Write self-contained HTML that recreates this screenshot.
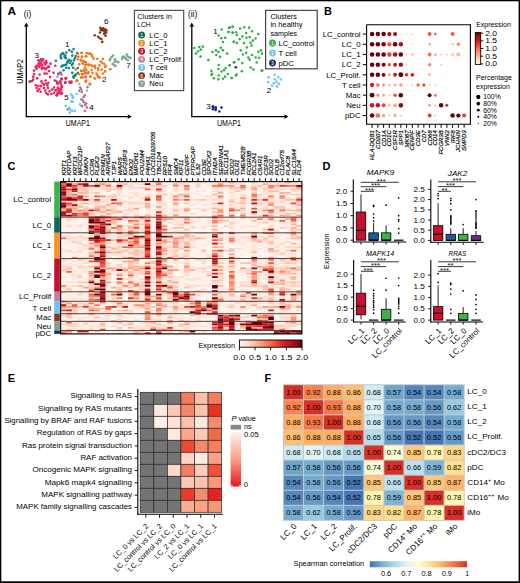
<!DOCTYPE html>
<html><head><meta charset="utf-8"><style>
html,body{margin:0;padding:0;background:#fff;width:520px;height:583px;overflow:hidden}
svg{display:block}
text{font-family:"Liberation Sans",sans-serif}
</style></head><body>
<svg width="520" height="583" viewBox="0 0 520 583" font-family="Liberation Sans, sans-serif"><rect x="0.00" y="0.00" width="520.00" height="1.30" fill="#000"/>
<rect x="0.00" y="0.00" width="1.30" height="583.00" fill="#000"/>
<rect x="518.60" y="0.00" width="1.40" height="583.00" fill="#000"/>
<rect x="0.00" y="581.30" width="520.00" height="1.70" fill="#000"/>
<text x="7.60" y="15.20" font-size="11" text-anchor="start" font-weight="bold" fill="#000" textLength="8.6" lengthAdjust="spacingAndGlyphs">A</text>
<text x="324.10" y="15.00" font-size="11" text-anchor="start" font-weight="bold" fill="#000">B</text>
<text x="7.60" y="169.60" font-size="11" text-anchor="start" font-weight="bold" fill="#000">C</text>
<text x="322.40" y="169.80" font-size="11" text-anchor="start" font-weight="bold" fill="#000">D</text>
<text x="7.80" y="381.60" font-size="11" text-anchor="start" font-weight="bold" fill="#000">E</text>
<text x="264.60" y="381.60" font-size="11" text-anchor="start" font-weight="bold" fill="#000">F</text>
<line x1="26.30" y1="116.60" x2="129.50" y2="116.60" stroke="#000" stroke-width="1.3"/>
<path d="M131.8 116.6 L127.4 114.2 L128.4 116.6 L127.4 119.0 Z" fill="#000"/>
<line x1="26.30" y1="117.20" x2="26.30" y2="25.50" stroke="#000" stroke-width="1.3"/>
<path d="M26.3 22.6 L23.9 27.0 L26.3 26.0 L28.7 27.0 Z" fill="#000"/>
<text x="23.80" y="16.90" font-size="8.4" text-anchor="start">(i)</text>
<text x="77.80" y="126.30" font-size="8.8" text-anchor="middle" textLength="24.0" lengthAdjust="spacingAndGlyphs">UMAP1</text>
<text x="23.40" y="71.40" font-size="9.0" text-anchor="middle" transform="rotate(-90 23.40 71.40)" textLength="24.7" lengthAdjust="spacingAndGlyphs">UMAP2</text>
<circle cx="40.98" cy="59.33" r="1.30" fill="#e6245f"/>
<circle cx="43.14" cy="59.33" r="1.30" fill="#e6245f"/>
<circle cx="39.68" cy="61.06" r="1.30" fill="#e6245f"/>
<circle cx="42.28" cy="61.06" r="1.30" fill="#e6245f"/>
<circle cx="46.17" cy="61.06" r="1.30" fill="#e6245f"/>
<circle cx="38.82" cy="63.22" r="1.30" fill="#e6245f"/>
<circle cx="40.98" cy="63.22" r="1.30" fill="#e6245f"/>
<circle cx="44.44" cy="62.79" r="1.30" fill="#e6245f"/>
<circle cx="46.61" cy="62.79" r="1.30" fill="#e6245f"/>
<circle cx="50.50" cy="63.65" r="1.30" fill="#e6245f"/>
<circle cx="37.52" cy="65.38" r="1.30" fill="#e6245f"/>
<circle cx="40.11" cy="64.95" r="1.30" fill="#e6245f"/>
<circle cx="42.28" cy="65.38" r="1.30" fill="#e6245f"/>
<circle cx="45.31" cy="64.52" r="1.30" fill="#e6245f"/>
<circle cx="48.34" cy="66.25" r="1.30" fill="#e6245f"/>
<circle cx="35.79" cy="67.55" r="1.30" fill="#e6245f"/>
<circle cx="39.25" cy="67.11" r="1.30" fill="#e6245f"/>
<circle cx="41.85" cy="67.55" r="1.30" fill="#e6245f"/>
<circle cx="44.01" cy="67.98" r="1.30" fill="#e6245f"/>
<circle cx="46.61" cy="67.98" r="1.30" fill="#e6245f"/>
<circle cx="48.77" cy="67.11" r="1.30" fill="#e6245f"/>
<circle cx="55.26" cy="65.82" r="1.30" fill="#e6245f"/>
<circle cx="34.06" cy="70.58" r="1.30" fill="#e6245f"/>
<circle cx="36.65" cy="68.85" r="1.30" fill="#e6245f"/>
<circle cx="41.85" cy="68.85" r="1.30" fill="#e6245f"/>
<circle cx="45.31" cy="69.28" r="1.30" fill="#e6245f"/>
<circle cx="49.20" cy="71.01" r="1.30" fill="#e6245f"/>
<circle cx="53.53" cy="72.74" r="1.30" fill="#e6245f"/>
<circle cx="34.06" cy="74.04" r="1.30" fill="#e6245f"/>
<circle cx="39.68" cy="74.47" r="1.30" fill="#e6245f"/>
<circle cx="44.44" cy="73.61" r="1.30" fill="#e6245f"/>
<circle cx="46.61" cy="73.61" r="1.30" fill="#e6245f"/>
<circle cx="58.29" cy="74.04" r="1.30" fill="#e6245f"/>
<circle cx="50.07" cy="77.07" r="1.30" fill="#e6245f"/>
<circle cx="37.09" cy="78.36" r="1.30" fill="#e6245f"/>
<circle cx="33.19" cy="79.66" r="1.30" fill="#e6245f"/>
<circle cx="31.89" cy="80.96" r="1.30" fill="#e6245f"/>
<circle cx="41.41" cy="81.39" r="1.30" fill="#e6245f"/>
<circle cx="45.74" cy="80.53" r="1.30" fill="#e6245f"/>
<circle cx="48.34" cy="82.69" r="1.30" fill="#e6245f"/>
<circle cx="54.83" cy="80.53" r="1.30" fill="#e6245f"/>
<circle cx="57.42" cy="82.69" r="1.30" fill="#e6245f"/>
<circle cx="61.32" cy="78.80" r="1.30" fill="#e6245f"/>
<circle cx="65.64" cy="78.36" r="1.30" fill="#e6245f"/>
<circle cx="60.45" cy="81.39" r="1.30" fill="#e6245f"/>
<circle cx="65.21" cy="82.69" r="1.30" fill="#e6245f"/>
<circle cx="69.54" cy="81.83" r="1.30" fill="#e6245f"/>
<circle cx="71.27" cy="82.69" r="1.30" fill="#e6245f"/>
<circle cx="35.79" cy="85.29" r="1.30" fill="#e6245f"/>
<circle cx="38.38" cy="85.72" r="1.30" fill="#e6245f"/>
<circle cx="40.98" cy="86.15" r="1.30" fill="#e6245f"/>
<circle cx="44.01" cy="84.85" r="1.30" fill="#e6245f"/>
<circle cx="46.17" cy="83.56" r="1.30" fill="#e6245f"/>
<circle cx="47.47" cy="85.29" r="1.30" fill="#e6245f"/>
<circle cx="44.01" cy="87.88" r="1.30" fill="#e6245f"/>
<circle cx="47.90" cy="87.88" r="1.30" fill="#e6245f"/>
<circle cx="36.65" cy="87.88" r="1.30" fill="#e6245f"/>
<circle cx="39.25" cy="89.18" r="1.30" fill="#e6245f"/>
<circle cx="37.52" cy="90.91" r="1.30" fill="#e6245f"/>
<circle cx="40.55" cy="91.78" r="1.30" fill="#e6245f"/>
<circle cx="45.31" cy="90.48" r="1.30" fill="#e6245f"/>
<circle cx="46.17" cy="93.08" r="1.30" fill="#e6245f"/>
<circle cx="53.96" cy="87.45" r="1.30" fill="#e6245f"/>
<circle cx="57.85" cy="87.88" r="1.30" fill="#e6245f"/>
<circle cx="61.75" cy="87.02" r="1.30" fill="#e6245f"/>
<circle cx="52.23" cy="89.61" r="1.30" fill="#e6245f"/>
<circle cx="55.26" cy="90.48" r="1.30" fill="#e6245f"/>
<circle cx="58.72" cy="90.48" r="1.30" fill="#e6245f"/>
<circle cx="61.32" cy="89.61" r="1.30" fill="#e6245f"/>
<circle cx="51.36" cy="93.94" r="1.30" fill="#e6245f"/>
<circle cx="53.96" cy="93.08" r="1.30" fill="#e6245f"/>
<circle cx="57.42" cy="93.08" r="1.30" fill="#e6245f"/>
<circle cx="60.88" cy="93.51" r="1.30" fill="#e6245f"/>
<circle cx="56.56" cy="95.24" r="1.30" fill="#e6245f"/>
<circle cx="47.90" cy="94.37" r="1.30" fill="#e6245f"/>
<circle cx="38.38" cy="60.19" r="1.30" fill="#e6245f"/>
<circle cx="36.22" cy="66.25" r="1.30" fill="#e6245f"/>
<circle cx="33.19" cy="76.63" r="1.30" fill="#e6245f"/>
<circle cx="42.71" cy="83.56" r="1.30" fill="#e6245f"/>
<circle cx="49.63" cy="91.34" r="1.30" fill="#e6245f"/>
<circle cx="65.82" cy="78.46" r="1.30" fill="#e6245f"/>
<circle cx="61.49" cy="78.89" r="1.30" fill="#e6245f"/>
<circle cx="56.73" cy="81.49" r="1.30" fill="#e6245f"/>
<circle cx="60.19" cy="81.92" r="1.30" fill="#e6245f"/>
<circle cx="65.38" cy="82.79" r="1.30" fill="#e6245f"/>
<circle cx="69.71" cy="82.36" r="1.30" fill="#e6245f"/>
<circle cx="71.44" cy="81.49" r="1.30" fill="#e6245f"/>
<circle cx="57.60" cy="83.65" r="1.30" fill="#e6245f"/>
<circle cx="61.06" cy="84.52" r="1.30" fill="#e6245f"/>
<circle cx="61.92" cy="86.25" r="1.30" fill="#e6245f"/>
<circle cx="58.03" cy="87.98" r="1.30" fill="#e6245f"/>
<circle cx="60.19" cy="88.85" r="1.30" fill="#e6245f"/>
<circle cx="56.30" cy="90.14" r="1.30" fill="#e6245f"/>
<circle cx="59.33" cy="91.44" r="1.30" fill="#e6245f"/>
<circle cx="61.06" cy="92.31" r="1.30" fill="#e6245f"/>
<circle cx="58.46" cy="93.61" r="1.30" fill="#e6245f"/>
<circle cx="61.92" cy="93.61" r="1.30" fill="#e6245f"/>
<circle cx="56.73" cy="95.34" r="1.30" fill="#e6245f"/>
<circle cx="58.46" cy="73.75" r="1.30" fill="#e6245f"/>
<circle cx="61.92" cy="78.94" r="1.30" fill="#e6245f"/>
<circle cx="66.25" cy="78.08" r="1.30" fill="#e6245f"/>
<circle cx="65.38" cy="82.40" r="1.30" fill="#e6245f"/>
<circle cx="69.71" cy="82.40" r="1.30" fill="#e6245f"/>
<circle cx="57.60" cy="83.27" r="1.30" fill="#e6245f"/>
<circle cx="60.19" cy="82.40" r="1.30" fill="#e6245f"/>
<circle cx="73.61" cy="49.09" r="1.30" fill="#12838a"/>
<circle cx="69.28" cy="50.21" r="1.30" fill="#12838a"/>
<circle cx="71.87" cy="51.68" r="1.30" fill="#12838a"/>
<circle cx="66.25" cy="52.55" r="1.30" fill="#12838a"/>
<circle cx="62.79" cy="52.98" r="1.30" fill="#12838a"/>
<circle cx="61.49" cy="54.28" r="1.30" fill="#12838a"/>
<circle cx="60.62" cy="56.01" r="1.30" fill="#12838a"/>
<circle cx="65.38" cy="55.58" r="1.30" fill="#12838a"/>
<circle cx="72.31" cy="55.58" r="1.30" fill="#12838a"/>
<circle cx="64.52" cy="56.87" r="1.30" fill="#12838a"/>
<circle cx="74.90" cy="58.17" r="1.30" fill="#12838a"/>
<circle cx="65.82" cy="58.17" r="1.30" fill="#12838a"/>
<circle cx="61.06" cy="58.17" r="1.30" fill="#12838a"/>
<circle cx="55.87" cy="60.77" r="1.30" fill="#12838a"/>
<circle cx="68.85" cy="59.90" r="1.30" fill="#12838a"/>
<circle cx="67.98" cy="61.20" r="1.30" fill="#12838a"/>
<circle cx="71.01" cy="60.77" r="1.30" fill="#12838a"/>
<circle cx="74.04" cy="60.34" r="1.30" fill="#12838a"/>
<circle cx="69.71" cy="62.93" r="1.30" fill="#12838a"/>
<circle cx="72.74" cy="63.36" r="1.30" fill="#12838a"/>
<circle cx="71.87" cy="65.10" r="1.30" fill="#12838a"/>
<circle cx="62.79" cy="65.53" r="1.30" fill="#12838a"/>
<circle cx="64.52" cy="65.10" r="1.30" fill="#12838a"/>
<circle cx="66.25" cy="64.66" r="1.30" fill="#12838a"/>
<circle cx="61.49" cy="66.39" r="1.30" fill="#12838a"/>
<circle cx="66.25" cy="67.69" r="1.30" fill="#12838a"/>
<circle cx="68.85" cy="68.12" r="1.30" fill="#12838a"/>
<circle cx="73.17" cy="67.69" r="1.30" fill="#12838a"/>
<circle cx="77.93" cy="68.12" r="1.30" fill="#12838a"/>
<circle cx="63.65" cy="70.29" r="1.30" fill="#12838a"/>
<circle cx="60.62" cy="72.45" r="1.30" fill="#12838a"/>
<circle cx="72.31" cy="72.88" r="1.30" fill="#12838a"/>
<circle cx="77.93" cy="72.88" r="1.30" fill="#12838a"/>
<circle cx="75.77" cy="74.61" r="1.30" fill="#12838a"/>
<circle cx="74.47" cy="76.34" r="1.30" fill="#12838a"/>
<circle cx="73.61" cy="77.64" r="1.30" fill="#12838a"/>
<circle cx="77.07" cy="52.98" r="1.30" fill="#12838a"/>
<circle cx="75.77" cy="56.01" r="1.30" fill="#12838a"/>
<circle cx="63.65" cy="54.28" r="1.30" fill="#12838a"/>
<circle cx="67.11" cy="62.50" r="1.30" fill="#12838a"/>
<circle cx="73.61" cy="76.30" r="1.30" fill="#12838a"/>
<circle cx="74.90" cy="75.43" r="1.30" fill="#12838a"/>
<circle cx="77.93" cy="53.85" r="1.30" fill="#f3751a"/>
<circle cx="81.39" cy="52.98" r="1.30" fill="#f3751a"/>
<circle cx="87.02" cy="52.98" r="1.30" fill="#f3751a"/>
<circle cx="89.61" cy="53.85" r="1.30" fill="#f3751a"/>
<circle cx="78.36" cy="56.87" r="1.30" fill="#f3751a"/>
<circle cx="81.83" cy="56.87" r="1.30" fill="#f3751a"/>
<circle cx="86.15" cy="56.44" r="1.30" fill="#f3751a"/>
<circle cx="77.93" cy="59.47" r="1.30" fill="#f3751a"/>
<circle cx="80.96" cy="59.90" r="1.30" fill="#f3751a"/>
<circle cx="83.56" cy="61.20" r="1.30" fill="#f3751a"/>
<circle cx="85.72" cy="62.07" r="1.30" fill="#f3751a"/>
<circle cx="79.23" cy="64.23" r="1.30" fill="#f3751a"/>
<circle cx="82.69" cy="63.36" r="1.30" fill="#f3751a"/>
<circle cx="85.29" cy="65.10" r="1.30" fill="#f3751a"/>
<circle cx="88.75" cy="65.10" r="1.30" fill="#f3751a"/>
<circle cx="80.96" cy="70.72" r="1.30" fill="#f3751a"/>
<circle cx="83.56" cy="70.29" r="1.30" fill="#f3751a"/>
<circle cx="86.15" cy="69.85" r="1.30" fill="#f3751a"/>
<circle cx="85.29" cy="72.88" r="1.30" fill="#f3751a"/>
<circle cx="87.88" cy="72.45" r="1.30" fill="#f3751a"/>
<circle cx="81.83" cy="73.75" r="1.30" fill="#f3751a"/>
<circle cx="78.80" cy="74.18" r="1.30" fill="#f3751a"/>
<circle cx="82.69" cy="77.21" r="1.30" fill="#f3751a"/>
<circle cx="76.63" cy="80.67" r="1.30" fill="#f3751a"/>
<circle cx="86.15" cy="80.67" r="1.30" fill="#f3751a"/>
<circle cx="75.77" cy="69.42" r="1.30" fill="#f3751a"/>
<circle cx="84.85" cy="67.69" r="1.30" fill="#f3751a"/>
<circle cx="77.50" cy="80.67" r="1.30" fill="#f3751a"/>
<circle cx="89.61" cy="83.70" r="1.30" fill="#f3751a"/>
<circle cx="81.73" cy="52.79" r="1.30" fill="#f3751a"/>
<circle cx="86.92" cy="53.22" r="1.30" fill="#f3751a"/>
<circle cx="89.52" cy="53.65" r="1.30" fill="#f3751a"/>
<circle cx="91.68" cy="54.52" r="1.30" fill="#f3751a"/>
<circle cx="82.16" cy="56.68" r="1.30" fill="#f3751a"/>
<circle cx="86.06" cy="56.25" r="1.30" fill="#f3751a"/>
<circle cx="92.11" cy="56.25" r="1.30" fill="#f3751a"/>
<circle cx="93.41" cy="58.41" r="1.30" fill="#f3751a"/>
<circle cx="97.31" cy="58.85" r="1.30" fill="#f3751a"/>
<circle cx="102.93" cy="58.85" r="1.30" fill="#f3751a"/>
<circle cx="80.87" cy="60.58" r="1.30" fill="#f3751a"/>
<circle cx="83.46" cy="61.01" r="1.30" fill="#f3751a"/>
<circle cx="85.62" cy="62.31" r="1.30" fill="#f3751a"/>
<circle cx="83.03" cy="63.61" r="1.30" fill="#f3751a"/>
<circle cx="86.92" cy="64.47" r="1.30" fill="#f3751a"/>
<circle cx="89.09" cy="64.47" r="1.30" fill="#f3751a"/>
<circle cx="91.25" cy="65.34" r="1.30" fill="#f3751a"/>
<circle cx="92.98" cy="66.20" r="1.30" fill="#f3751a"/>
<circle cx="95.14" cy="65.77" r="1.30" fill="#f3751a"/>
<circle cx="100.77" cy="61.44" r="1.30" fill="#f3751a"/>
<circle cx="102.07" cy="62.74" r="1.30" fill="#f3751a"/>
<circle cx="99.47" cy="65.34" r="1.30" fill="#f3751a"/>
<circle cx="104.23" cy="64.04" r="1.30" fill="#f3751a"/>
<circle cx="105.96" cy="65.77" r="1.30" fill="#f3751a"/>
<circle cx="105.10" cy="67.07" r="1.30" fill="#f3751a"/>
<circle cx="95.14" cy="67.93" r="1.30" fill="#f3751a"/>
<circle cx="98.17" cy="67.93" r="1.30" fill="#f3751a"/>
<circle cx="98.17" cy="70.10" r="1.30" fill="#f3751a"/>
<circle cx="101.63" cy="69.66" r="1.30" fill="#f3751a"/>
<circle cx="91.68" cy="70.10" r="1.30" fill="#f3751a"/>
<circle cx="86.06" cy="70.10" r="1.30" fill="#f3751a"/>
<circle cx="81.73" cy="70.96" r="1.30" fill="#f3751a"/>
<circle cx="83.89" cy="70.96" r="1.30" fill="#f3751a"/>
<circle cx="88.65" cy="72.26" r="1.30" fill="#f3751a"/>
<circle cx="92.55" cy="73.12" r="1.30" fill="#f3751a"/>
<circle cx="96.44" cy="73.56" r="1.30" fill="#f3751a"/>
<circle cx="102.93" cy="73.56" r="1.30" fill="#f3751a"/>
<circle cx="105.10" cy="71.39" r="1.30" fill="#f3751a"/>
<circle cx="110.29" cy="69.23" r="1.30" fill="#f3751a"/>
<circle cx="82.16" cy="74.42" r="1.30" fill="#f3751a"/>
<circle cx="85.62" cy="73.12" r="1.30" fill="#f3751a"/>
<circle cx="90.38" cy="76.59" r="1.30" fill="#f3751a"/>
<circle cx="97.31" cy="75.29" r="1.30" fill="#f3751a"/>
<circle cx="99.90" cy="77.45" r="1.30" fill="#f3751a"/>
<circle cx="94.71" cy="78.32" r="1.30" fill="#f3751a"/>
<circle cx="81.73" cy="77.45" r="1.30" fill="#f3751a"/>
<circle cx="85.62" cy="81.34" r="1.30" fill="#f3751a"/>
<circle cx="89.95" cy="84.37" r="1.30" fill="#f3751a"/>
<circle cx="87.79" cy="73.56" r="1.30" fill="#f3751a"/>
<circle cx="84.33" cy="73.99" r="1.30" fill="#f3751a"/>
<circle cx="76.63" cy="80.88" r="1.30" fill="#f3751a"/>
<circle cx="80.96" cy="77.60" r="1.30" fill="#f3751a"/>
<circle cx="85.72" cy="81.49" r="1.30" fill="#f3751a"/>
<circle cx="90.05" cy="84.09" r="1.30" fill="#f3751a"/>
<circle cx="90.48" cy="76.73" r="1.30" fill="#f3751a"/>
<circle cx="94.81" cy="78.46" r="1.30" fill="#f3751a"/>
<circle cx="98.27" cy="77.16" r="1.30" fill="#f3751a"/>
<circle cx="80.10" cy="87.55" r="1.30" fill="#b86b93"/>
<circle cx="80.96" cy="89.28" r="1.30" fill="#b86b93"/>
<circle cx="79.23" cy="91.01" r="1.30" fill="#b86b93"/>
<circle cx="81.83" cy="91.87" r="1.30" fill="#b86b93"/>
<circle cx="87.45" cy="87.11" r="1.30" fill="#b86b93"/>
<circle cx="84.85" cy="95.34" r="1.30" fill="#b86b93"/>
<circle cx="83.56" cy="97.07" r="1.30" fill="#b86b93"/>
<circle cx="81.39" cy="99.23" r="1.30" fill="#b86b93"/>
<circle cx="82.69" cy="100.53" r="1.30" fill="#b86b93"/>
<circle cx="83.99" cy="102.26" r="1.30" fill="#b86b93"/>
<circle cx="86.15" cy="103.56" r="1.30" fill="#b86b93"/>
<circle cx="85.29" cy="105.29" r="1.30" fill="#b86b93"/>
<circle cx="81.83" cy="106.15" r="1.30" fill="#b86b93"/>
<circle cx="87.02" cy="107.45" r="1.30" fill="#b86b93"/>
<circle cx="84.85" cy="110.91" r="1.30" fill="#b86b93"/>
<circle cx="67.55" cy="109.18" r="1.30" fill="#b86b93"/>
<circle cx="85.72" cy="77.16" r="1.30" fill="#b86b93"/>
<circle cx="61.49" cy="74.61" r="1.30" fill="#b86b93"/>
<circle cx="85.72" cy="76.78" r="1.30" fill="#b86b93"/>
<circle cx="57.60" cy="76.73" r="1.30" fill="#6dc5ef"/>
<circle cx="79.23" cy="84.09" r="1.30" fill="#6dc5ef"/>
<circle cx="87.02" cy="90.58" r="1.30" fill="#6dc5ef"/>
<circle cx="71.01" cy="94.47" r="1.30" fill="#6dc5ef"/>
<circle cx="72.31" cy="95.77" r="1.30" fill="#6dc5ef"/>
<circle cx="76.63" cy="94.04" r="1.30" fill="#6dc5ef"/>
<circle cx="72.74" cy="97.93" r="1.30" fill="#6dc5ef"/>
<circle cx="71.44" cy="101.39" r="1.30" fill="#6dc5ef"/>
<circle cx="72.74" cy="101.83" r="1.30" fill="#6dc5ef"/>
<circle cx="65.82" cy="105.72" r="1.30" fill="#6dc5ef"/>
<circle cx="69.28" cy="107.88" r="1.30" fill="#6dc5ef"/>
<circle cx="70.14" cy="109.61" r="1.30" fill="#6dc5ef"/>
<circle cx="72.31" cy="110.91" r="1.30" fill="#6dc5ef"/>
<circle cx="74.90" cy="110.91" r="1.30" fill="#6dc5ef"/>
<circle cx="69.71" cy="112.64" r="1.30" fill="#6dc5ef"/>
<circle cx="80.10" cy="104.42" r="1.30" fill="#6dc5ef"/>
<circle cx="73.17" cy="97.07" r="1.30" fill="#6dc5ef"/>
<circle cx="57.42" cy="76.63" r="1.30" fill="#6dc5ef"/>
<circle cx="100.38" cy="27.74" r="1.30" fill="#8a3411"/>
<circle cx="101.79" cy="28.68" r="1.30" fill="#8a3411"/>
<circle cx="103.68" cy="29.15" r="1.30" fill="#8a3411"/>
<circle cx="105.57" cy="29.62" r="1.30" fill="#8a3411"/>
<circle cx="106.51" cy="30.57" r="1.30" fill="#8a3411"/>
<circle cx="100.85" cy="30.09" r="1.30" fill="#8a3411"/>
<circle cx="102.74" cy="30.57" r="1.30" fill="#8a3411"/>
<circle cx="104.62" cy="31.51" r="1.30" fill="#8a3411"/>
<circle cx="106.04" cy="32.45" r="1.30" fill="#8a3411"/>
<circle cx="99.91" cy="32.45" r="1.30" fill="#8a3411"/>
<circle cx="104.15" cy="33.87" r="1.30" fill="#8a3411"/>
<circle cx="105.57" cy="35.75" r="1.30" fill="#8a3411"/>
<circle cx="94.72" cy="35.28" r="1.30" fill="#8a3411"/>
<circle cx="98.02" cy="36.70" r="1.30" fill="#8a3411"/>
<circle cx="99.43" cy="38.11" r="1.30" fill="#8a3411"/>
<circle cx="101.32" cy="39.06" r="1.30" fill="#8a3411"/>
<circle cx="102.26" cy="41.89" r="1.30" fill="#8a3411"/>
<circle cx="103.21" cy="28.21" r="1.30" fill="#8a3411"/>
<circle cx="105.09" cy="32.92" r="1.30" fill="#8a3411"/>
<circle cx="29.70" cy="81.60" r="1.30" fill="#8a3411"/>
<circle cx="113.11" cy="55.57" r="1.30" fill="#7ea48d"/>
<circle cx="111.70" cy="56.98" r="1.30" fill="#7ea48d"/>
<circle cx="110.28" cy="58.87" r="1.30" fill="#7ea48d"/>
<circle cx="109.81" cy="60.28" r="1.30" fill="#7ea48d"/>
<circle cx="115.00" cy="59.34" r="1.30" fill="#7ea48d"/>
<circle cx="115.94" cy="61.23" r="1.30" fill="#7ea48d"/>
<circle cx="114.53" cy="61.70" r="1.30" fill="#7ea48d"/>
<circle cx="118.30" cy="62.17" r="1.30" fill="#7ea48d"/>
<circle cx="112.64" cy="64.06" r="1.30" fill="#7ea48d"/>
<circle cx="114.06" cy="65.00" r="1.30" fill="#7ea48d"/>
<circle cx="115.47" cy="65.94" r="1.30" fill="#7ea48d"/>
<circle cx="122.55" cy="57.45" r="1.30" fill="#7ea48d"/>
<circle cx="123.49" cy="56.51" r="1.30" fill="#7ea48d"/>
<circle cx="124.91" cy="57.45" r="1.30" fill="#7ea48d"/>
<circle cx="126.79" cy="54.62" r="1.30" fill="#7ea48d"/>
<circle cx="127.74" cy="56.51" r="1.30" fill="#7ea48d"/>
<circle cx="129.15" cy="57.45" r="1.30" fill="#7ea48d"/>
<circle cx="130.57" cy="57.92" r="1.30" fill="#7ea48d"/>
<circle cx="125.85" cy="58.87" r="1.30" fill="#7ea48d"/>
<circle cx="127.74" cy="60.28" r="1.30" fill="#7ea48d"/>
<circle cx="122.08" cy="58.87" r="1.30" fill="#7ea48d"/>
<text x="67.30" y="46.80" font-size="8.0" text-anchor="middle">1</text>
<text x="104.20" y="82.00" font-size="8.0" text-anchor="middle">2</text>
<text x="36.70" y="58.00" font-size="8.0" text-anchor="middle">3</text>
<text x="91.50" y="110.00" font-size="8.0" text-anchor="middle">4</text>
<text x="66.40" y="100.00" font-size="8.0" text-anchor="middle">5</text>
<text x="106.30" y="24.40" font-size="8.0" text-anchor="middle">6</text>
<text x="128.40" y="68.20" font-size="8.0" text-anchor="middle">7</text>
<rect x="134.40" y="10.40" width="49.30" height="80.20" fill="#fff" stroke="#4a4a4a" stroke-width="1.15"/>
<text x="137.30" y="18.90" font-size="7.8" text-anchor="start" textLength="34.4" lengthAdjust="spacingAndGlyphs">Clusters in</text>
<text x="137.30" y="27.40" font-size="7.8" text-anchor="start" textLength="13.4" lengthAdjust="spacingAndGlyphs">LCH</text>
<circle cx="141.60" cy="35.00" r="3.45" fill="#0d6b4f"/>
<text x="141.60" y="36.90" font-size="5.2" text-anchor="middle" fill="#fff">1</text>
<text x="149.20" y="37.50" font-size="7.7" text-anchor="start">LC_0</text>
<circle cx="141.60" cy="43.12" r="3.45" fill="#f08a1a"/>
<text x="141.60" y="45.02" font-size="5.2" text-anchor="middle" fill="#fff">2</text>
<text x="149.20" y="45.62" font-size="7.7" text-anchor="start">LC_1</text>
<circle cx="141.60" cy="51.24" r="3.45" fill="#c8102e"/>
<text x="141.60" y="53.14" font-size="5.2" text-anchor="middle" fill="#fff">3</text>
<text x="149.20" y="53.74" font-size="7.7" text-anchor="start">LC_2</text>
<circle cx="141.60" cy="59.36" r="3.45" fill="#c27f9f"/>
<text x="141.60" y="61.26" font-size="5.2" text-anchor="middle" fill="#fff">4</text>
<text x="149.20" y="61.86" font-size="7.7" text-anchor="start">LC_Prolif.</text>
<circle cx="141.60" cy="67.48" r="3.45" fill="#6dc5ef"/>
<text x="141.60" y="69.38" font-size="5.2" text-anchor="middle" fill="#fff">5</text>
<text x="149.20" y="69.98" font-size="7.7" text-anchor="start">T cell</text>
<circle cx="141.60" cy="75.60" r="3.45" fill="#8a3411"/>
<text x="141.60" y="77.50" font-size="5.2" text-anchor="middle" fill="#fff">6</text>
<text x="149.20" y="78.10" font-size="7.7" text-anchor="start">Mac</text>
<circle cx="141.60" cy="83.72" r="3.45" fill="#7ea48d"/>
<text x="141.60" y="85.62" font-size="5.2" text-anchor="middle" fill="#fff">7</text>
<text x="149.20" y="86.22" font-size="7.7" text-anchor="start">Neu</text>
<line x1="191.80" y1="116.60" x2="286.20" y2="116.60" stroke="#000" stroke-width="1.3"/>
<path d="M288.5 116.6 L284.1 114.2 L285.1 116.6 L284.1 119.0 Z" fill="#000"/>
<line x1="191.80" y1="117.20" x2="191.80" y2="25.50" stroke="#000" stroke-width="1.3"/>
<path d="M191.8 22.6 L189.4 27.0 L191.8 26.0 L194.2 27.0 Z" fill="#000"/>
<text x="187.90" y="16.90" font-size="8.4" text-anchor="start">(ii)</text>
<text x="229.00" y="126.30" font-size="8.8" text-anchor="middle" textLength="24.0" lengthAdjust="spacingAndGlyphs">UMAP1</text>
<circle cx="221.59" cy="29.57" r="1.30" fill="#2fb14b"/>
<circle cx="228.94" cy="27.95" r="1.30" fill="#2fb14b"/>
<circle cx="232.73" cy="26.87" r="1.30" fill="#2fb14b"/>
<circle cx="228.40" cy="31.95" r="1.30" fill="#2fb14b"/>
<circle cx="232.73" cy="32.82" r="1.30" fill="#2fb14b"/>
<circle cx="218.67" cy="35.52" r="1.30" fill="#2fb14b"/>
<circle cx="221.37" cy="38.23" r="1.30" fill="#2fb14b"/>
<circle cx="225.16" cy="37.69" r="1.30" fill="#2fb14b"/>
<circle cx="222.99" cy="42.01" r="1.30" fill="#2fb14b"/>
<circle cx="233.81" cy="42.01" r="1.30" fill="#2fb14b"/>
<circle cx="194.33" cy="47.96" r="1.30" fill="#2fb14b"/>
<circle cx="199.20" cy="47.10" r="1.30" fill="#2fb14b"/>
<circle cx="202.77" cy="46.66" r="1.30" fill="#2fb14b"/>
<circle cx="200.82" cy="49.59" r="1.30" fill="#2fb14b"/>
<circle cx="198.11" cy="51.21" r="1.30" fill="#2fb14b"/>
<circle cx="195.95" cy="53.59" r="1.30" fill="#2fb14b"/>
<circle cx="200.49" cy="56.62" r="1.30" fill="#2fb14b"/>
<circle cx="208.39" cy="60.08" r="1.30" fill="#2fb14b"/>
<circle cx="212.39" cy="52.07" r="1.30" fill="#2fb14b"/>
<circle cx="215.96" cy="50.34" r="1.30" fill="#2fb14b"/>
<circle cx="218.34" cy="52.07" r="1.30" fill="#2fb14b"/>
<circle cx="220.83" cy="47.75" r="1.30" fill="#2fb14b"/>
<circle cx="222.99" cy="50.13" r="1.30" fill="#2fb14b"/>
<circle cx="216.29" cy="54.99" r="1.30" fill="#2fb14b"/>
<circle cx="220.07" cy="56.83" r="1.30" fill="#2fb14b"/>
<circle cx="227.11" cy="53.59" r="1.30" fill="#2fb14b"/>
<circle cx="218.67" cy="65.05" r="1.30" fill="#2fb14b"/>
<circle cx="229.49" cy="65.27" r="1.30" fill="#2fb14b"/>
<circle cx="233.81" cy="62.57" r="1.30" fill="#2fb14b"/>
<circle cx="211.42" cy="70.90" r="1.30" fill="#2fb14b"/>
<circle cx="212.18" cy="73.71" r="1.30" fill="#2fb14b"/>
<circle cx="211.64" cy="75.01" r="1.30" fill="#2fb14b"/>
<circle cx="218.34" cy="69.06" r="1.30" fill="#2fb14b"/>
<circle cx="221.37" cy="71.55" r="1.30" fill="#2fb14b"/>
<circle cx="224.08" cy="70.14" r="1.30" fill="#2fb14b"/>
<circle cx="225.70" cy="67.98" r="1.30" fill="#2fb14b"/>
<circle cx="218.67" cy="75.55" r="1.30" fill="#2fb14b"/>
<circle cx="227.86" cy="73.93" r="1.30" fill="#2fb14b"/>
<circle cx="225.16" cy="76.63" r="1.30" fill="#2fb14b"/>
<circle cx="222.99" cy="78.79" r="1.30" fill="#2fb14b"/>
<circle cx="213.80" cy="78.25" r="1.30" fill="#2fb14b"/>
<circle cx="218.34" cy="79.33" r="1.30" fill="#2fb14b"/>
<circle cx="231.65" cy="78.04" r="1.30" fill="#2fb14b"/>
<circle cx="229.62" cy="27.41" r="1.30" fill="#2fb14b"/>
<circle cx="232.54" cy="26.87" r="1.30" fill="#2fb14b"/>
<circle cx="240.12" cy="28.49" r="1.30" fill="#2fb14b"/>
<circle cx="244.23" cy="27.19" r="1.30" fill="#2fb14b"/>
<circle cx="249.09" cy="27.63" r="1.30" fill="#2fb14b"/>
<circle cx="228.54" cy="31.95" r="1.30" fill="#2fb14b"/>
<circle cx="232.54" cy="32.60" r="1.30" fill="#2fb14b"/>
<circle cx="236.11" cy="32.28" r="1.30" fill="#2fb14b"/>
<circle cx="236.65" cy="34.98" r="1.30" fill="#2fb14b"/>
<circle cx="246.17" cy="33.03" r="1.30" fill="#2fb14b"/>
<circle cx="252.02" cy="31.20" r="1.30" fill="#2fb14b"/>
<circle cx="258.29" cy="34.12" r="1.30" fill="#2fb14b"/>
<circle cx="242.39" cy="36.60" r="1.30" fill="#2fb14b"/>
<circle cx="246.39" cy="37.69" r="1.30" fill="#2fb14b"/>
<circle cx="249.64" cy="36.93" r="1.30" fill="#2fb14b"/>
<circle cx="239.68" cy="39.09" r="1.30" fill="#2fb14b"/>
<circle cx="255.59" cy="38.44" r="1.30" fill="#2fb14b"/>
<circle cx="233.95" cy="41.69" r="1.30" fill="#2fb14b"/>
<circle cx="236.87" cy="43.09" r="1.30" fill="#2fb14b"/>
<circle cx="244.01" cy="43.09" r="1.30" fill="#2fb14b"/>
<circle cx="252.88" cy="40.61" r="1.30" fill="#2fb14b"/>
<circle cx="250.50" cy="42.77" r="1.30" fill="#2fb14b"/>
<circle cx="251.58" cy="45.58" r="1.30" fill="#2fb14b"/>
<circle cx="246.93" cy="47.42" r="1.30" fill="#2fb14b"/>
<circle cx="240.77" cy="50.34" r="1.30" fill="#2fb14b"/>
<circle cx="258.29" cy="51.75" r="1.30" fill="#2fb14b"/>
<circle cx="260.99" cy="50.34" r="1.30" fill="#2fb14b"/>
<circle cx="262.08" cy="53.59" r="1.30" fill="#2fb14b"/>
<circle cx="246.17" cy="52.83" r="1.30" fill="#2fb14b"/>
<circle cx="242.93" cy="54.45" r="1.30" fill="#2fb14b"/>
<circle cx="252.02" cy="54.99" r="1.30" fill="#2fb14b"/>
<circle cx="248.34" cy="57.48" r="1.30" fill="#2fb14b"/>
<circle cx="249.64" cy="59.65" r="1.30" fill="#2fb14b"/>
<circle cx="255.59" cy="57.48" r="1.30" fill="#2fb14b"/>
<circle cx="259.16" cy="57.70" r="1.30" fill="#2fb14b"/>
<circle cx="238.60" cy="59.32" r="1.30" fill="#2fb14b"/>
<circle cx="234.27" cy="62.24" r="1.30" fill="#2fb14b"/>
<circle cx="242.28" cy="63.11" r="1.30" fill="#2fb14b"/>
<circle cx="256.67" cy="62.57" r="1.30" fill="#2fb14b"/>
<circle cx="229.62" cy="65.27" r="1.30" fill="#2fb14b"/>
<circle cx="250.72" cy="67.43" r="1.30" fill="#2fb14b"/>
<circle cx="253.42" cy="69.60" r="1.30" fill="#2fb14b"/>
<circle cx="261.75" cy="70.46" r="1.30" fill="#2fb14b"/>
<circle cx="241.85" cy="71.22" r="1.30" fill="#2fb14b"/>
<circle cx="236.65" cy="74.47" r="1.30" fill="#2fb14b"/>
<circle cx="235.79" cy="75.55" r="1.30" fill="#2fb14b"/>
<circle cx="231.79" cy="78.04" r="1.30" fill="#2fb14b"/>
<circle cx="262.30" cy="70.60" r="1.30" fill="#2fb14b"/>
<circle cx="274.70" cy="74.80" r="1.30" fill="#6dc5ef"/>
<circle cx="268.50" cy="77.20" r="1.30" fill="#6dc5ef"/>
<circle cx="278.30" cy="77.10" r="1.30" fill="#6dc5ef"/>
<circle cx="280.90" cy="79.50" r="1.30" fill="#6dc5ef"/>
<circle cx="274.80" cy="79.30" r="1.30" fill="#6dc5ef"/>
<circle cx="276.50" cy="81.70" r="1.30" fill="#6dc5ef"/>
<circle cx="268.10" cy="82.10" r="1.30" fill="#6dc5ef"/>
<circle cx="273.80" cy="83.30" r="1.30" fill="#6dc5ef"/>
<circle cx="278.70" cy="83.90" r="1.30" fill="#6dc5ef"/>
<circle cx="271.80" cy="85.80" r="1.30" fill="#6dc5ef"/>
<circle cx="277.10" cy="86.60" r="1.30" fill="#6dc5ef"/>
<circle cx="212.90" cy="106.40" r="1.30" fill="#1a2590"/>
<circle cx="212.90" cy="107.90" r="1.30" fill="#1a2590"/>
<circle cx="212.90" cy="109.30" r="1.30" fill="#1a2590"/>
<circle cx="215.70" cy="107.40" r="1.30" fill="#1a2590"/>
<circle cx="215.70" cy="108.60" r="1.30" fill="#1a2590"/>
<circle cx="215.70" cy="110.00" r="1.30" fill="#1a2590"/>
<circle cx="219.30" cy="111.50" r="1.30" fill="#1a2590"/>
<circle cx="221.50" cy="107.60" r="1.30" fill="#1a2590"/>
<circle cx="235.80" cy="67.20" r="1.30" fill="#1a2590"/>
<text x="215.40" y="34.00" font-size="8.0" text-anchor="middle">1</text>
<text x="269.00" y="93.20" font-size="8.0" text-anchor="middle">2</text>
<text x="208.40" y="109.00" font-size="8.0" text-anchor="middle">3</text>
<rect x="265.60" y="10.40" width="51.60" height="58.40" fill="#fff" stroke="#4a4a4a" stroke-width="1.25"/>
<text x="270.40" y="18.60" font-size="7.8" text-anchor="start" textLength="26.4" lengthAdjust="spacingAndGlyphs">Clusters</text>
<text x="270.40" y="27.40" font-size="7.8" text-anchor="start" textLength="32.1" lengthAdjust="spacingAndGlyphs">in healthy</text>
<text x="270.40" y="35.90" font-size="7.8" text-anchor="start" textLength="26.7" lengthAdjust="spacingAndGlyphs">samples</text>
<circle cx="272.50" cy="43.00" r="3.45" fill="#2fb14b"/>
<text x="272.50" y="44.90" font-size="5.2" text-anchor="middle" fill="#fff">1</text>
<text x="278.50" y="45.60" font-size="7.7" text-anchor="start" textLength="36.0" lengthAdjust="spacingAndGlyphs">LC_control</text>
<circle cx="272.50" cy="53.00" r="3.45" fill="#6dc5ef"/>
<text x="272.50" y="54.90" font-size="5.2" text-anchor="middle" fill="#fff">2</text>
<text x="278.50" y="55.60" font-size="7.7" text-anchor="start">T cell</text>
<circle cx="272.50" cy="63.00" r="3.45" fill="#1d2a7f"/>
<text x="272.50" y="64.90" font-size="5.2" text-anchor="middle" fill="#fff">3</text>
<text x="278.50" y="65.60" font-size="7.7" text-anchor="start">pDC</text>
<line x1="366.60" y1="24.80" x2="366.60" y2="124.30" stroke="#000" stroke-width="1.1"/>
<line x1="366.10" y1="124.30" x2="470.40" y2="124.30" stroke="#000" stroke-width="1.1"/>
<line x1="366.60" y1="24.80" x2="470.40" y2="24.80" stroke="#000" stroke-width="1.1"/>
<line x1="470.40" y1="24.30" x2="470.40" y2="124.80" stroke="#000" stroke-width="1.1"/>
<line x1="362.80" y1="34.10" x2="366.60" y2="34.10" stroke="#000" stroke-width="1.0"/>
<text x="360.60" y="36.80" font-size="7.85" text-anchor="end">LC_control</text>
<line x1="362.80" y1="44.28" x2="366.60" y2="44.28" stroke="#000" stroke-width="1.0"/>
<text x="360.60" y="46.98" font-size="7.85" text-anchor="end">LC_0</text>
<line x1="362.80" y1="54.46" x2="366.60" y2="54.46" stroke="#000" stroke-width="1.0"/>
<text x="360.60" y="57.16" font-size="7.85" text-anchor="end">LC_1</text>
<line x1="362.80" y1="64.64" x2="366.60" y2="64.64" stroke="#000" stroke-width="1.0"/>
<text x="360.60" y="67.34" font-size="7.85" text-anchor="end">LC_2</text>
<line x1="362.80" y1="74.82" x2="366.60" y2="74.82" stroke="#000" stroke-width="1.0"/>
<text x="360.60" y="77.52" font-size="7.85" text-anchor="end">LC_Prolif.</text>
<line x1="362.80" y1="85.00" x2="366.60" y2="85.00" stroke="#000" stroke-width="1.0"/>
<text x="360.60" y="87.70" font-size="7.85" text-anchor="end">T cell</text>
<line x1="362.80" y1="95.18" x2="366.60" y2="95.18" stroke="#000" stroke-width="1.0"/>
<text x="360.60" y="97.88" font-size="7.85" text-anchor="end">Mac</text>
<line x1="362.80" y1="105.36" x2="366.60" y2="105.36" stroke="#000" stroke-width="1.0"/>
<text x="360.60" y="108.06" font-size="7.85" text-anchor="end">Neu</text>
<line x1="362.80" y1="115.54" x2="366.60" y2="115.54" stroke="#000" stroke-width="1.0"/>
<text x="360.60" y="118.24" font-size="7.85" text-anchor="end">pDC</text>
<line x1="372.10" y1="124.30" x2="372.10" y2="127.80" stroke="#000" stroke-width="1.0"/>
<text x="374.20" y="130.20" font-size="6.0" text-anchor="end" font-style="italic" transform="rotate(-90 374.20 130.20)" stroke="#231f20" stroke-width="0.22">HLA-DQB1</text>
<line x1="377.85" y1="124.30" x2="377.85" y2="127.80" stroke="#000" stroke-width="1.0"/>
<text x="379.95" y="130.20" font-size="6.0" text-anchor="end" font-style="italic" transform="rotate(-90 379.95 130.20)" stroke="#231f20" stroke-width="0.22">CD207</text>
<line x1="383.60" y1="124.30" x2="383.60" y2="127.80" stroke="#000" stroke-width="1.0"/>
<text x="385.70" y="130.20" font-size="6.0" text-anchor="end" font-style="italic" transform="rotate(-90 385.70 130.20)" stroke="#231f20" stroke-width="0.22">CD1A</text>
<line x1="389.35" y1="124.30" x2="389.35" y2="127.80" stroke="#000" stroke-width="1.0"/>
<text x="391.45" y="130.20" font-size="6.0" text-anchor="end" font-style="italic" transform="rotate(-90 391.45 130.20)" stroke="#231f20" stroke-width="0.22">CD1C</text>
<line x1="395.10" y1="124.30" x2="395.10" y2="127.80" stroke="#000" stroke-width="1.0"/>
<text x="397.20" y="130.20" font-size="6.0" text-anchor="end" font-style="italic" transform="rotate(-90 397.20 130.20)" stroke="#231f20" stroke-width="0.22">CSF1R</text>
<line x1="400.85" y1="124.30" x2="400.85" y2="127.80" stroke="#000" stroke-width="1.0"/>
<text x="402.95" y="130.20" font-size="6.0" text-anchor="end" font-style="italic" transform="rotate(-90 402.95 130.20)" stroke="#231f20" stroke-width="0.22">SPP1</text>
<line x1="406.60" y1="124.30" x2="406.60" y2="127.80" stroke="#000" stroke-width="1.0"/>
<text x="408.70" y="130.20" font-size="6.0" text-anchor="end" font-style="italic" transform="rotate(-90 408.70 130.20)" stroke="#231f20" stroke-width="0.22">MKI67</text>
<line x1="412.35" y1="124.30" x2="412.35" y2="127.80" stroke="#000" stroke-width="1.0"/>
<text x="414.45" y="130.20" font-size="6.0" text-anchor="end" font-style="italic" transform="rotate(-90 414.45 130.20)" stroke="#231f20" stroke-width="0.22">CENPF</text>
<line x1="418.10" y1="124.30" x2="418.10" y2="127.80" stroke="#000" stroke-width="1.0"/>
<text x="420.20" y="130.20" font-size="6.0" text-anchor="end" font-style="italic" transform="rotate(-90 420.20 130.20)" stroke="#231f20" stroke-width="0.22">CD3E</text>
<line x1="423.85" y1="124.30" x2="423.85" y2="127.80" stroke="#000" stroke-width="1.0"/>
<text x="425.95" y="130.20" font-size="6.0" text-anchor="end" font-style="italic" transform="rotate(-90 425.95 130.20)" stroke="#231f20" stroke-width="0.22">CD7</text>
<line x1="429.60" y1="124.30" x2="429.60" y2="127.80" stroke="#000" stroke-width="1.0"/>
<text x="431.70" y="130.20" font-size="6.0" text-anchor="end" font-style="italic" transform="rotate(-90 431.70 130.20)" stroke="#231f20" stroke-width="0.22">CD68</text>
<line x1="435.35" y1="124.30" x2="435.35" y2="127.80" stroke="#000" stroke-width="1.0"/>
<text x="437.45" y="130.20" font-size="6.0" text-anchor="end" font-style="italic" transform="rotate(-90 437.45 130.20)" stroke="#231f20" stroke-width="0.22">CD14</text>
<line x1="441.10" y1="124.30" x2="441.10" y2="127.80" stroke="#000" stroke-width="1.0"/>
<text x="443.20" y="130.20" font-size="6.0" text-anchor="end" font-style="italic" transform="rotate(-90 443.20 130.20)" stroke="#231f20" stroke-width="0.22">FCGR3B</text>
<line x1="446.85" y1="124.30" x2="446.85" y2="127.80" stroke="#000" stroke-width="1.0"/>
<text x="448.95" y="130.20" font-size="6.0" text-anchor="end" font-style="italic" transform="rotate(-90 448.95 130.20)" stroke="#231f20" stroke-width="0.22">VNN2</text>
<line x1="452.60" y1="124.30" x2="452.60" y2="127.80" stroke="#000" stroke-width="1.0"/>
<text x="454.70" y="130.20" font-size="6.0" text-anchor="end" font-style="italic" transform="rotate(-90 454.70 130.20)" stroke="#231f20" stroke-width="0.22">IRF8</text>
<line x1="458.35" y1="124.30" x2="458.35" y2="127.80" stroke="#000" stroke-width="1.0"/>
<text x="460.45" y="130.20" font-size="6.0" text-anchor="end" font-style="italic" transform="rotate(-90 460.45 130.20)" stroke="#231f20" stroke-width="0.22">JCHAIN</text>
<line x1="464.10" y1="124.30" x2="464.10" y2="127.80" stroke="#000" stroke-width="1.0"/>
<text x="466.20" y="130.20" font-size="6.0" text-anchor="end" font-style="italic" transform="rotate(-90 466.20 130.20)" stroke="#231f20" stroke-width="0.22">SMPD3</text>
<circle cx="372.10" cy="34.10" r="2.25" fill="#67000d"/>
<circle cx="377.85" cy="34.10" r="2.25" fill="#67000d"/>
<circle cx="383.60" cy="34.10" r="2.25" fill="#67000d"/>
<circle cx="389.35" cy="34.10" r="2.10" fill="#a50f15"/>
<circle cx="395.10" cy="34.10" r="2.10" fill="#b31218"/>
<circle cx="400.85" cy="34.10" r="0.75" fill="#fcd5c5"/>
<circle cx="406.60" cy="34.10" r="0.60" fill="#fde0d2"/>
<circle cx="412.35" cy="34.10" r="0.90" fill="#fcc4ae"/>
<circle cx="418.10" cy="34.10" r="0.50" fill="#fde5da"/>
<circle cx="423.85" cy="34.10" r="0.50" fill="#fde5da"/>
<circle cx="429.60" cy="34.10" r="2.00" fill="#f05a38"/>
<circle cx="435.35" cy="34.10" r="1.30" fill="#f06040"/>
<circle cx="446.85" cy="34.10" r="0.50" fill="#fde5da"/>
<circle cx="452.60" cy="34.10" r="2.00" fill="#f06040"/>
<circle cx="458.35" cy="34.10" r="0.50" fill="#fde5da"/>
<circle cx="464.10" cy="34.10" r="0.50" fill="#fde5da"/>
<circle cx="372.10" cy="44.28" r="2.25" fill="#67000d"/>
<circle cx="377.85" cy="44.28" r="2.25" fill="#67000d"/>
<circle cx="383.60" cy="44.28" r="2.25" fill="#7a0510"/>
<circle cx="389.35" cy="44.28" r="2.10" fill="#ef5532"/>
<circle cx="395.10" cy="44.28" r="2.25" fill="#67000d"/>
<circle cx="400.85" cy="44.28" r="2.25" fill="#b01020"/>
<circle cx="406.60" cy="44.28" r="0.60" fill="#fde0d2"/>
<circle cx="412.35" cy="44.28" r="0.90" fill="#fcc4ae"/>
<circle cx="418.10" cy="44.28" r="0.50" fill="#fde5da"/>
<circle cx="423.85" cy="44.28" r="0.50" fill="#fde5da"/>
<circle cx="429.60" cy="44.28" r="1.50" fill="#fcb89c"/>
<circle cx="435.35" cy="44.28" r="0.50" fill="#fde5da"/>
<circle cx="441.10" cy="44.28" r="0.50" fill="#fde5da"/>
<circle cx="446.85" cy="44.28" r="0.50" fill="#fde5da"/>
<circle cx="452.60" cy="44.28" r="1.25" fill="#fcc0a8"/>
<circle cx="458.35" cy="44.28" r="1.75" fill="#f78a68"/>
<circle cx="464.10" cy="44.28" r="0.50" fill="#fde5da"/>
<circle cx="372.10" cy="54.46" r="2.25" fill="#67000d"/>
<circle cx="377.85" cy="54.46" r="2.25" fill="#67000d"/>
<circle cx="383.60" cy="54.46" r="2.25" fill="#67000d"/>
<circle cx="389.35" cy="54.46" r="2.25" fill="#f04028"/>
<circle cx="395.10" cy="54.46" r="2.25" fill="#a01018"/>
<circle cx="400.85" cy="54.46" r="2.30" fill="#5e0a0e"/>
<circle cx="406.60" cy="54.46" r="1.00" fill="#fcc8b8"/>
<circle cx="412.35" cy="54.46" r="1.25" fill="#fcc0a8"/>
<circle cx="418.10" cy="54.46" r="0.50" fill="#fde5da"/>
<circle cx="423.85" cy="54.46" r="0.50" fill="#fde5da"/>
<circle cx="429.60" cy="54.46" r="2.00" fill="#f47a5a"/>
<circle cx="435.35" cy="54.46" r="1.50" fill="#fcb8a0"/>
<circle cx="441.10" cy="54.46" r="1.00" fill="#fcc8b8"/>
<circle cx="446.85" cy="54.46" r="1.00" fill="#fcc8b8"/>
<circle cx="452.60" cy="54.46" r="1.75" fill="#fcd0c0"/>
<circle cx="458.35" cy="54.46" r="2.00" fill="#fcb8a0"/>
<circle cx="464.10" cy="54.46" r="0.50" fill="#fde5da"/>
<circle cx="372.10" cy="64.64" r="2.25" fill="#67000d"/>
<circle cx="377.85" cy="64.64" r="2.25" fill="#67000d"/>
<circle cx="383.60" cy="64.64" r="2.00" fill="#7a0510"/>
<circle cx="389.35" cy="64.64" r="1.75" fill="#f05a38"/>
<circle cx="395.10" cy="64.64" r="2.00" fill="#d0181c"/>
<circle cx="400.85" cy="64.64" r="2.20" fill="#a01018"/>
<circle cx="406.60" cy="64.64" r="0.70" fill="#fde0d2"/>
<circle cx="412.35" cy="64.64" r="0.65" fill="#fde0d2"/>
<circle cx="418.10" cy="64.64" r="0.50" fill="#fde5da"/>
<circle cx="423.85" cy="64.64" r="0.50" fill="#fde5da"/>
<circle cx="429.60" cy="64.64" r="1.75" fill="#f78a68"/>
<circle cx="435.35" cy="64.64" r="0.50" fill="#fde5da"/>
<circle cx="441.10" cy="64.64" r="1.00" fill="#fcc8b8"/>
<circle cx="446.85" cy="64.64" r="0.50" fill="#fde5da"/>
<circle cx="452.60" cy="64.64" r="0.50" fill="#fde5da"/>
<circle cx="458.35" cy="64.64" r="0.60" fill="#fde5da"/>
<circle cx="464.10" cy="64.64" r="0.50" fill="#fde5da"/>
<circle cx="372.10" cy="74.82" r="2.25" fill="#67000d"/>
<circle cx="377.85" cy="74.82" r="2.25" fill="#67000d"/>
<circle cx="383.60" cy="74.82" r="1.90" fill="#7a0510"/>
<circle cx="389.35" cy="74.82" r="1.50" fill="#f8a080"/>
<circle cx="395.10" cy="74.82" r="2.00" fill="#d01820"/>
<circle cx="400.85" cy="74.82" r="2.45" fill="#5a080c"/>
<circle cx="406.60" cy="74.82" r="1.75" fill="#e82a20"/>
<circle cx="412.35" cy="74.82" r="1.90" fill="#d82020"/>
<circle cx="418.10" cy="74.82" r="0.50" fill="#fde5da"/>
<circle cx="423.85" cy="74.82" r="0.50" fill="#fde5da"/>
<circle cx="429.60" cy="74.82" r="1.75" fill="#fcc0a8"/>
<circle cx="435.35" cy="74.82" r="0.60" fill="#fde5da"/>
<circle cx="441.10" cy="74.82" r="0.60" fill="#fde5da"/>
<circle cx="446.85" cy="74.82" r="0.60" fill="#fde5da"/>
<circle cx="452.60" cy="74.82" r="0.60" fill="#fde5da"/>
<circle cx="458.35" cy="74.82" r="0.50" fill="#fde5da"/>
<circle cx="372.10" cy="85.00" r="2.15" fill="#d81820"/>
<circle cx="377.85" cy="85.00" r="1.75" fill="#f47050"/>
<circle cx="383.60" cy="85.00" r="1.40" fill="#f8906c"/>
<circle cx="389.35" cy="85.00" r="1.25" fill="#fcc0a8"/>
<circle cx="395.10" cy="85.00" r="1.35" fill="#f9a080"/>
<circle cx="400.85" cy="85.00" r="1.75" fill="#f9a080"/>
<circle cx="406.60" cy="85.00" r="0.75" fill="#fcd0c0"/>
<circle cx="412.35" cy="85.00" r="0.75" fill="#f9a080"/>
<circle cx="418.10" cy="85.00" r="1.75" fill="#f06848"/>
<circle cx="423.85" cy="85.00" r="1.50" fill="#e83020"/>
<circle cx="429.60" cy="85.00" r="1.00" fill="#fcc8b8"/>
<circle cx="435.35" cy="85.00" r="1.00" fill="#fcc8b8"/>
<circle cx="446.85" cy="85.00" r="0.50" fill="#fde5da"/>
<circle cx="452.60" cy="85.00" r="0.65" fill="#fde0d2"/>
<circle cx="458.35" cy="85.00" r="0.65" fill="#fde0d2"/>
<circle cx="464.10" cy="85.00" r="0.50" fill="#fde5da"/>
<circle cx="372.10" cy="95.18" r="2.40" fill="#5a080c"/>
<circle cx="377.85" cy="95.18" r="1.50" fill="#f68a68"/>
<circle cx="383.60" cy="95.18" r="1.40" fill="#f9a080"/>
<circle cx="389.35" cy="95.18" r="0.90" fill="#fcc8b8"/>
<circle cx="395.10" cy="95.18" r="1.75" fill="#ee5030"/>
<circle cx="400.85" cy="95.18" r="2.30" fill="#5e0a0e"/>
<circle cx="406.60" cy="95.18" r="0.50" fill="#fde5da"/>
<circle cx="412.35" cy="95.18" r="0.50" fill="#fde5da"/>
<circle cx="429.60" cy="95.18" r="2.00" fill="#67000d"/>
<circle cx="435.35" cy="95.18" r="1.50" fill="#f47a5a"/>
<circle cx="441.10" cy="95.18" r="0.50" fill="#fde5da"/>
<circle cx="446.85" cy="95.18" r="0.50" fill="#fde5da"/>
<circle cx="452.60" cy="95.18" r="0.65" fill="#fde0d2"/>
<circle cx="458.35" cy="95.18" r="0.50" fill="#fde5da"/>
<circle cx="372.10" cy="105.36" r="2.30" fill="#d01820"/>
<circle cx="377.85" cy="105.36" r="2.25" fill="#c81820"/>
<circle cx="383.60" cy="105.36" r="2.10" fill="#ee5030"/>
<circle cx="389.35" cy="105.36" r="1.50" fill="#fcc0a8"/>
<circle cx="395.10" cy="105.36" r="1.90" fill="#f9a888"/>
<circle cx="400.85" cy="105.36" r="2.30" fill="#900c14"/>
<circle cx="406.60" cy="105.36" r="0.50" fill="#fde5da"/>
<circle cx="412.35" cy="105.36" r="0.50" fill="#fde5da"/>
<circle cx="429.60" cy="105.36" r="1.40" fill="#f9a080"/>
<circle cx="435.35" cy="105.36" r="0.90" fill="#f99878"/>
<circle cx="441.10" cy="105.36" r="2.25" fill="#5a080c"/>
<circle cx="446.85" cy="105.36" r="1.50" fill="#e8201c"/>
<circle cx="452.60" cy="105.36" r="0.50" fill="#fde5da"/>
<circle cx="458.35" cy="105.36" r="0.50" fill="#fde5da"/>
<circle cx="372.10" cy="115.54" r="2.30" fill="#5e0a0e"/>
<circle cx="377.85" cy="115.54" r="2.30" fill="#f67050"/>
<circle cx="383.60" cy="115.54" r="1.60" fill="#f99878"/>
<circle cx="389.35" cy="115.54" r="1.00" fill="#fcc0a8"/>
<circle cx="395.10" cy="115.54" r="1.80" fill="#f9b090"/>
<circle cx="400.85" cy="115.54" r="1.00" fill="#fcc0a8"/>
<circle cx="412.35" cy="115.54" r="0.50" fill="#fde5da"/>
<circle cx="429.60" cy="115.54" r="2.00" fill="#ee4028"/>
<circle cx="435.35" cy="115.54" r="1.00" fill="#fcc0a8"/>
<circle cx="452.60" cy="115.54" r="2.30" fill="#5e0a0e"/>
<circle cx="458.35" cy="115.54" r="2.15" fill="#67000d"/>
<circle cx="464.10" cy="115.54" r="2.00" fill="#ee4028"/>
<text x="476.20" y="26.60" font-size="7.0" text-anchor="start">Expression</text>
<defs><linearGradient id="gB" x1="0" y1="1" x2="0" y2="0"><stop offset="0.000" stop-color="#fff5f0"/><stop offset="0.125" stop-color="#fee0d2"/><stop offset="0.250" stop-color="#fcbba1"/><stop offset="0.375" stop-color="#fc9272"/><stop offset="0.500" stop-color="#fb6a4a"/><stop offset="0.625" stop-color="#ef3b2c"/><stop offset="0.750" stop-color="#cb181d"/><stop offset="0.875" stop-color="#a50f15"/><stop offset="1.000" stop-color="#67000d"/></linearGradient><linearGradient id="gC" x1="0" y1="0" x2="1" y2="0"><stop offset="0.000" stop-color="#fff5f0"/><stop offset="0.125" stop-color="#fee0d2"/><stop offset="0.250" stop-color="#fcbba1"/><stop offset="0.375" stop-color="#fc9272"/><stop offset="0.500" stop-color="#fb6a4a"/><stop offset="0.625" stop-color="#ef3b2c"/><stop offset="0.750" stop-color="#cb181d"/><stop offset="0.875" stop-color="#a50f15"/><stop offset="1.000" stop-color="#67000d"/></linearGradient></defs>
<rect x="475.30" y="32.60" width="5.40" height="31.80" fill="url(#gB)" stroke="#000" stroke-width="0.9"/>
<line x1="480.70" y1="33.10" x2="483.30" y2="33.10" stroke="#000" stroke-width="0.9"/>
<text x="485.20" y="35.50" font-size="6.9" text-anchor="start" textLength="11.9" lengthAdjust="spacingAndGlyphs">2.0</text>
<line x1="480.70" y1="40.80" x2="483.30" y2="40.80" stroke="#000" stroke-width="0.9"/>
<text x="485.20" y="43.20" font-size="6.9" text-anchor="start" textLength="11.9" lengthAdjust="spacingAndGlyphs">1.5</text>
<line x1="480.70" y1="48.50" x2="483.30" y2="48.50" stroke="#000" stroke-width="0.9"/>
<text x="485.20" y="50.90" font-size="6.9" text-anchor="start" textLength="11.9" lengthAdjust="spacingAndGlyphs">1.0</text>
<line x1="480.70" y1="56.20" x2="483.30" y2="56.20" stroke="#000" stroke-width="0.9"/>
<text x="485.20" y="58.60" font-size="6.9" text-anchor="start" textLength="11.9" lengthAdjust="spacingAndGlyphs">0.5</text>
<line x1="480.70" y1="63.90" x2="483.30" y2="63.90" stroke="#000" stroke-width="0.9"/>
<text x="485.20" y="66.30" font-size="6.9" text-anchor="start" textLength="11.9" lengthAdjust="spacingAndGlyphs">0.0</text>
<text x="476.00" y="79.80" font-size="7.0" text-anchor="start">Percentage</text>
<text x="476.00" y="88.50" font-size="7.0" text-anchor="start">expression</text>
<circle cx="478.30" cy="97.00" r="2.15" fill="#000"/>
<text x="483.30" y="99.40" font-size="6.8" text-anchor="start">100%</text>
<circle cx="478.30" cy="103.58" r="1.85" fill="#000"/>
<text x="483.30" y="105.98" font-size="6.8" text-anchor="start">80%</text>
<circle cx="478.30" cy="110.16" r="1.45" fill="#000"/>
<text x="483.30" y="112.56" font-size="6.8" text-anchor="start">60%</text>
<circle cx="478.30" cy="116.74" r="1.00" fill="#000"/>
<text x="483.30" y="119.14" font-size="6.8" text-anchor="start">40%</text>
<circle cx="478.30" cy="123.32" r="0.60" fill="#000"/>
<text x="483.30" y="125.72" font-size="6.8" text-anchor="start">20%</text>
<rect x="60.6" y="181.6" width="241.30" height="152.30" fill="#fff5f0"/>
<g transform="translate(60.6 181.6) scale(5.6116 1.7506)">
<path fill="#ffefe7" d="M38 0h1v1h-1zM2 6h1v1h-1zM38 7h1v1h-1zM10 8h1v1h-1zM14 8h1v1h-1zM36 8h1v1h-1zM25 9h1v1h-1zM27 9h1v1h-1zM38 9h1v1h-1zM18 10h1v1h-1zM3 11h1v1h-1zM23 11h1v1h-1zM30 12h1v1h-1zM12 13h1v1h-1zM17 13h1v1h-1zM27 13h1v1h-1zM11 15h1v1h-1zM19 16h1v1h-1zM30 17h1v1h-1zM26 19h1v1h-1zM2 20h1v1h-1zM16 21h1v1h-1zM2 25h1v1h-1zM1 26h2v1h-2zM34 26h1v1h-1zM2 27h1v1h-1zM12 27h1v1h-1zM28 27h1v1h-1zM30 27h2v1h-2zM34 28h1v1h-1zM37 28h1v1h-1zM11 29h1v1h-1zM32 30h1v1h-1zM16 31h1v1h-1zM9 32h1v1h-1zM18 32h1v1h-1zM37 32h1v1h-1zM24 33h1v1h-1zM26 33h1v1h-1zM39 33h1v1h-1zM9 34h1v1h-1zM27 34h1v1h-1zM38 34h2v1h-2zM1 35h2v1h-2zM10 35h1v1h-1zM24 35h1v1h-1zM10 36h1v1h-1zM29 36h1v1h-1zM2 37h1v1h-1zM28 38h1v1h-1zM41 40h1v1h-1zM32 41h1v1h-1zM2 42h1v1h-1zM37 42h1v1h-1zM10 45h1v1h-1zM26 45h1v1h-1zM9 47h1v1h-1zM25 47h1v1h-1zM28 47h1v1h-1zM2 48h1v1h-1zM12 50h1v1h-1zM24 50h1v1h-1zM8 51h2v1h-2zM21 51h1v1h-1zM14 53h1v1h-1zM6 55h1v1h-1zM33 55h1v1h-1zM4 56h1v1h-1zM8 56h1v1h-1zM18 56h1v1h-1zM33 56h1v1h-1zM40 56h1v1h-1zM25 57h1v1h-1zM8 58h1v1h-1zM21 58h1v1h-1zM28 58h1v1h-1zM13 60h1v1h-1zM35 60h1v1h-1zM41 60h1v1h-1zM26 61h1v1h-1zM31 61h1v1h-1zM34 61h1v1h-1zM23 62h1v1h-1zM34 62h1v1h-1zM2 64h1v1h-1zM35 64h1v1h-1zM0 65h1v1h-1zM10 65h1v1h-1zM37 65h1v1h-1zM5 68h1v1h-1zM12 69h1v1h-1zM36 70h1v1h-1zM21 71h1v1h-1zM4 72h1v1h-1zM4 73h1v1h-1zM33 78h1v1h-1zM12 79h1v1h-1zM19 81h1v1h-1zM4 82h1v1h-1zM3 83h1v1h-1zM21 83h1v1h-1zM31 83h1v1h-1zM6 84h1v1h-1zM16 85h1v1h-1zM25 86h1v1h-1z"/>
<path fill="#fee9de" d="M1 0h1v1h-1zM6 0h1v1h-1zM11 0h1v1h-1zM20 0h1v1h-1zM23 0h2v1h-2zM28 0h2v1h-2zM13 1h1v1h-1zM16 1h1v1h-1zM19 1h1v1h-1zM22 1h1v1h-1zM26 1h1v1h-1zM30 1h1v1h-1zM32 1h1v1h-1zM34 1h2v1h-2zM9 2h1v1h-1zM36 2h1v1h-1zM3 3h1v1h-1zM7 3h1v1h-1zM16 3h3v1h-3zM20 3h1v1h-1zM24 3h1v1h-1zM28 3h2v1h-2zM33 3h1v1h-1zM35 3h1v1h-1zM5 4h1v1h-1zM12 4h2v1h-2zM16 4h1v1h-1zM21 4h1v1h-1zM27 4h1v1h-1zM33 4h1v1h-1zM5 5h2v1h-2zM21 5h1v1h-1zM24 5h2v1h-2zM30 5h1v1h-1zM35 5h1v1h-1zM17 6h1v1h-1zM23 6h1v1h-1zM36 6h1v1h-1zM38 6h1v1h-1zM6 7h1v1h-1zM14 7h3v1h-3zM19 7h1v1h-1zM24 7h1v1h-1zM31 7h1v1h-1zM37 7h1v1h-1zM5 8h1v1h-1zM12 8h1v1h-1zM18 8h1v1h-1zM25 8h1v1h-1zM38 8h1v1h-1zM6 9h1v1h-1zM8 9h1v1h-1zM10 9h1v1h-1zM19 9h1v1h-1zM26 9h1v1h-1zM31 9h1v1h-1zM33 9h1v1h-1zM41 9h1v1h-1zM14 10h1v1h-1zM28 10h1v1h-1zM31 10h1v1h-1zM37 10h3v1h-3zM1 11h1v1h-1zM8 11h1v1h-1zM10 11h1v1h-1zM14 11h1v1h-1zM20 11h1v1h-1zM22 11h1v1h-1zM24 11h1v1h-1zM17 12h1v1h-1zM21 12h1v1h-1zM23 12h2v1h-2zM26 12h1v1h-1zM33 12h1v1h-1zM38 12h1v1h-1zM5 13h1v1h-1zM13 13h1v1h-1zM26 13h1v1h-1zM40 13h2v1h-2zM10 14h2v1h-2zM14 14h1v1h-1zM18 14h1v1h-1zM27 14h2v1h-2zM30 14h2v1h-2zM42 14h1v1h-1zM17 15h1v1h-1zM19 15h1v1h-1zM23 15h1v1h-1zM25 15h1v1h-1zM35 15h1v1h-1zM27 16h1v1h-1zM34 16h1v1h-1zM6 17h1v1h-1zM13 17h1v1h-1zM18 17h1v1h-1zM20 17h2v1h-2zM35 17h1v1h-1zM7 18h1v1h-1zM15 18h1v1h-1zM19 18h1v1h-1zM21 18h1v1h-1zM28 18h1v1h-1zM33 18h1v1h-1zM42 18h1v1h-1zM6 19h1v1h-1zM16 19h1v1h-1zM35 19h1v1h-1zM0 20h1v1h-1zM4 20h1v1h-1zM16 20h1v1h-1zM19 20h1v1h-1zM24 20h1v1h-1zM34 20h1v1h-1zM38 20h2v1h-2zM21 21h1v1h-1zM24 21h1v1h-1zM26 21h1v1h-1zM33 21h1v1h-1zM36 21h1v1h-1zM39 21h1v1h-1zM2 22h1v1h-1zM10 22h1v1h-1zM14 22h1v1h-1zM16 22h1v1h-1zM20 22h1v1h-1zM24 22h1v1h-1zM31 22h1v1h-1zM35 22h1v1h-1zM8 23h1v1h-1zM14 23h1v1h-1zM20 23h2v1h-2zM26 23h1v1h-1zM31 23h1v1h-1zM39 23h1v1h-1zM41 23h1v1h-1zM0 24h2v1h-2zM3 24h2v1h-2zM18 24h1v1h-1zM26 24h2v1h-2zM35 24h1v1h-1zM14 25h1v1h-1zM30 25h1v1h-1zM32 25h1v1h-1zM40 25h1v1h-1zM14 26h1v1h-1zM24 26h1v1h-1zM28 26h1v1h-1zM32 26h1v1h-1zM36 26h1v1h-1zM3 28h1v1h-1zM9 28h1v1h-1zM16 28h1v1h-1zM22 28h1v1h-1zM33 28h1v1h-1zM36 28h1v1h-1zM0 29h1v1h-1zM2 29h1v1h-1zM9 29h1v1h-1zM19 29h2v1h-2zM26 29h1v1h-1zM32 29h1v1h-1zM38 29h1v1h-1zM42 29h1v1h-1zM9 30h1v1h-1zM28 30h1v1h-1zM31 30h1v1h-1zM39 30h1v1h-1zM42 30h1v1h-1zM2 31h1v1h-1zM4 31h2v1h-2zM9 31h1v1h-1zM24 31h3v1h-3zM29 31h1v1h-1zM31 31h1v1h-1zM38 31h1v1h-1zM3 32h1v1h-1zM11 32h1v1h-1zM26 32h1v1h-1zM29 32h1v1h-1zM31 32h1v1h-1zM2 33h1v1h-1zM33 33h1v1h-1zM42 33h1v1h-1zM1 34h1v1h-1zM16 34h1v1h-1zM23 34h1v1h-1zM26 34h1v1h-1zM31 34h3v1h-3zM0 35h1v1h-1zM11 35h1v1h-1zM16 35h1v1h-1zM21 35h1v1h-1zM23 35h1v1h-1zM31 35h2v1h-2zM38 35h1v1h-1zM5 36h1v1h-1zM9 36h1v1h-1zM16 36h1v1h-1zM19 36h1v1h-1zM21 36h1v1h-1zM23 36h1v1h-1zM25 36h1v1h-1zM27 36h2v1h-2zM32 36h1v1h-1zM35 36h1v1h-1zM37 36h3v1h-3zM42 36h1v1h-1zM3 37h2v1h-2zM33 37h1v1h-1zM36 37h1v1h-1zM0 38h1v1h-1zM3 38h1v1h-1zM6 38h1v1h-1zM19 38h2v1h-2zM24 38h1v1h-1zM32 38h1v1h-1zM34 38h1v1h-1zM39 38h1v1h-1zM42 38h1v1h-1zM0 39h1v1h-1zM9 39h1v1h-1zM12 39h1v1h-1zM33 39h1v1h-1zM36 39h1v1h-1zM0 40h2v1h-2zM22 40h1v1h-1zM40 40h1v1h-1zM4 41h1v1h-1zM11 41h1v1h-1zM24 41h1v1h-1zM26 41h1v1h-1zM40 41h1v1h-1zM10 42h1v1h-1zM12 42h1v1h-1zM19 42h1v1h-1zM31 42h1v1h-1zM34 42h2v1h-2zM40 42h2v1h-2zM10 43h1v1h-1zM16 43h1v1h-1zM24 43h2v1h-2zM32 43h1v1h-1zM14 44h2v1h-2zM19 44h1v1h-1zM29 44h1v1h-1zM38 44h1v1h-1zM4 45h1v1h-1zM15 45h1v1h-1zM29 45h1v1h-1zM36 45h1v1h-1zM38 45h1v1h-1zM1 46h1v1h-1zM3 46h1v1h-1zM29 46h1v1h-1zM35 46h2v1h-2zM38 46h1v1h-1zM42 46h1v1h-1zM0 47h2v1h-2zM3 47h1v1h-1zM14 47h3v1h-3zM20 48h1v1h-1zM23 48h1v1h-1zM29 48h1v1h-1zM38 48h1v1h-1zM0 49h1v1h-1zM5 49h1v1h-1zM19 49h2v1h-2zM27 49h1v1h-1zM2 50h1v1h-1zM4 50h2v1h-2zM8 50h1v1h-1zM21 50h1v1h-1zM25 50h1v1h-1zM29 50h1v1h-1zM31 50h2v1h-2zM34 50h1v1h-1zM38 50h1v1h-1zM2 51h2v1h-2zM13 51h1v1h-1zM31 51h2v1h-2zM36 51h1v1h-1zM41 51h1v1h-1zM2 52h2v1h-2zM9 52h1v1h-1zM24 52h1v1h-1zM38 52h1v1h-1zM15 53h1v1h-1zM32 53h1v1h-1zM35 53h1v1h-1zM38 53h2v1h-2zM42 53h1v1h-1zM0 54h1v1h-1zM2 54h1v1h-1zM10 54h1v1h-1zM24 54h2v1h-2zM29 54h1v1h-1zM36 54h1v1h-1zM2 55h1v1h-1zM4 55h1v1h-1zM18 55h1v1h-1zM40 55h1v1h-1zM3 56h1v1h-1zM14 56h1v1h-1zM20 56h1v1h-1zM23 56h1v1h-1zM25 56h2v1h-2zM42 56h1v1h-1zM11 57h1v1h-1zM13 57h1v1h-1zM31 57h1v1h-1zM20 58h1v1h-1zM26 58h2v1h-2zM31 58h1v1h-1zM35 58h3v1h-3zM40 58h1v1h-1zM42 58h1v1h-1zM1 59h1v1h-1zM10 59h1v1h-1zM26 59h1v1h-1zM31 60h1v1h-1zM33 60h2v1h-2zM40 60h1v1h-1zM0 61h1v1h-1zM11 61h1v1h-1zM13 61h1v1h-1zM18 61h1v1h-1zM27 61h2v1h-2zM35 61h1v1h-1zM4 62h1v1h-1zM6 62h1v1h-1zM25 62h1v1h-1zM33 62h1v1h-1zM4 63h2v1h-2zM16 63h2v1h-2zM30 63h1v1h-1zM34 63h1v1h-1zM1 64h1v1h-1zM8 64h1v1h-1zM16 64h1v1h-1zM25 64h1v1h-1zM29 64h1v1h-1zM1 65h1v1h-1zM9 65h1v1h-1zM14 65h1v1h-1zM18 65h1v1h-1zM24 65h1v1h-1zM29 65h1v1h-1zM31 65h1v1h-1zM0 66h4v1h-4zM14 66h1v1h-1zM16 66h1v1h-1zM26 66h1v1h-1zM31 66h1v1h-1zM38 66h3v1h-3zM42 66h1v1h-1zM2 67h3v1h-3zM10 67h1v1h-1zM29 67h1v1h-1zM31 67h1v1h-1zM38 67h1v1h-1zM40 67h1v1h-1zM2 68h1v1h-1zM4 68h1v1h-1zM15 68h1v1h-1zM0 69h1v1h-1zM8 69h2v1h-2zM22 69h1v1h-1zM32 69h1v1h-1zM36 69h1v1h-1zM40 69h1v1h-1zM20 70h1v1h-1zM22 70h1v1h-1zM28 70h2v1h-2zM37 70h2v1h-2zM6 71h2v1h-2zM12 71h1v1h-1zM17 71h1v1h-1zM31 71h1v1h-1zM33 71h2v1h-2zM3 72h1v1h-1zM11 72h1v1h-1zM18 72h1v1h-1zM30 72h2v1h-2zM36 72h2v1h-2zM9 73h1v1h-1zM21 73h2v1h-2zM30 73h1v1h-1zM10 74h1v1h-1zM19 74h1v1h-1zM28 74h1v1h-1zM30 74h1v1h-1zM36 74h3v1h-3zM40 74h1v1h-1zM7 75h1v1h-1zM9 75h1v1h-1zM22 75h1v1h-1zM31 75h1v1h-1zM34 75h1v1h-1zM40 75h2v1h-2zM5 76h1v1h-1zM21 76h1v1h-1zM39 76h1v1h-1zM3 77h1v1h-1zM7 77h2v1h-2zM11 77h1v1h-1zM16 77h1v1h-1zM20 77h3v1h-3zM24 77h4v1h-4zM34 77h1v1h-1zM42 77h1v1h-1zM0 78h1v1h-1zM6 78h3v1h-3zM13 78h1v1h-1zM23 78h1v1h-1zM32 78h1v1h-1zM34 78h1v1h-1zM39 78h1v1h-1zM42 78h1v1h-1zM2 79h1v1h-1zM8 79h1v1h-1zM13 79h1v1h-1zM26 79h1v1h-1zM32 79h1v1h-1zM5 80h1v1h-1zM24 80h1v1h-1zM6 81h1v1h-1zM18 81h1v1h-1zM24 81h1v1h-1zM38 81h1v1h-1zM6 82h1v1h-1zM11 82h1v1h-1zM13 82h2v1h-2zM22 82h1v1h-1zM24 82h1v1h-1zM0 83h1v1h-1zM5 83h1v1h-1zM26 83h1v1h-1zM29 83h1v1h-1zM38 83h1v1h-1zM4 84h1v1h-1zM22 84h1v1h-1zM24 84h1v1h-1zM40 84h1v1h-1zM9 85h1v1h-1zM15 85h1v1h-1zM27 85h1v1h-1zM37 85h1v1h-1zM5 86h1v1h-1z"/>
<path fill="#fee2d5" d="M2 0h1v1h-1zM4 0h1v1h-1zM8 0h1v1h-1zM32 0h1v1h-1zM36 0h1v1h-1zM41 0h1v1h-1zM12 1h1v1h-1zM31 1h1v1h-1zM37 1h1v1h-1zM41 1h2v1h-2zM11 2h1v1h-1zM15 2h1v1h-1zM21 2h1v1h-1zM26 2h1v1h-1zM5 3h1v1h-1zM8 3h2v1h-2zM40 4h1v1h-1zM10 5h1v1h-1zM18 5h1v1h-1zM20 5h1v1h-1zM34 5h1v1h-1zM36 5h1v1h-1zM42 5h1v1h-1zM10 6h1v1h-1zM12 6h2v1h-2zM10 7h1v1h-1zM20 7h1v1h-1zM36 7h1v1h-1zM39 7h2v1h-2zM11 8h1v1h-1zM13 8h1v1h-1zM30 8h1v1h-1zM35 8h1v1h-1zM42 8h1v1h-1zM40 9h1v1h-1zM7 10h2v1h-2zM10 10h1v1h-1zM23 10h1v1h-1zM26 10h1v1h-1zM5 11h1v1h-1zM9 11h1v1h-1zM12 11h2v1h-2zM17 11h1v1h-1zM37 11h2v1h-2zM3 12h1v1h-1zM6 12h1v1h-1zM18 12h1v1h-1zM36 12h1v1h-1zM40 12h1v1h-1zM6 13h2v1h-2zM16 13h1v1h-1zM18 13h1v1h-1zM23 13h1v1h-1zM25 13h1v1h-1zM28 13h1v1h-1zM32 13h1v1h-1zM34 13h1v1h-1zM36 13h1v1h-1zM8 14h1v1h-1zM12 14h1v1h-1zM36 14h1v1h-1zM41 14h1v1h-1zM5 15h1v1h-1zM18 15h1v1h-1zM20 15h2v1h-2zM24 15h1v1h-1zM26 15h1v1h-1zM36 15h1v1h-1zM40 15h1v1h-1zM7 16h1v1h-1zM16 16h3v1h-3zM21 16h1v1h-1zM35 16h1v1h-1zM38 16h1v1h-1zM12 17h1v1h-1zM22 17h1v1h-1zM32 17h1v1h-1zM36 17h1v1h-1zM39 17h1v1h-1zM41 17h1v1h-1zM1 18h1v1h-1zM6 18h1v1h-1zM11 18h3v1h-3zM27 18h1v1h-1zM36 18h1v1h-1zM38 18h1v1h-1zM5 19h1v1h-1zM11 19h1v1h-1zM25 19h1v1h-1zM42 20h1v1h-1zM2 21h1v1h-1zM4 21h1v1h-1zM11 21h3v1h-3zM23 21h1v1h-1zM29 21h1v1h-1zM32 21h1v1h-1zM34 21h1v1h-1zM1 22h1v1h-1zM21 22h1v1h-1zM23 22h1v1h-1zM26 22h1v1h-1zM36 22h1v1h-1zM42 22h1v1h-1zM35 23h1v1h-1zM40 23h1v1h-1zM10 24h1v1h-1zM20 24h1v1h-1zM22 24h1v1h-1zM21 25h1v1h-1zM23 25h1v1h-1zM25 25h2v1h-2zM33 25h2v1h-2zM8 26h1v1h-1zM25 26h1v1h-1zM40 26h1v1h-1zM9 27h1v1h-1zM11 27h1v1h-1zM14 27h1v1h-1zM19 27h1v1h-1zM11 28h1v1h-1zM14 28h1v1h-1zM21 28h1v1h-1zM30 28h1v1h-1zM1 29h1v1h-1zM4 29h1v1h-1zM6 29h1v1h-1zM31 29h1v1h-1zM35 29h1v1h-1zM5 30h1v1h-1zM8 30h1v1h-1zM19 30h1v1h-1zM23 30h1v1h-1zM30 30h1v1h-1zM1 31h1v1h-1zM8 31h1v1h-1zM12 31h1v1h-1zM20 31h1v1h-1zM32 31h2v1h-2zM36 31h1v1h-1zM16 32h1v1h-1zM27 32h1v1h-1zM32 32h1v1h-1zM40 32h1v1h-1zM1 33h1v1h-1zM3 33h2v1h-2zM16 33h1v1h-1zM37 33h1v1h-1zM3 34h1v1h-1zM5 34h1v1h-1zM14 34h1v1h-1zM36 34h1v1h-1zM9 35h1v1h-1zM26 35h1v1h-1zM36 35h1v1h-1zM42 35h1v1h-1zM18 36h1v1h-1zM34 36h1v1h-1zM34 37h1v1h-1zM4 38h1v1h-1zM13 38h1v1h-1zM31 38h1v1h-1zM35 38h1v1h-1zM19 39h1v1h-1zM42 39h1v1h-1zM3 40h1v1h-1zM11 40h1v1h-1zM18 40h1v1h-1zM25 40h1v1h-1zM38 40h1v1h-1zM10 41h1v1h-1zM14 41h1v1h-1zM19 41h1v1h-1zM21 41h1v1h-1zM28 41h1v1h-1zM38 41h1v1h-1zM41 41h1v1h-1zM8 42h1v1h-1zM11 42h1v1h-1zM14 42h1v1h-1zM18 42h1v1h-1zM21 42h1v1h-1zM26 42h1v1h-1zM30 42h1v1h-1zM5 43h1v1h-1zM22 43h1v1h-1zM28 43h1v1h-1zM36 43h1v1h-1zM38 43h1v1h-1zM40 43h1v1h-1zM4 44h1v1h-1zM9 44h1v1h-1zM12 44h1v1h-1zM31 44h1v1h-1zM36 44h1v1h-1zM0 45h1v1h-1zM2 45h1v1h-1zM25 45h1v1h-1zM40 45h2v1h-2zM6 46h1v1h-1zM11 46h1v1h-1zM20 46h2v1h-2zM39 46h1v1h-1zM2 47h1v1h-1zM36 47h1v1h-1zM38 47h1v1h-1zM4 48h1v1h-1zM26 48h1v1h-1zM3 49h2v1h-2zM23 49h1v1h-1zM26 49h1v1h-1zM29 49h1v1h-1zM30 50h1v1h-1zM0 51h1v1h-1zM4 51h1v1h-1zM16 51h1v1h-1zM27 51h1v1h-1zM6 52h1v1h-1zM22 52h1v1h-1zM26 52h1v1h-1zM36 52h1v1h-1zM42 52h1v1h-1zM2 53h1v1h-1zM11 53h1v1h-1zM13 53h1v1h-1zM27 53h2v1h-2zM37 53h1v1h-1zM40 53h1v1h-1zM13 54h1v1h-1zM18 54h1v1h-1zM20 54h1v1h-1zM40 54h1v1h-1zM42 54h1v1h-1zM12 55h1v1h-1zM16 55h1v1h-1zM20 55h1v1h-1zM22 55h3v1h-3zM36 55h1v1h-1zM38 55h1v1h-1zM6 56h1v1h-1zM1 57h2v1h-2zM9 57h1v1h-1zM18 57h1v1h-1zM32 57h2v1h-2zM35 57h1v1h-1zM11 58h1v1h-1zM22 58h1v1h-1zM33 58h1v1h-1zM4 59h1v1h-1zM8 59h1v1h-1zM16 59h1v1h-1zM22 59h2v1h-2zM25 59h1v1h-1zM37 59h1v1h-1zM1 60h1v1h-1zM11 60h1v1h-1zM15 60h1v1h-1zM23 60h1v1h-1zM16 61h1v1h-1zM21 61h1v1h-1zM29 61h1v1h-1zM32 61h1v1h-1zM41 61h1v1h-1zM0 62h1v1h-1zM2 62h2v1h-2zM28 62h1v1h-1zM32 62h1v1h-1zM3 63h1v1h-1zM26 63h2v1h-2zM29 63h1v1h-1zM35 63h1v1h-1zM40 63h2v1h-2zM14 64h1v1h-1zM28 64h1v1h-1zM33 64h1v1h-1zM27 65h1v1h-1zM33 65h1v1h-1zM42 65h1v1h-1zM29 66h1v1h-1zM32 66h2v1h-2zM36 66h1v1h-1zM8 67h1v1h-1zM19 67h1v1h-1zM23 67h1v1h-1zM36 67h1v1h-1zM11 68h1v1h-1zM28 68h1v1h-1zM42 68h1v1h-1zM2 69h1v1h-1zM11 69h1v1h-1zM13 69h1v1h-1zM18 69h2v1h-2zM25 69h1v1h-1zM34 69h2v1h-2zM38 69h1v1h-1zM42 69h1v1h-1zM1 70h1v1h-1zM21 70h1v1h-1zM33 70h1v1h-1zM41 70h1v1h-1zM29 71h1v1h-1zM13 72h1v1h-1zM32 72h2v1h-2zM42 72h1v1h-1zM3 73h1v1h-1zM16 73h1v1h-1zM18 73h1v1h-1zM34 73h1v1h-1zM39 73h2v1h-2zM4 74h1v1h-1zM6 74h2v1h-2zM39 74h1v1h-1zM3 75h2v1h-2zM12 75h1v1h-1zM19 75h1v1h-1zM28 75h1v1h-1zM6 76h1v1h-1zM25 76h1v1h-1zM40 76h1v1h-1zM2 77h1v1h-1zM4 77h2v1h-2zM3 78h1v1h-1zM17 78h1v1h-1zM19 78h1v1h-1zM21 78h1v1h-1zM24 78h1v1h-1zM40 78h1v1h-1zM6 79h1v1h-1zM10 79h1v1h-1zM15 79h1v1h-1zM17 79h1v1h-1zM22 79h1v1h-1zM34 79h1v1h-1zM2 80h1v1h-1zM9 80h1v1h-1zM14 80h1v1h-1zM17 80h1v1h-1zM20 80h1v1h-1zM26 80h1v1h-1zM42 80h1v1h-1zM16 81h1v1h-1zM26 81h1v1h-1zM39 81h3v1h-3zM3 82h1v1h-1zM5 82h1v1h-1zM20 82h1v1h-1zM23 82h1v1h-1zM25 82h1v1h-1zM2 83h1v1h-1zM13 83h2v1h-2zM17 83h2v1h-2zM39 83h1v1h-1zM2 84h2v1h-2zM13 84h1v1h-1zM15 84h1v1h-1zM21 84h1v1h-1zM5 85h1v1h-1zM11 85h2v1h-2zM20 85h1v1h-1zM35 85h1v1h-1zM7 86h1v1h-1zM12 86h1v1h-1zM16 86h1v1h-1zM27 86h1v1h-1z"/>
<path fill="#fed9c9" d="M7 0h1v1h-1zM10 0h1v1h-1zM13 0h1v1h-1zM25 0h1v1h-1zM31 0h1v1h-1zM21 1h1v1h-1zM24 1h1v1h-1zM27 1h1v1h-1zM38 1h2v1h-2zM12 2h1v1h-1zM34 2h1v1h-1zM1 3h1v1h-1zM12 3h2v1h-2zM36 3h1v1h-1zM38 3h1v1h-1zM7 4h1v1h-1zM20 4h1v1h-1zM30 4h2v1h-2zM39 4h1v1h-1zM3 5h1v1h-1zM27 5h2v1h-2zM41 5h1v1h-1zM5 6h1v1h-1zM30 6h1v1h-1zM37 6h1v1h-1zM4 7h1v1h-1zM9 7h1v1h-1zM13 7h1v1h-1zM17 7h1v1h-1zM32 7h1v1h-1zM26 8h1v1h-1zM32 8h1v1h-1zM4 9h1v1h-1zM9 9h1v1h-1zM12 9h1v1h-1zM14 9h1v1h-1zM27 10h1v1h-1zM11 11h1v1h-1zM34 11h1v1h-1zM36 11h1v1h-1zM5 12h1v1h-1zM8 12h1v1h-1zM13 12h2v1h-2zM3 13h1v1h-1zM30 13h1v1h-1zM35 13h1v1h-1zM9 14h1v1h-1zM32 14h1v1h-1zM8 15h1v1h-1zM12 15h1v1h-1zM15 15h1v1h-1zM42 15h1v1h-1zM10 16h2v1h-2zM32 16h1v1h-1zM5 17h1v1h-1zM38 17h1v1h-1zM42 17h1v1h-1zM9 18h1v1h-1zM20 18h1v1h-1zM23 18h1v1h-1zM30 18h1v1h-1zM37 18h1v1h-1zM10 20h1v1h-1zM37 20h1v1h-1zM20 21h1v1h-1zM42 21h1v1h-1zM37 22h2v1h-2zM19 23h1v1h-1zM23 23h1v1h-1zM9 24h1v1h-1zM30 24h1v1h-1zM1 25h1v1h-1zM3 25h1v1h-1zM11 25h1v1h-1zM37 25h1v1h-1zM18 26h1v1h-1zM23 26h1v1h-1zM30 26h1v1h-1zM37 26h1v1h-1zM13 27h1v1h-1zM18 28h1v1h-1zM20 28h1v1h-1zM10 30h1v1h-1zM37 30h1v1h-1zM0 31h1v1h-1zM11 31h1v1h-1zM30 31h1v1h-1zM35 31h1v1h-1zM41 31h1v1h-1zM1 32h2v1h-2zM10 32h1v1h-1zM19 32h1v1h-1zM33 32h1v1h-1zM38 32h1v1h-1zM12 33h1v1h-1zM21 33h1v1h-1zM31 33h1v1h-1zM8 34h1v1h-1zM34 34h1v1h-1zM40 34h1v1h-1zM8 35h1v1h-1zM39 35h1v1h-1zM9 37h1v1h-1zM21 37h1v1h-1zM23 37h1v1h-1zM38 37h1v1h-1zM41 37h1v1h-1zM10 38h1v1h-1zM12 38h1v1h-1zM3 39h1v1h-1zM6 39h1v1h-1zM8 39h1v1h-1zM10 39h1v1h-1zM34 39h1v1h-1zM2 40h1v1h-1zM19 40h2v1h-2zM37 40h1v1h-1zM39 40h1v1h-1zM6 41h1v1h-1zM9 41h1v1h-1zM12 41h1v1h-1zM20 41h1v1h-1zM22 41h1v1h-1zM6 42h1v1h-1zM3 43h1v1h-1zM8 43h1v1h-1zM20 43h1v1h-1zM31 43h1v1h-1zM1 44h1v1h-1zM5 44h1v1h-1zM10 44h1v1h-1zM28 44h1v1h-1zM30 44h1v1h-1zM35 44h1v1h-1zM40 44h1v1h-1zM20 45h1v1h-1zM39 45h1v1h-1zM42 45h1v1h-1zM4 46h1v1h-1zM25 46h1v1h-1zM8 47h1v1h-1zM30 47h1v1h-1zM0 48h2v1h-2zM16 48h1v1h-1zM34 48h1v1h-1zM39 48h1v1h-1zM24 49h1v1h-1zM28 49h1v1h-1zM30 49h1v1h-1zM33 49h1v1h-1zM35 49h1v1h-1zM39 49h1v1h-1zM1 50h1v1h-1zM14 50h1v1h-1zM11 51h1v1h-1zM14 51h1v1h-1zM25 51h2v1h-2zM33 51h1v1h-1zM13 52h1v1h-1zM16 52h1v1h-1zM3 53h1v1h-1zM22 53h1v1h-1zM36 53h1v1h-1zM8 54h1v1h-1zM16 54h1v1h-1zM21 54h1v1h-1zM28 54h1v1h-1zM33 54h1v1h-1zM38 54h1v1h-1zM8 55h1v1h-1zM11 55h1v1h-1zM14 55h1v1h-1zM28 55h1v1h-1zM35 55h1v1h-1zM39 55h1v1h-1zM12 56h1v1h-1zM6 57h1v1h-1zM28 57h1v1h-1zM5 58h1v1h-1zM14 58h1v1h-1zM32 58h1v1h-1zM41 58h1v1h-1zM2 59h1v1h-1zM5 59h1v1h-1zM12 59h1v1h-1zM24 59h1v1h-1zM33 59h1v1h-1zM40 59h1v1h-1zM0 60h1v1h-1zM18 60h1v1h-1zM37 60h2v1h-2zM20 61h1v1h-1zM25 61h1v1h-1zM1 62h1v1h-1zM9 62h1v1h-1zM11 62h1v1h-1zM35 62h2v1h-2zM0 63h1v1h-1zM23 63h1v1h-1zM36 63h1v1h-1zM3 64h1v1h-1zM18 64h1v1h-1zM8 65h1v1h-1zM12 65h1v1h-1zM19 65h1v1h-1zM28 65h1v1h-1zM36 65h1v1h-1zM23 66h1v1h-1zM9 67h1v1h-1zM16 67h1v1h-1zM34 67h1v1h-1zM6 68h1v1h-1zM12 68h2v1h-2zM20 68h1v1h-1zM23 68h1v1h-1zM25 68h1v1h-1zM31 68h1v1h-1zM4 69h1v1h-1zM16 69h1v1h-1zM31 69h1v1h-1zM33 69h1v1h-1zM37 69h1v1h-1zM30 70h1v1h-1zM42 70h1v1h-1zM13 71h1v1h-1zM19 71h1v1h-1zM1 72h2v1h-2zM35 72h1v1h-1zM12 73h1v1h-1zM15 73h1v1h-1zM23 73h1v1h-1zM42 73h1v1h-1zM1 74h1v1h-1zM5 74h1v1h-1zM11 74h2v1h-2zM20 74h1v1h-1zM20 75h1v1h-1zM39 75h1v1h-1zM8 76h1v1h-1zM19 76h1v1h-1zM33 76h1v1h-1zM33 77h1v1h-1zM39 77h1v1h-1zM10 78h1v1h-1zM16 78h1v1h-1zM0 79h1v1h-1zM3 79h2v1h-2zM24 79h1v1h-1zM40 79h1v1h-1zM4 80h1v1h-1zM1 81h1v1h-1zM4 81h1v1h-1zM15 81h1v1h-1zM1 82h2v1h-2zM9 82h1v1h-1zM15 82h2v1h-2zM18 82h1v1h-1zM40 82h1v1h-1zM22 83h1v1h-1zM40 83h1v1h-1zM10 84h1v1h-1zM20 84h1v1h-1zM31 84h1v1h-1zM38 84h1v1h-1zM10 86h1v1h-1zM19 86h1v1h-1zM22 86h1v1h-1z"/>
<path fill="#fdceba" d="M21 0h2v1h-2zM14 1h1v1h-1zM7 2h1v1h-1zM17 2h1v1h-1zM24 2h1v1h-1zM4 3h1v1h-1zM6 3h1v1h-1zM14 3h2v1h-2zM27 3h1v1h-1zM9 4h2v1h-2zM8 5h1v1h-1zM34 6h1v1h-1zM35 7h1v1h-1zM41 7h2v1h-2zM8 8h1v1h-1zM15 8h1v1h-1zM21 8h1v1h-1zM20 9h1v1h-1zM34 9h1v1h-1zM36 9h2v1h-2zM24 10h1v1h-1zM30 10h1v1h-1zM32 10h1v1h-1zM7 11h1v1h-1zM32 11h1v1h-1zM39 11h1v1h-1zM2 12h1v1h-1zM12 12h1v1h-1zM22 12h1v1h-1zM31 12h1v1h-1zM42 12h1v1h-1zM1 14h1v1h-1zM4 14h1v1h-1zM7 15h1v1h-1zM9 15h1v1h-1zM28 15h1v1h-1zM38 15h2v1h-2zM9 16h1v1h-1zM12 16h1v1h-1zM2 17h1v1h-1zM41 18h1v1h-1zM8 19h1v1h-1zM13 19h1v1h-1zM1 21h1v1h-1zM14 21h1v1h-1zM28 21h1v1h-1zM22 22h1v1h-1zM13 23h1v1h-1zM28 23h1v1h-1zM30 23h1v1h-1zM14 24h1v1h-1zM21 24h1v1h-1zM8 25h1v1h-1zM29 25h1v1h-1zM39 26h1v1h-1zM41 27h1v1h-1zM38 28h1v1h-1zM22 29h1v1h-1zM24 29h1v1h-1zM11 30h1v1h-1zM3 31h1v1h-1zM10 31h1v1h-1zM4 32h1v1h-1zM22 32h2v1h-2zM23 33h1v1h-1zM36 33h1v1h-1zM2 34h1v1h-1zM21 34h1v1h-1zM3 35h1v1h-1zM4 36h1v1h-1zM10 37h1v1h-1zM18 37h2v1h-2zM40 37h1v1h-1zM42 37h1v1h-1zM21 38h1v1h-1zM30 38h1v1h-1zM1 39h1v1h-1zM14 39h1v1h-1zM29 39h1v1h-1zM40 39h1v1h-1zM27 40h2v1h-2zM39 41h1v1h-1zM22 42h1v1h-1zM4 43h1v1h-1zM23 43h1v1h-1zM42 43h1v1h-1zM0 44h1v1h-1zM22 44h1v1h-1zM25 44h1v1h-1zM8 46h1v1h-1zM13 46h1v1h-1zM22 46h1v1h-1zM34 46h1v1h-1zM41 46h1v1h-1zM10 47h1v1h-1zM12 47h1v1h-1zM22 47h1v1h-1zM37 47h1v1h-1zM3 48h1v1h-1zM10 48h1v1h-1zM27 48h1v1h-1zM40 48h1v1h-1zM42 48h1v1h-1zM16 49h1v1h-1zM38 49h1v1h-1zM42 49h1v1h-1zM33 50h1v1h-1zM40 50h2v1h-2zM18 51h1v1h-1zM22 51h1v1h-1zM30 52h1v1h-1zM3 54h1v1h-1zM12 54h1v1h-1zM5 55h1v1h-1zM28 56h1v1h-1zM3 57h1v1h-1zM14 57h1v1h-1zM16 57h1v1h-1zM27 57h1v1h-1zM40 57h1v1h-1zM42 57h1v1h-1zM12 58h1v1h-1zM6 59h1v1h-1zM14 59h1v1h-1zM20 59h1v1h-1zM32 59h1v1h-1zM35 59h1v1h-1zM41 59h2v1h-2zM5 60h1v1h-1zM10 60h1v1h-1zM14 60h1v1h-1zM39 60h1v1h-1zM19 61h1v1h-1zM8 62h1v1h-1zM19 62h1v1h-1zM30 62h1v1h-1zM12 63h1v1h-1zM18 63h1v1h-1zM21 63h1v1h-1zM28 63h1v1h-1zM19 64h1v1h-1zM24 64h1v1h-1zM38 64h1v1h-1zM40 64h1v1h-1zM13 65h1v1h-1zM30 65h1v1h-1zM6 66h1v1h-1zM9 66h1v1h-1zM30 67h1v1h-1zM1 68h1v1h-1zM32 68h1v1h-1zM3 69h1v1h-1zM7 69h1v1h-1zM20 69h1v1h-1zM11 70h1v1h-1zM23 70h1v1h-1zM39 70h1v1h-1zM10 71h1v1h-1zM35 71h1v1h-1zM41 71h1v1h-1zM21 72h3v1h-3zM2 74h1v1h-1zM8 74h1v1h-1zM26 74h1v1h-1zM14 75h1v1h-1zM23 75h1v1h-1zM25 75h1v1h-1zM0 76h1v1h-1zM10 76h1v1h-1zM32 77h1v1h-1zM40 77h1v1h-1zM5 79h1v1h-1zM11 79h1v1h-1zM27 79h1v1h-1zM33 79h1v1h-1zM42 79h1v1h-1zM7 80h1v1h-1zM12 80h1v1h-1zM23 80h1v1h-1zM0 81h1v1h-1zM2 81h1v1h-1zM11 81h1v1h-1zM42 81h1v1h-1zM7 82h1v1h-1zM21 82h1v1h-1zM41 82h1v1h-1zM35 83h1v1h-1zM5 84h1v1h-1zM18 85h2v1h-2zM21 85h1v1h-1zM25 85h1v1h-1zM21 86h1v1h-1z"/>
<path fill="#fcc3ac" d="M34 0h1v1h-1zM8 1h1v1h-1zM10 1h1v1h-1zM16 2h1v1h-1zM18 2h1v1h-1zM35 2h1v1h-1zM31 3h1v1h-1zM3 4h2v1h-2zM8 4h1v1h-1zM32 4h1v1h-1zM36 4h1v1h-1zM41 4h2v1h-2zM4 5h1v1h-1zM31 5h1v1h-1zM38 5h1v1h-1zM6 6h1v1h-1zM18 7h1v1h-1zM9 8h1v1h-1zM5 10h1v1h-1zM25 10h1v1h-1zM41 10h1v1h-1zM0 11h1v1h-1zM2 11h1v1h-1zM27 12h1v1h-1zM35 12h1v1h-1zM10 13h1v1h-1zM20 13h1v1h-1zM38 14h2v1h-2zM4 15h1v1h-1zM25 16h1v1h-1zM40 16h2v1h-2zM3 17h1v1h-1zM9 17h1v1h-1zM27 17h1v1h-1zM32 18h1v1h-1zM40 18h1v1h-1zM15 20h1v1h-1zM28 20h1v1h-1zM30 20h1v1h-1zM32 20h1v1h-1zM8 21h1v1h-1zM27 21h1v1h-1zM18 22h1v1h-1zM29 22h1v1h-1zM34 22h1v1h-1zM36 23h1v1h-1zM5 24h1v1h-1zM12 25h2v1h-2zM21 26h1v1h-1zM22 27h1v1h-1zM42 27h1v1h-1zM10 28h1v1h-1zM13 28h1v1h-1zM41 28h1v1h-1zM21 29h1v1h-1zM27 29h1v1h-1zM40 29h1v1h-1zM23 31h1v1h-1zM42 31h1v1h-1zM25 32h1v1h-1zM36 32h1v1h-1zM35 33h1v1h-1zM22 34h1v1h-1zM37 34h1v1h-1zM18 35h1v1h-1zM37 35h1v1h-1zM14 36h1v1h-1zM22 36h1v1h-1zM6 37h1v1h-1zM28 37h1v1h-1zM20 39h1v1h-1zM38 39h1v1h-1zM5 40h1v1h-1zM9 40h1v1h-1zM12 40h3v1h-3zM5 41h1v1h-1zM17 42h1v1h-1zM28 42h1v1h-1zM26 43h1v1h-1zM24 44h1v1h-1zM42 44h1v1h-1zM16 45h1v1h-1zM37 45h1v1h-1zM12 46h1v1h-1zM16 46h1v1h-1zM28 46h1v1h-1zM32 46h2v1h-2zM40 46h1v1h-1zM14 48h1v1h-1zM10 49h2v1h-2zM13 49h1v1h-1zM25 49h1v1h-1zM0 50h1v1h-1zM15 50h1v1h-1zM22 50h1v1h-1zM12 51h1v1h-1zM19 51h1v1h-1zM38 51h1v1h-1zM40 51h1v1h-1zM10 52h1v1h-1zM12 52h1v1h-1zM14 52h1v1h-1zM39 52h2v1h-2zM8 53h1v1h-1zM5 54h1v1h-1zM17 56h1v1h-1zM27 56h1v1h-1zM4 57h1v1h-1zM19 57h1v1h-1zM39 57h1v1h-1zM10 58h1v1h-1zM38 58h1v1h-1zM36 59h1v1h-1zM12 60h1v1h-1zM20 60h1v1h-1zM22 60h1v1h-1zM1 61h1v1h-1zM10 61h1v1h-1zM14 61h1v1h-1zM36 61h1v1h-1zM24 62h1v1h-1zM39 62h1v1h-1zM9 63h1v1h-1zM14 63h1v1h-1zM28 66h1v1h-1zM37 66h1v1h-1zM12 67h2v1h-2zM35 67h1v1h-1zM10 68h1v1h-1zM41 68h1v1h-1zM39 69h1v1h-1zM4 70h1v1h-1zM10 70h1v1h-1zM15 70h1v1h-1zM5 71h1v1h-1zM15 71h2v1h-2zM30 71h1v1h-1zM0 72h1v1h-1zM7 72h1v1h-1zM2 73h1v1h-1zM8 73h1v1h-1zM10 73h1v1h-1zM20 73h1v1h-1zM2 75h1v1h-1zM18 75h1v1h-1zM37 75h1v1h-1zM1 76h1v1h-1zM17 76h1v1h-1zM23 76h1v1h-1zM41 76h1v1h-1zM1 77h1v1h-1zM6 77h1v1h-1zM36 78h1v1h-1zM37 79h1v1h-1zM15 80h1v1h-1zM17 81h1v1h-1zM21 81h1v1h-1zM31 81h1v1h-1zM38 82h2v1h-2zM10 83h1v1h-1zM1 84h1v1h-1zM14 84h1v1h-1zM3 86h1v1h-1z"/>
<path fill="#fcb89e" d="M11 1h1v1h-1zM30 3h1v1h-1zM37 5h1v1h-1zM4 6h1v1h-1zM40 6h1v1h-1zM22 7h1v1h-1zM27 7h1v1h-1zM2 8h1v1h-1zM28 9h1v1h-1zM21 10h1v1h-1zM35 10h1v1h-1zM40 10h1v1h-1zM6 11h1v1h-1zM30 11h1v1h-1zM42 11h1v1h-1zM4 12h1v1h-1zM15 12h1v1h-1zM32 12h1v1h-1zM15 13h1v1h-1zM3 14h1v1h-1zM6 14h1v1h-1zM22 15h1v1h-1zM27 15h1v1h-1zM0 16h1v1h-1zM2 16h1v1h-1zM4 16h1v1h-1zM20 16h1v1h-1zM5 18h1v1h-1zM8 18h1v1h-1zM34 18h1v1h-1zM27 19h1v1h-1zM40 19h1v1h-1zM12 20h1v1h-1zM21 20h1v1h-1zM9 22h1v1h-1zM28 22h1v1h-1zM12 23h1v1h-1zM15 23h1v1h-1zM41 24h1v1h-1zM27 25h1v1h-1zM42 25h1v1h-1zM20 26h1v1h-1zM36 27h1v1h-1zM8 29h1v1h-1zM18 29h1v1h-1zM25 29h1v1h-1zM7 30h1v1h-1zM22 30h1v1h-1zM7 31h1v1h-1zM21 31h2v1h-2zM37 31h1v1h-1zM14 32h1v1h-1zM28 32h1v1h-1zM41 32h1v1h-1zM9 33h1v1h-1zM34 33h1v1h-1zM11 34h1v1h-1zM19 34h1v1h-1zM35 34h1v1h-1zM12 35h1v1h-1zM28 35h1v1h-1zM41 35h1v1h-1zM5 37h1v1h-1zM8 37h1v1h-1zM9 38h1v1h-1zM11 39h1v1h-1zM25 39h1v1h-1zM34 40h1v1h-1zM13 41h1v1h-1zM18 41h1v1h-1zM20 42h1v1h-1zM13 43h2v1h-2zM21 43h1v1h-1zM3 44h1v1h-1zM39 44h1v1h-1zM13 45h1v1h-1zM34 47h1v1h-1zM5 48h1v1h-1zM12 48h1v1h-1zM36 48h1v1h-1zM1 49h1v1h-1zM7 49h1v1h-1zM22 49h1v1h-1zM40 49h1v1h-1zM9 50h1v1h-1zM39 50h1v1h-1zM42 50h1v1h-1zM19 52h1v1h-1zM33 52h1v1h-1zM41 52h1v1h-1zM19 54h1v1h-1zM41 54h1v1h-1zM7 55h1v1h-1zM41 55h1v1h-1zM19 56h1v1h-1zM30 56h1v1h-1zM37 56h1v1h-1zM38 57h1v1h-1zM41 57h1v1h-1zM17 58h2v1h-2zM3 59h1v1h-1zM28 59h1v1h-1zM34 59h1v1h-1zM30 60h1v1h-1zM36 60h1v1h-1zM40 61h1v1h-1zM10 62h1v1h-1zM12 64h1v1h-1zM32 64h1v1h-1zM19 66h1v1h-1zM32 67h1v1h-1zM37 67h1v1h-1zM9 68h1v1h-1zM18 68h2v1h-2zM33 68h2v1h-2zM40 68h1v1h-1zM18 70h1v1h-1zM14 71h1v1h-1zM6 72h1v1h-1zM26 72h1v1h-1zM11 73h1v1h-1zM17 74h1v1h-1zM16 75h1v1h-1zM35 78h1v1h-1zM9 79h1v1h-1zM21 79h1v1h-1zM10 80h1v1h-1zM22 80h1v1h-1zM32 80h1v1h-1zM40 80h1v1h-1zM7 81h1v1h-1zM12 81h1v1h-1zM12 83h1v1h-1zM16 83h1v1h-1zM32 83h1v1h-1zM6 85h1v1h-1zM13 85h2v1h-2zM4 86h1v1h-1zM13 86h1v1h-1z"/>
<path fill="#fcac90" d="M2 1h1v1h-1zM20 1h1v1h-1zM36 1h1v1h-1zM3 2h1v1h-1zM38 2h1v1h-1zM34 3h1v1h-1zM17 5h1v1h-1zM1 6h1v1h-1zM3 6h1v1h-1zM28 6h1v1h-1zM39 6h1v1h-1zM21 7h1v1h-1zM4 8h1v1h-1zM8 13h1v1h-1zM42 13h1v1h-1zM2 14h1v1h-1zM7 14h1v1h-1zM15 14h1v1h-1zM32 15h1v1h-1zM7 17h1v1h-1zM10 17h1v1h-1zM17 18h1v1h-1zM7 19h1v1h-1zM15 19h1v1h-1zM18 19h1v1h-1zM37 19h1v1h-1zM22 20h1v1h-1zM40 21h1v1h-1zM9 23h1v1h-1zM12 26h1v1h-1zM41 26h1v1h-1zM8 27h1v1h-1zM10 27h1v1h-1zM27 27h1v1h-1zM13 29h1v1h-1zM12 30h1v1h-1zM34 30h1v1h-1zM41 30h1v1h-1zM24 32h1v1h-1zM42 32h1v1h-1zM20 33h1v1h-1zM6 35h2v1h-2zM22 35h1v1h-1zM13 36h1v1h-1zM17 36h1v1h-1zM20 36h1v1h-1zM27 37h1v1h-1zM18 38h1v1h-1zM13 39h1v1h-1zM30 39h1v1h-1zM37 39h1v1h-1zM10 40h1v1h-1zM30 41h1v1h-1zM20 44h1v1h-1zM11 45h1v1h-1zM13 48h1v1h-1zM30 48h1v1h-1zM9 49h1v1h-1zM23 50h1v1h-1zM37 52h1v1h-1zM26 53h1v1h-1zM34 53h1v1h-1zM17 55h1v1h-1zM34 55h1v1h-1zM34 58h1v1h-1zM39 58h1v1h-1zM9 60h1v1h-1zM13 62h1v1h-1zM30 64h1v1h-1zM17 65h1v1h-1zM41 65h1v1h-1zM35 66h1v1h-1zM41 66h1v1h-1zM17 68h1v1h-1zM37 68h1v1h-1zM34 70h1v1h-1zM40 70h1v1h-1zM3 71h1v1h-1zM18 71h1v1h-1zM37 71h1v1h-1zM5 72h1v1h-1zM20 72h1v1h-1zM40 72h1v1h-1zM27 73h1v1h-1zM35 76h1v1h-1zM19 77h1v1h-1zM41 79h1v1h-1zM16 80h1v1h-1zM27 82h1v1h-1zM32 82h1v1h-1zM34 83h1v1h-1zM1 86h1v1h-1zM23 86h1v1h-1z"/>
<path fill="#fca082" d="M30 0h1v1h-1zM6 1h1v1h-1zM29 2h1v1h-1zM22 3h1v1h-1zM22 4h1v1h-1zM1 5h1v1h-1zM1 7h1v1h-1zM42 9h1v1h-1zM20 12h1v1h-1zM17 14h1v1h-1zM2 15h1v1h-1zM6 15h1v1h-1zM13 15h1v1h-1zM42 16h1v1h-1zM28 17h1v1h-1zM39 19h1v1h-1zM42 19h1v1h-1zM9 20h1v1h-1zM18 20h1v1h-1zM41 20h1v1h-1zM19 21h1v1h-1zM10 26h1v1h-1zM8 28h1v1h-1zM34 29h1v1h-1zM21 32h1v1h-1zM34 32h1v1h-1zM18 33h1v1h-1zM28 33h1v1h-1zM17 34h1v1h-1zM30 34h1v1h-1zM13 37h1v1h-1zM37 38h1v1h-1zM11 43h1v1h-1zM37 43h1v1h-1zM12 45h1v1h-1zM18 45h1v1h-1zM34 45h1v1h-1zM30 46h1v1h-1zM18 47h1v1h-1zM28 48h1v1h-1zM37 48h1v1h-1zM12 49h1v1h-1zM13 50h1v1h-1zM20 50h1v1h-1zM28 50h1v1h-1zM8 52h1v1h-1zM28 52h1v1h-1zM5 53h1v1h-1zM37 55h1v1h-1zM20 57h1v1h-1zM19 59h1v1h-1zM4 60h1v1h-1zM39 61h1v1h-1zM20 62h1v1h-1zM37 64h1v1h-1zM16 65h1v1h-1zM5 66h1v1h-1zM41 67h1v1h-1zM14 68h1v1h-1zM39 68h1v1h-1zM1 69h1v1h-1zM15 69h1v1h-1zM17 69h1v1h-1zM27 69h1v1h-1zM40 71h1v1h-1zM15 72h1v1h-1zM15 75h1v1h-1zM37 76h1v1h-1zM19 79h1v1h-1zM29 80h1v1h-1zM22 81h1v1h-1zM17 84h1v1h-1zM19 84h1v1h-1zM22 85h1v1h-1z"/>
<path fill="#fc9474" d="M17 0h1v1h-1zM40 0h1v1h-1zM7 1h1v1h-1zM28 1h1v1h-1zM30 2h1v1h-1zM10 3h1v1h-1zM34 4h1v1h-1zM32 9h1v1h-1zM39 9h1v1h-1zM37 12h1v1h-1zM8 16h1v1h-1zM36 16h1v1h-1zM4 17h1v1h-1zM20 19h1v1h-1zM15 21h1v1h-1zM18 21h1v1h-1zM22 21h1v1h-1zM6 24h1v1h-1zM13 24h1v1h-1zM18 25h1v1h-1zM6 30h1v1h-1zM12 34h1v1h-1zM18 34h1v1h-1zM20 34h1v1h-1zM5 35h1v1h-1zM17 35h1v1h-1zM14 37h1v1h-1zM20 37h1v1h-1zM18 39h1v1h-1zM22 39h1v1h-1zM8 40h1v1h-1zM19 48h1v1h-1zM35 48h1v1h-1zM14 49h1v1h-1zM11 50h1v1h-1zM5 51h1v1h-1zM35 51h1v1h-1zM18 52h1v1h-1zM7 54h1v1h-1zM34 54h1v1h-1zM30 55h1v1h-1zM39 56h1v1h-1zM8 57h1v1h-1zM30 58h1v1h-1zM30 59h1v1h-1zM6 60h1v1h-1zM5 61h1v1h-1zM17 62h1v1h-1zM6 63h1v1h-1zM10 63h1v1h-1zM42 63h1v1h-1zM42 64h1v1h-1zM15 65h1v1h-1zM13 66h1v1h-1zM17 67h1v1h-1zM16 68h1v1h-1zM13 70h2v1h-2zM1 71h1v1h-1zM20 71h1v1h-1zM36 71h1v1h-1zM38 71h1v1h-1zM39 72h1v1h-1zM6 73h1v1h-1zM1 75h1v1h-1zM5 75h1v1h-1zM15 76h1v1h-1zM41 77h1v1h-1zM31 79h1v1h-1zM19 80h1v1h-1zM41 80h1v1h-1zM29 84h1v1h-1z"/>
<path fill="#fc8868" d="M20 2h1v1h-1zM42 3h1v1h-1zM1 8h1v1h-1zM7 8h1v1h-1zM20 8h1v1h-1zM37 13h1v1h-1zM0 15h1v1h-1zM30 15h1v1h-1zM3 16h1v1h-1zM22 16h1v1h-1zM28 16h1v1h-1zM31 16h1v1h-1zM35 21h1v1h-1zM15 31h1v1h-1zM20 32h1v1h-1zM30 32h1v1h-1zM6 36h1v1h-1zM27 43h1v1h-1zM17 48h1v1h-1zM22 48h1v1h-1zM8 49h1v1h-1zM32 49h1v1h-1zM6 50h1v1h-1zM19 50h1v1h-1zM34 51h1v1h-1zM39 51h1v1h-1zM5 52h1v1h-1zM10 53h1v1h-1zM5 56h1v1h-1zM0 59h1v1h-1zM11 59h1v1h-1zM13 59h1v1h-1zM42 62h1v1h-1zM37 63h1v1h-1zM5 65h1v1h-1zM21 67h1v1h-1zM23 69h1v1h-1zM32 71h1v1h-1zM42 71h1v1h-1zM24 72h1v1h-1zM15 77h1v1h-1zM31 77h1v1h-1zM41 78h1v1h-1zM0 85h2v1h-2z"/>
<path fill="#fb7c5c" d="M41 2h1v1h-1zM32 3h1v1h-1zM37 3h1v1h-1zM34 7h1v1h-1zM34 8h1v1h-1zM37 8h1v1h-1zM39 8h1v1h-1zM20 10h1v1h-1zM37 17h1v1h-1zM3 18h1v1h-1zM3 19h1v1h-1zM32 19h1v1h-1zM13 20h1v1h-1zM7 21h1v1h-1zM37 21h1v1h-1zM7 22h1v1h-1zM13 22h1v1h-1zM17 22h1v1h-1zM27 23h1v1h-1zM5 27h1v1h-1zM13 33h1v1h-1zM20 35h1v1h-1zM27 39h1v1h-1zM5 42h1v1h-1zM41 43h1v1h-1zM18 44h1v1h-1zM15 46h1v1h-1zM27 47h1v1h-1zM6 48h1v1h-1zM36 49h1v1h-1zM15 56h1v1h-1zM13 58h1v1h-1zM15 58h1v1h-1zM6 65h1v1h-1zM32 65h1v1h-1zM10 66h1v1h-1zM15 66h1v1h-1zM20 66h1v1h-1zM27 67h1v1h-1zM26 68h1v1h-1zM10 69h1v1h-1zM17 70h1v1h-1zM0 71h1v1h-1zM2 71h1v1h-1zM25 71h1v1h-1zM17 72h1v1h-1zM15 78h1v1h-1zM17 85h1v1h-1z"/>
<path fill="#fb7050" d="M0 1h1v1h-1zM17 1h1v1h-1zM27 2h1v1h-1zM37 2h1v1h-1zM2 3h1v1h-1zM2 7h1v1h-1zM28 8h1v1h-1zM17 9h1v1h-1zM1 13h1v1h-1zM39 16h1v1h-1zM11 20h1v1h-1zM9 21h1v1h-1zM27 22h1v1h-1zM41 22h1v1h-1zM15 24h1v1h-1zM15 27h1v1h-1zM12 28h1v1h-1zM28 29h1v1h-1zM41 29h1v1h-1zM0 32h1v1h-1zM11 33h1v1h-1zM30 33h1v1h-1zM12 37h1v1h-1zM5 38h1v1h-1zM17 39h1v1h-1zM2 43h1v1h-1zM13 44h1v1h-1zM37 49h1v1h-1zM10 57h1v1h-1zM30 57h1v1h-1zM7 60h1v1h-1zM17 60h1v1h-1zM30 61h1v1h-1zM18 62h1v1h-1zM21 64h1v1h-1zM5 67h1v1h-1zM0 68h1v1h-1zM5 69h1v1h-1zM6 70h1v1h-1zM17 73h1v1h-1zM30 77h1v1h-1zM29 82h1v1h-1zM18 84h1v1h-1z"/>
<path fill="#f96346" d="M8 2h1v1h-1zM22 2h1v1h-1zM28 2h1v1h-1zM32 2h1v1h-1zM40 2h1v1h-1zM15 4h1v1h-1zM15 9h1v1h-1zM17 10h1v1h-1zM10 12h1v1h-1zM1 15h1v1h-1zM6 16h1v1h-1zM30 19h1v1h-1zM12 22h1v1h-1zM22 23h1v1h-1zM10 25h1v1h-1zM9 26h1v1h-1zM36 29h1v1h-1zM17 32h1v1h-1zM7 34h1v1h-1zM13 35h1v1h-1zM11 37h1v1h-1zM22 37h1v1h-1zM7 39h1v1h-1zM41 39h1v1h-1zM15 40h1v1h-1zM27 41h1v1h-1zM7 43h1v1h-1zM12 43h1v1h-1zM34 44h1v1h-1zM15 48h1v1h-1zM18 48h1v1h-1zM41 49h1v1h-1zM1 51h1v1h-1zM15 51h1v1h-1zM30 51h1v1h-1zM30 53h1v1h-1zM17 54h1v1h-1zM30 54h1v1h-1zM12 57h1v1h-1zM9 64h1v1h-1zM28 67h1v1h-1zM26 69h1v1h-1zM5 73h1v1h-1zM26 73h1v1h-1zM17 75h1v1h-1zM29 76h1v1h-1zM36 76h1v1h-1zM35 77h1v1h-1zM1 80h1v1h-1zM27 84h1v1h-1zM39 84h1v1h-1z"/>
<path fill="#f6553d" d="M6 8h1v1h-1zM22 8h1v1h-1zM3 10h1v1h-1zM22 10h1v1h-1zM9 12h1v1h-1zM37 16h1v1h-1zM4 19h1v1h-1zM28 19h1v1h-1zM41 21h1v1h-1zM39 22h1v1h-1zM18 27h1v1h-1zM17 28h1v1h-1zM37 29h1v1h-1zM15 30h1v1h-1zM13 32h1v1h-1zM27 33h1v1h-1zM10 34h1v1h-1zM7 38h1v1h-1zM19 43h1v1h-1zM17 44h1v1h-1zM37 44h1v1h-1zM37 46h1v1h-1zM7 47h1v1h-1zM7 52h1v1h-1zM34 52h1v1h-1zM12 53h1v1h-1zM19 60h1v1h-1zM37 61h1v1h-1zM37 62h1v1h-1zM13 63h1v1h-1zM19 63h1v1h-1zM22 63h1v1h-1zM27 64h1v1h-1zM6 67h1v1h-1zM22 67h1v1h-1zM2 70h1v1h-1zM8 71h1v1h-1zM15 74h1v1h-1zM36 77h1v1h-1zM36 79h1v1h-1zM0 86h1v1h-1zM41 86h1v1h-1z"/>
<path fill="#f24734" d="M5 2h1v1h-1zM0 8h1v1h-1zM41 12h1v1h-1zM34 15h1v1h-1zM15 25h1v1h-1zM6 26h1v1h-1zM13 26h1v1h-1zM10 29h1v1h-1zM12 29h1v1h-1zM13 34h1v1h-1zM15 43h1v1h-1zM5 45h1v1h-1zM7 48h1v1h-1zM18 53h1v1h-1zM33 63h1v1h-1zM5 64h1v1h-1zM13 64h1v1h-1zM23 64h1v1h-1zM21 65h1v1h-1zM24 70h1v1h-1zM22 71h1v1h-1zM8 72h1v1h-1zM0 73h1v1h-1zM33 80h1v1h-1zM34 82h1v1h-1zM7 84h1v1h-1z"/>
<path fill="#ee3a2b" d="M0 2h1v1h-1zM39 2h1v1h-1zM1 4h1v1h-1zM17 8h1v1h-1zM6 10h1v1h-1zM1 12h1v1h-1zM30 16h1v1h-1zM14 20h1v1h-1zM17 20h1v1h-1zM10 21h1v1h-1zM6 25h1v1h-1zM27 30h1v1h-1zM5 33h1v1h-1zM28 39h1v1h-1zM7 41h1v1h-1zM15 41h1v1h-1zM41 44h1v1h-1zM7 45h1v1h-1zM30 45h1v1h-1zM7 46h1v1h-1zM15 52h1v1h-1zM17 52h1v1h-1zM17 53h1v1h-1zM34 56h1v1h-1zM39 63h1v1h-1zM17 66h1v1h-1zM24 69h1v1h-1zM24 71h1v1h-1zM25 72h1v1h-1zM33 82h1v1h-1zM27 83h1v1h-1zM15 86h1v1h-1z"/>
<path fill="#e32f27" d="M2 2h1v1h-1zM17 4h1v1h-1zM2 9h1v1h-1zM36 10h1v1h-1zM42 10h1v1h-1zM17 17h1v1h-1zM2 19h1v1h-1zM36 19h1v1h-1zM17 21h1v1h-1zM8 22h1v1h-1zM7 25h1v1h-1zM15 32h1v1h-1zM7 33h1v1h-1zM7 36h1v1h-1zM15 37h1v1h-1zM15 39h1v1h-1zM6 40h1v1h-1zM6 45h1v1h-1zM17 50h1v1h-1zM37 50h1v1h-1zM7 57h1v1h-1zM12 66h1v1h-1zM34 66h1v1h-1zM27 68h1v1h-1zM4 71h1v1h-1zM28 77h1v1h-1zM29 78h1v1h-1zM35 79h1v1h-1zM35 82h1v1h-1zM19 83h1v1h-1zM28 84h1v1h-1z"/>
<path fill="#d82523" d="M3 1h1v1h-1zM0 5h1v1h-1zM0 9h1v1h-1zM34 10h1v1h-1zM28 12h1v1h-1zM1 17h1v1h-1zM2 18h1v1h-1zM4 18h1v1h-1zM7 24h1v1h-1zM17 27h1v1h-1zM6 28h1v1h-1zM30 29h1v1h-1zM19 31h1v1h-1zM8 33h1v1h-1zM30 43h1v1h-1zM17 46h1v1h-1zM17 49h1v1h-1zM7 53h1v1h-1zM17 61h1v1h-1zM7 62h1v1h-1zM15 67h1v1h-1zM27 70h1v1h-1zM9 71h1v1h-1zM27 74h1v1h-1zM26 75h1v1h-1zM29 79h1v1h-1zM27 80h1v1h-1zM36 84h1v1h-1z"/>
<path fill="#ce1b1e" d="M2 5h1v1h-1zM3 9h1v1h-1zM5 16h1v1h-1zM8 20h1v1h-1zM6 21h1v1h-1zM15 22h1v1h-1zM17 29h1v1h-1zM10 33h1v1h-1zM6 34h1v1h-1zM15 34h1v1h-1zM15 35h1v1h-1zM17 38h1v1h-1zM27 52h1v1h-1zM15 55h1v1h-1zM17 57h1v1h-1zM15 61h1v1h-1zM5 62h1v1h-1zM1 73h1v1h-1zM24 73h1v1h-1zM37 73h1v1h-1zM24 75h1v1h-1zM31 78h1v1h-1zM37 81h1v1h-1zM28 82h1v1h-1zM30 83h1v1h-1zM16 84h1v1h-1zM37 84h1v1h-1zM4 85h1v1h-1zM38 85h1v1h-1z"/>
<path fill="#c3161b" d="M3 8h1v1h-1zM17 19h1v1h-1zM27 20h1v1h-1zM6 22h1v1h-1zM15 29h1v1h-1zM15 42h1v1h-1zM27 42h1v1h-1zM17 43h1v1h-1zM27 46h1v1h-1zM36 50h1v1h-1zM10 55h1v1h-1zM12 62h1v1h-1zM7 64h1v1h-1zM39 64h1v1h-1zM7 65h1v1h-1zM20 65h1v1h-1zM7 68h1v1h-1zM27 71h1v1h-1zM24 74h1v1h-1zM27 75h1v1h-1zM29 77h1v1h-1zM28 81h2v1h-2zM17 86h1v1h-1zM39 86h1v1h-1z"/>
<path fill="#b71319" d="M0 10h1v1h-1zM34 12h1v1h-1zM0 18h1v1h-1zM0 19h1v1h-1zM5 20h1v1h-1zM15 26h1v1h-1zM15 28h1v1h-1zM27 35h1v1h-1zM12 36h1v1h-1zM27 44h1v1h-1zM17 47h1v1h-1zM34 57h1v1h-1zM37 57h1v1h-1zM0 70h1v1h-1zM11 71h1v1h-1zM23 71h1v1h-1zM36 81h1v1h-1zM35 84h1v1h-1zM3 85h1v1h-1z"/>
<path fill="#ac1116" d="M4 2h1v1h-1zM9 10h1v1h-1zM15 10h1v1h-1zM2 13h1v1h-1zM0 17h1v1h-1zM17 24h1v1h-1zM7 27h1v1h-1zM37 27h1v1h-1zM5 28h1v1h-1zM7 28h1v1h-1zM12 32h1v1h-1zM6 33h1v1h-1zM17 40h1v1h-1zM7 42h1v1h-1zM27 45h1v1h-1zM27 50h1v1h-1zM17 51h1v1h-1zM7 56h1v1h-1zM22 64h1v1h-1zM22 66h1v1h-1zM7 67h1v1h-1zM30 82h1v1h-1zM36 82h1v1h-1zM40 85h1v1h-1zM40 86h1v1h-1z"/>
<path fill="#9e0d14" d="M0 0h1v1h-1zM4 1h1v1h-1zM0 3h1v1h-1zM0 12h1v1h-1zM1 16h1v1h-1zM5 21h1v1h-1zM7 29h1v1h-1zM7 32h1v1h-1zM17 41h1v1h-1zM17 59h1v1h-1zM39 67h1v1h-1zM30 76h1v1h-1zM30 79h1v1h-1zM28 83h1v1h-1zM42 86h1v1h-1z"/>
<path fill="#8c0912" d="M0 4h1v1h-1zM34 17h1v1h-1zM7 20h1v1h-1zM17 25h1v1h-1zM5 26h1v1h-1zM14 31h1v1h-1zM7 44h1v1h-1zM34 49h1v1h-1zM7 50h1v1h-1zM24 68h1v1h-1zM36 80h1v1h-1zM27 81h1v1h-1z"/>
<path fill="#79040f" d="M10 2h1v1h-1zM0 6h1v1h-1zM1 9h1v1h-1zM4 10h1v1h-1zM0 13h1v1h-1zM0 14h1v1h-1zM8 24h1v1h-1zM7 26h1v1h-1zM6 27h1v1h-1zM15 36h1v1h-1zM17 37h1v1h-1zM15 38h1v1h-1zM34 43h1v1h-1zM7 58h1v1h-1zM34 76h1v1h-1zM28 79h1v1h-1zM32 81h1v1h-1z"/>
<path fill="#67000d" d="M1 1h1v1h-1zM15 1h1v1h-1zM1 2h1v1h-1zM6 2h1v1h-1zM42 2h1v1h-1zM2 4h1v1h-1zM0 7h1v1h-1zM1 10h2v1h-2zM1 19h1v1h-1zM6 20h1v1h-1zM5 22h1v1h-1zM5 23h3v1h-3zM17 23h1v1h-1zM5 25h1v1h-1zM17 26h1v1h-1zM5 29h1v1h-1zM17 30h1v1h-1zM6 31h1v1h-1zM13 31h1v1h-1zM17 31h2v1h-2zM27 31h1v1h-1zM34 31h1v1h-1zM5 32h2v1h-2zM15 33h1v1h-1zM17 33h1v1h-1zM7 37h1v1h-1zM7 40h1v1h-1zM6 43h1v1h-1zM6 44h1v1h-1zM17 45h1v1h-1zM6 49h1v1h-1zM15 49h1v1h-1zM18 49h1v1h-1zM10 50h1v1h-1zM6 51h2v1h-2zM37 51h1v1h-1zM6 53h1v1h-1zM6 54h1v1h-1zM15 54h1v1h-1zM27 54h1v1h-1zM37 54h1v1h-1zM5 57h1v1h-1zM15 57h1v1h-1zM6 58h1v1h-1zM7 59h1v1h-1zM15 59h1v1h-1zM18 59h1v1h-1zM27 59h1v1h-1zM27 60h1v1h-1zM6 61h2v1h-2zM15 62h1v1h-1zM27 62h1v1h-1zM7 63h1v1h-1zM15 63h1v1h-1zM20 63h1v1h-1zM6 64h1v1h-1zM10 64h1v1h-1zM15 64h1v1h-1zM17 64h1v1h-1zM20 64h1v1h-1zM34 64h1v1h-1zM41 64h1v1h-1zM22 65h1v1h-1zM7 66h1v1h-1zM21 66h1v1h-1zM27 66h1v1h-1zM20 67h1v1h-1zM26 70h1v1h-1zM26 71h1v1h-1zM39 71h1v1h-1zM27 72h1v1h-1zM25 73h1v1h-1zM23 74h1v1h-1zM28 76h1v1h-1zM31 76h1v1h-1zM37 77h1v1h-1zM28 78h1v1h-1zM30 78h1v1h-1zM37 78h1v1h-1zM28 80h1v1h-1zM30 80h1v1h-1zM34 80h2v1h-2zM37 80h1v1h-1zM30 81h1v1h-1zM33 81h3v1h-3zM37 82h1v1h-1zM33 83h1v1h-1zM36 83h2v1h-2zM30 84h1v1h-1zM33 84h2v1h-2zM23 85h1v1h-1zM39 85h1v1h-1zM41 85h2v1h-2zM38 86h1v1h-1z"/>
</g>
<line x1="60.60" y1="217.20" x2="301.90" y2="217.20" stroke="#3a3a3a" stroke-width="0.9"/>
<line x1="60.60" y1="232.80" x2="301.90" y2="232.80" stroke="#3a3a3a" stroke-width="0.9"/>
<line x1="60.60" y1="258.50" x2="301.90" y2="258.50" stroke="#3a3a3a" stroke-width="0.9"/>
<line x1="60.60" y1="291.80" x2="301.90" y2="291.80" stroke="#3a3a3a" stroke-width="0.9"/>
<line x1="60.60" y1="301.30" x2="301.90" y2="301.30" stroke="#3a3a3a" stroke-width="0.9"/>
<line x1="60.60" y1="313.70" x2="301.90" y2="313.70" stroke="#3a3a3a" stroke-width="0.9"/>
<line x1="60.60" y1="321.40" x2="301.90" y2="321.40" stroke="#3a3a3a" stroke-width="0.9"/>
<line x1="60.60" y1="330.50" x2="301.90" y2="330.50" stroke="#3a3a3a" stroke-width="0.9"/>
<rect x="60.60" y="181.60" width="241.30" height="152.30" fill="none" stroke="#000" stroke-width="1.1"/>
<rect x="54.20" y="181.60" width="5.70" height="35.60" fill="#3cb44b"/>
<text x="51.20" y="201.60" font-size="7.85" text-anchor="end">LC_control</text>
<rect x="54.20" y="217.20" width="5.70" height="15.60" fill="#0e6b5c"/>
<text x="51.20" y="228.30" font-size="7.85" text-anchor="end">LC_0</text>
<rect x="54.20" y="232.80" width="5.70" height="25.70" fill="#f7941d"/>
<text x="51.20" y="247.50" font-size="7.85" text-anchor="end">LC_1</text>
<rect x="54.20" y="258.50" width="5.70" height="33.30" fill="#c8102e"/>
<text x="51.20" y="277.70" font-size="7.85" text-anchor="end">LC_2</text>
<rect x="54.20" y="291.80" width="5.70" height="9.50" fill="#c27f9f"/>
<text x="51.20" y="298.90" font-size="7.85" text-anchor="end">LC_Prolif</text>
<rect x="54.20" y="301.30" width="5.70" height="12.40" fill="#6dc5ef"/>
<text x="51.20" y="311.40" font-size="7.85" text-anchor="end">T cell</text>
<rect x="54.20" y="313.70" width="5.70" height="7.70" fill="#8a3a1a"/>
<text x="51.20" y="320.30" font-size="7.85" text-anchor="end">Mac</text>
<rect x="54.20" y="321.40" width="5.70" height="9.10" fill="#7ea48d"/>
<text x="51.20" y="328.70" font-size="7.85" text-anchor="end">Neu</text>
<rect x="54.20" y="330.50" width="5.70" height="3.40" fill="#1d2a8a"/>
<text x="51.20" y="336.40" font-size="7.85" text-anchor="end">pDC</text>
<line x1="63.41" y1="178.20" x2="63.41" y2="181.60" stroke="#000" stroke-width="1.0"/>
<text x="65.51" y="175.60" font-size="6.2" text-anchor="start" font-style="italic" transform="rotate(-90 65.51 175.60)" stroke="#231f20" stroke-width="0.22">KRT1</text>
<line x1="69.02" y1="178.20" x2="69.02" y2="181.60" stroke="#000" stroke-width="1.0"/>
<text x="71.12" y="175.60" font-size="6.2" text-anchor="start" font-style="italic" transform="rotate(-90 71.12 175.60)" stroke="#231f20" stroke-width="0.22">KRTDAP</text>
<line x1="74.63" y1="178.20" x2="74.63" y2="181.60" stroke="#000" stroke-width="1.0"/>
<text x="76.73" y="175.60" font-size="6.2" text-anchor="start" font-style="italic" transform="rotate(-90 76.73 175.60)" stroke="#231f20" stroke-width="0.22">KRT13</text>
<line x1="80.24" y1="178.20" x2="80.24" y2="181.60" stroke="#000" stroke-width="1.0"/>
<text x="82.34" y="175.60" font-size="6.2" text-anchor="start" font-style="italic" transform="rotate(-90 82.34 175.60)" stroke="#231f20" stroke-width="0.22">WFDC21P</text>
<line x1="85.85" y1="178.20" x2="85.85" y2="181.60" stroke="#000" stroke-width="1.0"/>
<text x="87.95" y="175.60" font-size="6.2" text-anchor="start" font-style="italic" transform="rotate(-90 87.95 175.60)" stroke="#231f20" stroke-width="0.22">DMKN</text>
<line x1="91.46" y1="178.20" x2="91.46" y2="181.60" stroke="#000" stroke-width="1.0"/>
<text x="93.56" y="175.60" font-size="6.2" text-anchor="start" font-style="italic" transform="rotate(-90 93.56 175.60)" stroke="#231f20" stroke-width="0.22">CCR6</text>
<line x1="97.08" y1="178.20" x2="97.08" y2="181.60" stroke="#000" stroke-width="1.0"/>
<text x="99.18" y="175.60" font-size="6.2" text-anchor="start" font-style="italic" transform="rotate(-90 99.18 175.60)" stroke="#231f20" stroke-width="0.22">PLEK2</text>
<line x1="102.69" y1="178.20" x2="102.69" y2="181.60" stroke="#000" stroke-width="1.0"/>
<text x="104.79" y="175.60" font-size="6.2" text-anchor="start" font-style="italic" transform="rotate(-90 104.79 175.60)" stroke="#231f20" stroke-width="0.22">PPM1N</text>
<line x1="108.30" y1="178.20" x2="108.30" y2="181.60" stroke="#000" stroke-width="1.0"/>
<text x="110.40" y="175.60" font-size="6.2" text-anchor="start" font-style="italic" transform="rotate(-90 110.40 175.60)" stroke="#231f20" stroke-width="0.22">ARHGAP27</text>
<line x1="113.91" y1="178.20" x2="113.91" y2="181.60" stroke="#000" stroke-width="1.0"/>
<text x="116.01" y="175.60" font-size="6.2" text-anchor="start" font-style="italic" transform="rotate(-90 116.01 175.60)" stroke="#231f20" stroke-width="0.22">TJP1</text>
<line x1="119.52" y1="178.20" x2="119.52" y2="181.60" stroke="#000" stroke-width="1.0"/>
<text x="121.62" y="175.60" font-size="6.2" text-anchor="start" font-style="italic" transform="rotate(-90 121.62 175.60)" stroke="#231f20" stroke-width="0.22">WARS</text>
<line x1="125.13" y1="178.20" x2="125.13" y2="181.60" stroke="#000" stroke-width="1.0"/>
<text x="127.23" y="175.60" font-size="6.2" text-anchor="start" font-style="italic" transform="rotate(-90 127.23 175.60)" stroke="#231f20" stroke-width="0.22">IGF2BP3</text>
<line x1="130.75" y1="178.20" x2="130.75" y2="181.60" stroke="#000" stroke-width="1.0"/>
<text x="132.85" y="175.60" font-size="6.2" text-anchor="start" font-style="italic" transform="rotate(-90 132.85 175.60)" stroke="#231f20" stroke-width="0.22">ENO2</text>
<line x1="136.36" y1="178.20" x2="136.36" y2="181.60" stroke="#000" stroke-width="1.0"/>
<text x="138.46" y="175.60" font-size="6.2" text-anchor="start" font-style="italic" transform="rotate(-90 138.46 175.60)" stroke="#231f20" stroke-width="0.22">IMPDH1</text>
<line x1="141.97" y1="178.20" x2="141.97" y2="181.60" stroke="#000" stroke-width="1.0"/>
<text x="144.07" y="175.60" font-size="6.2" text-anchor="start" font-style="italic" transform="rotate(-90 144.07 175.60)" stroke="#231f20" stroke-width="0.22">POU2M4</text>
<line x1="147.58" y1="178.20" x2="147.58" y2="181.60" stroke="#000" stroke-width="1.0"/>
<text x="149.68" y="175.60" font-size="6.2" text-anchor="start" font-style="italic" transform="rotate(-90 149.68 175.60)" stroke="#231f20" stroke-width="0.22">P4HA1</text>
<line x1="153.19" y1="178.20" x2="153.19" y2="181.60" stroke="#000" stroke-width="1.0"/>
<text x="155.29" y="175.60" font-size="6.2" text-anchor="start" font-style="italic" transform="rotate(-90 155.29 175.60)" stroke="#231f20" stroke-width="0.22">LOC101929705</text>
<line x1="158.80" y1="178.20" x2="158.80" y2="181.60" stroke="#000" stroke-width="1.0"/>
<text x="160.90" y="175.60" font-size="6.2" text-anchor="start" font-style="italic" transform="rotate(-90 160.90 175.60)" stroke="#231f20" stroke-width="0.22">TBC1D4</text>
<line x1="164.42" y1="178.20" x2="164.42" y2="181.60" stroke="#000" stroke-width="1.0"/>
<text x="166.52" y="175.60" font-size="6.2" text-anchor="start" font-style="italic" transform="rotate(-90 166.52 175.60)" stroke="#231f20" stroke-width="0.22">RPS10</text>
<line x1="170.03" y1="178.20" x2="170.03" y2="181.60" stroke="#000" stroke-width="1.0"/>
<text x="172.13" y="175.60" font-size="6.2" text-anchor="start" font-style="italic" transform="rotate(-90 172.13 175.60)" stroke="#231f20" stroke-width="0.22">PF4</text>
<line x1="175.64" y1="178.20" x2="175.64" y2="181.60" stroke="#000" stroke-width="1.0"/>
<text x="177.74" y="175.60" font-size="6.2" text-anchor="start" font-style="italic" transform="rotate(-90 177.74 175.60)" stroke="#231f20" stroke-width="0.22">SMC4</text>
<line x1="181.25" y1="178.20" x2="181.25" y2="181.60" stroke="#000" stroke-width="1.0"/>
<text x="183.35" y="175.60" font-size="6.2" text-anchor="start" font-style="italic" transform="rotate(-90 183.35 175.60)" stroke="#231f20" stroke-width="0.22">KIF11</text>
<line x1="186.86" y1="178.20" x2="186.86" y2="181.60" stroke="#000" stroke-width="1.0"/>
<text x="188.96" y="175.60" font-size="6.2" text-anchor="start" font-style="italic" transform="rotate(-90 188.96 175.60)" stroke="#231f20" stroke-width="0.22">CENPF</text>
<line x1="192.47" y1="178.20" x2="192.47" y2="181.60" stroke="#000" stroke-width="1.0"/>
<text x="194.57" y="175.60" font-size="6.2" text-anchor="start" font-style="italic" transform="rotate(-90 194.57 175.60)" stroke="#231f20" stroke-width="0.22">PTPRCAP</text>
<line x1="198.08" y1="178.20" x2="198.08" y2="181.60" stroke="#000" stroke-width="1.0"/>
<text x="200.18" y="175.60" font-size="6.2" text-anchor="start" font-style="italic" transform="rotate(-90 200.18 175.60)" stroke="#231f20" stroke-width="0.22">IL32</text>
<line x1="203.70" y1="178.20" x2="203.70" y2="181.60" stroke="#000" stroke-width="1.0"/>
<text x="205.80" y="175.60" font-size="6.2" text-anchor="start" font-style="italic" transform="rotate(-90 205.80 175.60)" stroke="#231f20" stroke-width="0.22">CD3E</text>
<line x1="209.31" y1="178.20" x2="209.31" y2="181.60" stroke="#000" stroke-width="1.0"/>
<text x="211.41" y="175.60" font-size="6.2" text-anchor="start" font-style="italic" transform="rotate(-90 211.41 175.60)" stroke="#231f20" stroke-width="0.22">SPOCK2</text>
<line x1="214.92" y1="178.20" x2="214.92" y2="181.60" stroke="#000" stroke-width="1.0"/>
<text x="217.02" y="175.60" font-size="6.2" text-anchor="start" font-style="italic" transform="rotate(-90 217.02 175.60)" stroke="#231f20" stroke-width="0.22">ITM2A</text>
<line x1="220.53" y1="178.20" x2="220.53" y2="181.60" stroke="#000" stroke-width="1.0"/>
<text x="222.63" y="175.60" font-size="6.2" text-anchor="start" font-style="italic" transform="rotate(-90 222.63 175.60)" stroke="#231f20" stroke-width="0.22">SERPINA1</text>
<line x1="226.14" y1="178.20" x2="226.14" y2="181.60" stroke="#000" stroke-width="1.0"/>
<text x="228.24" y="175.60" font-size="6.2" text-anchor="start" font-style="italic" transform="rotate(-90 228.24 175.60)" stroke="#231f20" stroke-width="0.22">SLC11A1</text>
<line x1="231.75" y1="178.20" x2="231.75" y2="181.60" stroke="#000" stroke-width="1.0"/>
<text x="233.85" y="175.60" font-size="6.2" text-anchor="start" font-style="italic" transform="rotate(-90 233.85 175.60)" stroke="#231f20" stroke-width="0.22">SOD2</text>
<line x1="237.37" y1="178.20" x2="237.37" y2="181.60" stroke="#000" stroke-width="1.0"/>
<text x="239.47" y="175.60" font-size="6.2" text-anchor="start" font-style="italic" transform="rotate(-90 239.47 175.60)" stroke="#231f20" stroke-width="0.22">OLR1</text>
<line x1="242.98" y1="178.20" x2="242.98" y2="181.60" stroke="#000" stroke-width="1.0"/>
<text x="245.08" y="175.60" font-size="6.2" text-anchor="start" font-style="italic" transform="rotate(-90 245.08 175.60)" stroke="#231f20" stroke-width="0.22">TMEM52B</text>
<line x1="248.59" y1="178.20" x2="248.59" y2="181.60" stroke="#000" stroke-width="1.0"/>
<text x="250.69" y="175.60" font-size="6.2" text-anchor="start" font-style="italic" transform="rotate(-90 250.69 175.60)" stroke="#231f20" stroke-width="0.22">FCGR3B</text>
<line x1="254.20" y1="178.20" x2="254.20" y2="181.60" stroke="#000" stroke-width="1.0"/>
<text x="256.30" y="175.60" font-size="6.2" text-anchor="start" font-style="italic" transform="rotate(-90 256.30 175.60)" stroke="#231f20" stroke-width="0.22">BCL2A1</text>
<line x1="259.81" y1="178.20" x2="259.81" y2="181.60" stroke="#000" stroke-width="1.0"/>
<text x="261.91" y="175.60" font-size="6.2" text-anchor="start" font-style="italic" transform="rotate(-90 261.91 175.60)" stroke="#231f20" stroke-width="0.22">C5AR1</text>
<line x1="265.42" y1="178.20" x2="265.42" y2="181.60" stroke="#000" stroke-width="1.0"/>
<text x="267.52" y="175.60" font-size="6.2" text-anchor="start" font-style="italic" transform="rotate(-90 267.52 175.60)" stroke="#231f20" stroke-width="0.22">CSF3R</text>
<line x1="271.04" y1="178.20" x2="271.04" y2="181.60" stroke="#000" stroke-width="1.0"/>
<text x="273.14" y="175.60" font-size="6.2" text-anchor="start" font-style="italic" transform="rotate(-90 273.14 175.60)" stroke="#231f20" stroke-width="0.22">SOD2</text>
<line x1="276.65" y1="178.20" x2="276.65" y2="181.60" stroke="#000" stroke-width="1.0"/>
<text x="278.75" y="175.60" font-size="6.2" text-anchor="start" font-style="italic" transform="rotate(-90 278.75 175.60)" stroke="#231f20" stroke-width="0.22">POLB</text>
<line x1="282.26" y1="178.20" x2="282.26" y2="181.60" stroke="#000" stroke-width="1.0"/>
<text x="284.36" y="175.60" font-size="6.2" text-anchor="start" font-style="italic" transform="rotate(-90 284.36 175.60)" stroke="#231f20" stroke-width="0.22">C12orf75</text>
<line x1="287.87" y1="178.20" x2="287.87" y2="181.60" stroke="#000" stroke-width="1.0"/>
<text x="289.97" y="175.60" font-size="6.2" text-anchor="start" font-style="italic" transform="rotate(-90 289.97 175.60)" stroke="#231f20" stroke-width="0.22">PLAC8</text>
<line x1="293.48" y1="178.20" x2="293.48" y2="181.60" stroke="#000" stroke-width="1.0"/>
<text x="295.58" y="175.60" font-size="6.2" text-anchor="start" font-style="italic" transform="rotate(-90 295.58 175.60)" stroke="#231f20" stroke-width="0.22">SLC15A4</text>
<line x1="299.09" y1="178.20" x2="299.09" y2="181.60" stroke="#000" stroke-width="1.0"/>
<text x="301.19" y="175.60" font-size="6.2" text-anchor="start" font-style="italic" transform="rotate(-90 301.19 175.60)" stroke="#231f20" stroke-width="0.22">PLD4</text>
<text x="235.00" y="348.00" font-size="7.4" text-anchor="end">Expression</text>
<rect x="239.40" y="340.00" width="62.60" height="7.20" fill="url(#gC)" stroke="#000" stroke-width="0.9"/>
<line x1="239.40" y1="347.20" x2="239.40" y2="350.40" stroke="#000" stroke-width="0.9"/>
<text x="239.40" y="359.60" font-size="7.3" text-anchor="middle" textLength="12.1" lengthAdjust="spacingAndGlyphs">0.0</text>
<line x1="255.05" y1="347.20" x2="255.05" y2="350.40" stroke="#000" stroke-width="0.9"/>
<text x="255.05" y="359.60" font-size="7.3" text-anchor="middle" textLength="12.1" lengthAdjust="spacingAndGlyphs">0.5</text>
<line x1="270.70" y1="347.20" x2="270.70" y2="350.40" stroke="#000" stroke-width="0.9"/>
<text x="270.70" y="359.60" font-size="7.3" text-anchor="middle" textLength="12.1" lengthAdjust="spacingAndGlyphs">1.0</text>
<line x1="286.35" y1="347.20" x2="286.35" y2="350.40" stroke="#000" stroke-width="0.9"/>
<text x="286.35" y="359.60" font-size="7.3" text-anchor="middle" textLength="12.1" lengthAdjust="spacingAndGlyphs">1.5</text>
<line x1="302.00" y1="347.20" x2="302.00" y2="350.40" stroke="#000" stroke-width="0.9"/>
<text x="302.00" y="359.60" font-size="7.3" text-anchor="middle" textLength="12.1" lengthAdjust="spacingAndGlyphs">2.0</text>
<line x1="353.30" y1="179.60" x2="353.30" y2="242.50" stroke="#000" stroke-width="1.1"/>
<line x1="352.80" y1="242.00" x2="406.20" y2="242.00" stroke="#000" stroke-width="1.1"/>
<line x1="350.50" y1="240.20" x2="353.30" y2="240.20" stroke="#000" stroke-width="0.9"/>
<text x="347.40" y="242.80" font-size="7.2" text-anchor="end" textLength="11.3" lengthAdjust="spacingAndGlyphs">0.0</text>
<line x1="350.50" y1="227.95" x2="353.30" y2="227.95" stroke="#000" stroke-width="0.9"/>
<text x="347.40" y="230.55" font-size="7.2" text-anchor="end" textLength="11.3" lengthAdjust="spacingAndGlyphs">0.5</text>
<line x1="350.50" y1="215.70" x2="353.30" y2="215.70" stroke="#000" stroke-width="0.9"/>
<text x="347.40" y="218.30" font-size="7.2" text-anchor="end" textLength="11.3" lengthAdjust="spacingAndGlyphs">1.0</text>
<line x1="350.50" y1="203.45" x2="353.30" y2="203.45" stroke="#000" stroke-width="0.9"/>
<text x="347.40" y="206.05" font-size="7.2" text-anchor="end" textLength="11.3" lengthAdjust="spacingAndGlyphs">1.5</text>
<line x1="350.50" y1="191.20" x2="353.30" y2="191.20" stroke="#000" stroke-width="0.9"/>
<text x="347.40" y="193.80" font-size="7.2" text-anchor="end" textLength="11.3" lengthAdjust="spacingAndGlyphs">2.0</text>
<line x1="361.00" y1="242.00" x2="361.00" y2="244.60" stroke="#000" stroke-width="0.9"/>
<line x1="373.60" y1="242.00" x2="373.60" y2="244.60" stroke="#000" stroke-width="0.9"/>
<line x1="386.10" y1="242.00" x2="386.10" y2="244.60" stroke="#000" stroke-width="0.9"/>
<line x1="398.70" y1="242.00" x2="398.70" y2="244.60" stroke="#000" stroke-width="0.9"/>
<line x1="361.00" y1="212.02" x2="361.00" y2="194.38" stroke="#222" stroke-width="1.0"/>
<rect x="356.25" y="212.02" width="9.50" height="28.17" fill="#c8102e" stroke="#000" stroke-width="0.8"/>
<line x1="356.25" y1="230.40" x2="365.75" y2="230.40" stroke="#000" stroke-width="1.2"/>
<line x1="373.60" y1="232.85" x2="373.60" y2="222.80" stroke="#222" stroke-width="1.0"/>
<rect x="368.85" y="232.85" width="9.50" height="7.35" fill="#1f5a96" stroke="#000" stroke-width="0.8"/>
<line x1="368.85" y1="240.20" x2="378.35" y2="240.20" stroke="#000" stroke-width="1.2"/>
<circle cx="373.60" cy="221.09" r="0.85" fill="#000"/>
<circle cx="373.60" cy="217.66" r="0.85" fill="#000"/>
<circle cx="373.60" cy="213.98" r="0.85" fill="#000"/>
<circle cx="373.60" cy="206.39" r="0.85" fill="#000"/>
<circle cx="373.60" cy="205.41" r="0.85" fill="#000"/>
<line x1="386.10" y1="232.85" x2="386.10" y2="225.50" stroke="#222" stroke-width="1.0"/>
<rect x="381.35" y="232.85" width="9.50" height="7.35" fill="#3cb44b" stroke="#000" stroke-width="0.8"/>
<line x1="381.35" y1="240.20" x2="390.85" y2="240.20" stroke="#000" stroke-width="1.2"/>
<circle cx="386.10" cy="205.16" r="0.85" fill="#000"/>
<line x1="393.95" y1="240.20" x2="403.45" y2="240.20" stroke="#000" stroke-width="1.2"/>
<circle cx="398.70" cy="233.09" r="0.85" fill="#000"/>
<circle cx="398.70" cy="228.69" r="0.85" fill="#000"/>
<circle cx="398.70" cy="221.09" r="0.85" fill="#000"/>
<circle cx="398.70" cy="219.62" r="0.85" fill="#000"/>
<circle cx="398.70" cy="215.70" r="0.85" fill="#000"/>
<circle cx="398.70" cy="197.81" r="0.85" fill="#000"/>
<line x1="360.70" y1="191.30" x2="374.00" y2="191.30" stroke="#3a3a3a" stroke-width="1.0"/>
<text x="369.60" y="192.50" font-size="7.8" text-anchor="middle" fill="#111">***</text>
<line x1="360.70" y1="186.70" x2="386.30" y2="186.70" stroke="#3a3a3a" stroke-width="1.0"/>
<text x="375.60" y="187.90" font-size="7.8" text-anchor="middle" fill="#111">***</text>
<line x1="360.70" y1="182.30" x2="398.70" y2="182.30" stroke="#3a3a3a" stroke-width="1.0"/>
<text x="381.20" y="183.50" font-size="7.8" text-anchor="middle" fill="#111">***</text>
<text x="380.50" y="174.60" font-size="7.9" text-anchor="middle" font-style="italic" textLength="27.3" lengthAdjust="spacingAndGlyphs">MAPK9</text>
<line x1="430.80" y1="179.60" x2="430.80" y2="242.80" stroke="#000" stroke-width="1.1"/>
<line x1="430.30" y1="242.30" x2="483.60" y2="242.30" stroke="#000" stroke-width="1.1"/>
<line x1="428.00" y1="240.40" x2="430.80" y2="240.40" stroke="#000" stroke-width="0.9"/>
<text x="424.90" y="243.00" font-size="7.2" text-anchor="end" textLength="11.3" lengthAdjust="spacingAndGlyphs">0.0</text>
<line x1="428.00" y1="230.20" x2="430.80" y2="230.20" stroke="#000" stroke-width="0.9"/>
<text x="424.90" y="232.80" font-size="7.2" text-anchor="end" textLength="11.3" lengthAdjust="spacingAndGlyphs">0.5</text>
<line x1="428.00" y1="220.00" x2="430.80" y2="220.00" stroke="#000" stroke-width="0.9"/>
<text x="424.90" y="222.60" font-size="7.2" text-anchor="end" textLength="11.3" lengthAdjust="spacingAndGlyphs">1.0</text>
<line x1="428.00" y1="209.80" x2="430.80" y2="209.80" stroke="#000" stroke-width="0.9"/>
<text x="424.90" y="212.40" font-size="7.2" text-anchor="end" textLength="11.3" lengthAdjust="spacingAndGlyphs">1.5</text>
<line x1="428.00" y1="199.60" x2="430.80" y2="199.60" stroke="#000" stroke-width="0.9"/>
<text x="424.90" y="202.20" font-size="7.2" text-anchor="end" textLength="11.3" lengthAdjust="spacingAndGlyphs">2.0</text>
<line x1="428.00" y1="189.40" x2="430.80" y2="189.40" stroke="#000" stroke-width="0.9"/>
<text x="424.90" y="192.00" font-size="7.2" text-anchor="end" textLength="11.3" lengthAdjust="spacingAndGlyphs">2.5</text>
<line x1="438.10" y1="242.30" x2="438.10" y2="244.90" stroke="#000" stroke-width="0.9"/>
<line x1="450.80" y1="242.30" x2="450.80" y2="244.90" stroke="#000" stroke-width="0.9"/>
<line x1="463.20" y1="242.30" x2="463.20" y2="244.90" stroke="#000" stroke-width="0.9"/>
<line x1="476.00" y1="242.30" x2="476.00" y2="244.90" stroke="#000" stroke-width="0.9"/>
<line x1="438.10" y1="225.71" x2="438.10" y2="203.27" stroke="#222" stroke-width="1.0"/>
<rect x="433.35" y="225.71" width="9.50" height="14.69" fill="#c8102e" stroke="#000" stroke-width="0.8"/>
<line x1="433.35" y1="234.28" x2="442.85" y2="234.28" stroke="#000" stroke-width="1.2"/>
<circle cx="438.10" cy="198.58" r="0.85" fill="#000"/>
<circle cx="438.10" cy="195.52" r="0.85" fill="#000"/>
<circle cx="438.10" cy="193.48" r="0.85" fill="#000"/>
<line x1="450.80" y1="234.28" x2="450.80" y2="228.16" stroke="#222" stroke-width="1.0"/>
<rect x="446.05" y="234.28" width="9.50" height="6.12" fill="#1f5a96" stroke="#000" stroke-width="0.8"/>
<line x1="446.05" y1="240.40" x2="455.55" y2="240.40" stroke="#000" stroke-width="1.2"/>
<circle cx="450.80" cy="224.08" r="0.85" fill="#000"/>
<circle cx="450.80" cy="223.06" r="0.85" fill="#000"/>
<circle cx="450.80" cy="222.04" r="0.85" fill="#000"/>
<circle cx="450.80" cy="221.02" r="0.85" fill="#000"/>
<circle cx="450.80" cy="220.00" r="0.85" fill="#000"/>
<circle cx="450.80" cy="218.98" r="0.85" fill="#000"/>
<circle cx="450.80" cy="217.96" r="0.85" fill="#000"/>
<circle cx="450.80" cy="216.94" r="0.85" fill="#000"/>
<circle cx="450.80" cy="215.92" r="0.85" fill="#000"/>
<circle cx="450.80" cy="209.80" r="0.85" fill="#000"/>
<circle cx="450.80" cy="203.68" r="0.85" fill="#000"/>
<circle cx="450.80" cy="200.62" r="0.85" fill="#000"/>
<circle cx="450.80" cy="198.58" r="0.85" fill="#000"/>
<line x1="463.20" y1="234.28" x2="463.20" y2="228.16" stroke="#222" stroke-width="1.0"/>
<rect x="458.45" y="234.28" width="9.50" height="6.12" fill="#3cb44b" stroke="#000" stroke-width="0.8"/>
<line x1="458.45" y1="240.40" x2="467.95" y2="240.40" stroke="#000" stroke-width="1.2"/>
<circle cx="463.20" cy="224.49" r="0.85" fill="#000"/>
<line x1="476.00" y1="235.71" x2="476.00" y2="230.81" stroke="#222" stroke-width="1.0"/>
<rect x="471.25" y="235.71" width="9.50" height="4.69" fill="#6a2c8f" stroke="#000" stroke-width="0.8"/>
<line x1="471.25" y1="240.40" x2="480.75" y2="240.40" stroke="#000" stroke-width="1.2"/>
<circle cx="476.00" cy="228.16" r="0.85" fill="#000"/>
<circle cx="476.00" cy="227.14" r="0.85" fill="#000"/>
<circle cx="476.00" cy="226.12" r="0.85" fill="#000"/>
<circle cx="476.00" cy="225.10" r="0.85" fill="#000"/>
<circle cx="476.00" cy="224.08" r="0.85" fill="#000"/>
<circle cx="476.00" cy="223.06" r="0.85" fill="#000"/>
<circle cx="476.00" cy="222.04" r="0.85" fill="#000"/>
<circle cx="476.00" cy="220.00" r="0.85" fill="#000"/>
<circle cx="476.00" cy="217.96" r="0.85" fill="#000"/>
<circle cx="476.00" cy="215.92" r="0.85" fill="#000"/>
<circle cx="476.00" cy="213.88" r="0.85" fill="#000"/>
<circle cx="476.00" cy="211.84" r="0.85" fill="#000"/>
<circle cx="476.00" cy="210.82" r="0.85" fill="#000"/>
<circle cx="476.00" cy="199.60" r="0.85" fill="#000"/>
<line x1="438.10" y1="191.30" x2="450.80" y2="191.30" stroke="#3a3a3a" stroke-width="1.0"/>
<text x="444.50" y="192.50" font-size="7.8" text-anchor="middle" fill="#111">**</text>
<line x1="438.10" y1="186.60" x2="463.20" y2="186.60" stroke="#3a3a3a" stroke-width="1.0"/>
<text x="450.50" y="187.80" font-size="7.8" text-anchor="middle" fill="#111">***</text>
<line x1="438.10" y1="181.80" x2="476.00" y2="181.80" stroke="#3a3a3a" stroke-width="1.0"/>
<text x="457.00" y="183.00" font-size="7.8" text-anchor="middle" fill="#111">***</text>
<text x="457.60" y="176.40" font-size="7.9" text-anchor="middle" font-style="italic" textLength="19.6" lengthAdjust="spacingAndGlyphs">JAK2</text>
<line x1="353.60" y1="260.00" x2="353.60" y2="322.50" stroke="#000" stroke-width="1.1"/>
<line x1="353.10" y1="322.00" x2="405.70" y2="322.00" stroke="#000" stroke-width="1.1"/>
<line x1="350.80" y1="320.10" x2="353.60" y2="320.10" stroke="#000" stroke-width="0.9"/>
<text x="347.70" y="322.70" font-size="7.2" text-anchor="end" textLength="11.3" lengthAdjust="spacingAndGlyphs">0.0</text>
<line x1="350.80" y1="308.60" x2="353.60" y2="308.60" stroke="#000" stroke-width="0.9"/>
<text x="347.70" y="311.20" font-size="7.2" text-anchor="end" textLength="11.3" lengthAdjust="spacingAndGlyphs">0.5</text>
<line x1="350.80" y1="297.10" x2="353.60" y2="297.10" stroke="#000" stroke-width="0.9"/>
<text x="347.70" y="299.70" font-size="7.2" text-anchor="end" textLength="11.3" lengthAdjust="spacingAndGlyphs">1.0</text>
<line x1="350.80" y1="285.60" x2="353.60" y2="285.60" stroke="#000" stroke-width="0.9"/>
<text x="347.70" y="288.20" font-size="7.2" text-anchor="end" textLength="11.3" lengthAdjust="spacingAndGlyphs">1.5</text>
<line x1="350.80" y1="274.10" x2="353.60" y2="274.10" stroke="#000" stroke-width="0.9"/>
<text x="347.70" y="276.70" font-size="7.2" text-anchor="end" textLength="11.3" lengthAdjust="spacingAndGlyphs">2.0</text>
<line x1="361.00" y1="322.00" x2="361.00" y2="324.60" stroke="#000" stroke-width="0.9"/>
<line x1="373.60" y1="322.00" x2="373.60" y2="324.60" stroke="#000" stroke-width="0.9"/>
<line x1="386.10" y1="322.00" x2="386.10" y2="324.60" stroke="#000" stroke-width="0.9"/>
<line x1="398.70" y1="322.00" x2="398.70" y2="324.60" stroke="#000" stroke-width="0.9"/>
<line x1="361.00" y1="293.19" x2="361.00" y2="274.10" stroke="#222" stroke-width="1.0"/>
<line x1="361.00" y1="314.81" x2="361.00" y2="319.41" stroke="#222" stroke-width="1.0"/>
<rect x="356.25" y="293.19" width="9.50" height="21.62" fill="#c8102e" stroke="#000" stroke-width="0.8"/>
<line x1="356.25" y1="306.30" x2="365.75" y2="306.30" stroke="#000" stroke-width="1.2"/>
<line x1="368.85" y1="320.10" x2="378.35" y2="320.10" stroke="#000" stroke-width="1.2"/>
<circle cx="373.60" cy="313.20" r="0.85" fill="#000"/>
<circle cx="373.60" cy="309.75" r="0.85" fill="#000"/>
<circle cx="373.60" cy="307.45" r="0.85" fill="#000"/>
<circle cx="373.60" cy="305.84" r="0.85" fill="#000"/>
<circle cx="373.60" cy="304.00" r="0.85" fill="#000"/>
<circle cx="373.60" cy="302.16" r="0.85" fill="#000"/>
<circle cx="373.60" cy="300.55" r="0.85" fill="#000"/>
<circle cx="373.60" cy="298.25" r="0.85" fill="#000"/>
<circle cx="373.60" cy="295.95" r="0.85" fill="#000"/>
<circle cx="373.60" cy="293.65" r="0.85" fill="#000"/>
<circle cx="373.60" cy="290.20" r="0.85" fill="#000"/>
<line x1="386.10" y1="309.29" x2="386.10" y2="298.25" stroke="#222" stroke-width="1.0"/>
<rect x="381.35" y="309.29" width="9.50" height="10.81" fill="#3cb44b" stroke="#000" stroke-width="0.8"/>
<line x1="381.35" y1="320.10" x2="390.85" y2="320.10" stroke="#000" stroke-width="1.2"/>
<circle cx="386.10" cy="290.20" r="0.85" fill="#000"/>
<circle cx="386.10" cy="278.24" r="0.85" fill="#000"/>
<line x1="393.95" y1="320.10" x2="403.45" y2="320.10" stroke="#000" stroke-width="1.2"/>
<circle cx="398.70" cy="313.20" r="0.85" fill="#000"/>
<circle cx="398.70" cy="308.60" r="0.85" fill="#000"/>
<circle cx="398.70" cy="306.30" r="0.85" fill="#000"/>
<circle cx="398.70" cy="304.00" r="0.85" fill="#000"/>
<circle cx="398.70" cy="302.85" r="0.85" fill="#000"/>
<circle cx="398.70" cy="301.70" r="0.85" fill="#000"/>
<circle cx="398.70" cy="300.55" r="0.85" fill="#000"/>
<circle cx="398.70" cy="299.40" r="0.85" fill="#000"/>
<circle cx="398.70" cy="298.25" r="0.85" fill="#000"/>
<circle cx="398.70" cy="285.60" r="0.85" fill="#000"/>
<circle cx="398.70" cy="278.01" r="0.85" fill="#000"/>
<line x1="360.90" y1="271.30" x2="373.60" y2="271.30" stroke="#3a3a3a" stroke-width="1.0"/>
<text x="368.00" y="272.50" font-size="7.8" text-anchor="middle" fill="#111">***</text>
<line x1="360.90" y1="266.60" x2="386.30" y2="266.60" stroke="#3a3a3a" stroke-width="1.0"/>
<text x="375.50" y="267.80" font-size="7.8" text-anchor="middle" fill="#111">***</text>
<line x1="360.90" y1="261.80" x2="398.80" y2="261.80" stroke="#3a3a3a" stroke-width="1.0"/>
<text x="381.50" y="263.00" font-size="7.8" text-anchor="middle" fill="#111">***</text>
<text x="380.10" y="256.40" font-size="7.9" text-anchor="middle" font-style="italic" textLength="28.4" lengthAdjust="spacingAndGlyphs">MAPK14</text>
<line x1="430.80" y1="260.00" x2="430.80" y2="322.50" stroke="#000" stroke-width="1.1"/>
<line x1="430.30" y1="322.00" x2="482.90" y2="322.00" stroke="#000" stroke-width="1.1"/>
<line x1="428.00" y1="320.10" x2="430.80" y2="320.10" stroke="#000" stroke-width="0.9"/>
<text x="424.90" y="322.70" font-size="7.2" text-anchor="end" textLength="11.3" lengthAdjust="spacingAndGlyphs">0.0</text>
<line x1="428.00" y1="308.85" x2="430.80" y2="308.85" stroke="#000" stroke-width="0.9"/>
<text x="424.90" y="311.45" font-size="7.2" text-anchor="end" textLength="11.3" lengthAdjust="spacingAndGlyphs">0.5</text>
<line x1="428.00" y1="297.60" x2="430.80" y2="297.60" stroke="#000" stroke-width="0.9"/>
<text x="424.90" y="300.20" font-size="7.2" text-anchor="end" textLength="11.3" lengthAdjust="spacingAndGlyphs">1.0</text>
<line x1="428.00" y1="286.35" x2="430.80" y2="286.35" stroke="#000" stroke-width="0.9"/>
<text x="424.90" y="288.95" font-size="7.2" text-anchor="end" textLength="11.3" lengthAdjust="spacingAndGlyphs">1.5</text>
<line x1="428.00" y1="275.10" x2="430.80" y2="275.10" stroke="#000" stroke-width="0.9"/>
<text x="424.90" y="277.70" font-size="7.2" text-anchor="end" textLength="11.3" lengthAdjust="spacingAndGlyphs">2.0</text>
<line x1="438.10" y1="322.00" x2="438.10" y2="324.60" stroke="#000" stroke-width="0.9"/>
<line x1="450.80" y1="322.00" x2="450.80" y2="324.60" stroke="#000" stroke-width="0.9"/>
<line x1="463.20" y1="322.00" x2="463.20" y2="324.60" stroke="#000" stroke-width="0.9"/>
<line x1="476.00" y1="322.00" x2="476.00" y2="324.60" stroke="#000" stroke-width="0.9"/>
<line x1="438.10" y1="306.60" x2="438.10" y2="285.23" stroke="#222" stroke-width="1.0"/>
<rect x="433.35" y="306.60" width="9.50" height="13.50" fill="#c8102e" stroke="#000" stroke-width="0.8"/>
<line x1="433.35" y1="313.35" x2="442.85" y2="313.35" stroke="#000" stroke-width="1.2"/>
<circle cx="438.10" cy="282.30" r="0.85" fill="#000"/>
<circle cx="438.10" cy="273.53" r="0.85" fill="#000"/>
<line x1="446.05" y1="320.10" x2="455.55" y2="320.10" stroke="#000" stroke-width="1.2"/>
<circle cx="450.80" cy="313.35" r="0.85" fill="#000"/>
<circle cx="450.80" cy="309.30" r="0.85" fill="#000"/>
<circle cx="450.80" cy="294.00" r="0.85" fill="#000"/>
<circle cx="450.80" cy="289.05" r="0.85" fill="#000"/>
<circle cx="450.80" cy="284.33" r="0.85" fill="#000"/>
<circle cx="450.80" cy="283.20" r="0.85" fill="#000"/>
<line x1="463.20" y1="313.35" x2="463.20" y2="307.05" stroke="#222" stroke-width="1.0"/>
<rect x="458.45" y="313.35" width="9.50" height="6.75" fill="#3cb44b" stroke="#000" stroke-width="0.8"/>
<line x1="458.45" y1="320.10" x2="467.95" y2="320.10" stroke="#000" stroke-width="1.2"/>
<circle cx="463.20" cy="290.85" r="0.85" fill="#000"/>
<line x1="471.25" y1="320.10" x2="480.75" y2="320.10" stroke="#000" stroke-width="1.2"/>
<circle cx="476.00" cy="313.35" r="0.85" fill="#000"/>
<circle cx="476.00" cy="309.30" r="0.85" fill="#000"/>
<circle cx="476.00" cy="304.58" r="0.85" fill="#000"/>
<circle cx="476.00" cy="299.40" r="0.85" fill="#000"/>
<circle cx="476.00" cy="294.90" r="0.85" fill="#000"/>
<line x1="438.10" y1="271.30" x2="450.80" y2="271.30" stroke="#3a3a3a" stroke-width="1.0"/>
<text x="444.50" y="272.50" font-size="7.8" text-anchor="middle" fill="#111">***</text>
<line x1="438.10" y1="266.60" x2="463.20" y2="266.60" stroke="#3a3a3a" stroke-width="1.0"/>
<text x="450.50" y="267.80" font-size="7.8" text-anchor="middle" fill="#111">**</text>
<line x1="438.10" y1="261.80" x2="476.00" y2="261.80" stroke="#3a3a3a" stroke-width="1.0"/>
<text x="457.00" y="263.00" font-size="7.8" text-anchor="middle" fill="#111">***</text>
<text x="457.50" y="256.40" font-size="7.9" text-anchor="middle" font-style="italic" textLength="17.8" lengthAdjust="spacingAndGlyphs">RRAS</text>
<text x="328.60" y="251.20" font-size="7.8" text-anchor="middle" transform="rotate(-90 328.60 251.20)" textLength="35.6" lengthAdjust="spacingAndGlyphs">Expression</text>
<text x="364.90" y="331.30" font-size="8.0" text-anchor="end" transform="rotate(-45 364.90 331.30)">LC_1</text>
<text x="377.50" y="331.30" font-size="8.0" text-anchor="end" transform="rotate(-45 377.50 331.30)">LC_2</text>
<text x="390.00" y="331.30" font-size="8.0" text-anchor="end" transform="rotate(-45 390.00 331.30)">LC_0</text>
<text x="402.60" y="331.30" font-size="8.0" text-anchor="end" transform="rotate(-45 402.60 331.30)">LC_control</text>
<text x="442.00" y="331.30" font-size="8.0" text-anchor="end" transform="rotate(-45 442.00 331.30)">LC_1</text>
<text x="454.70" y="331.30" font-size="8.0" text-anchor="end" transform="rotate(-45 454.70 331.30)">LC_2</text>
<text x="467.10" y="331.30" font-size="8.0" text-anchor="end" transform="rotate(-45 467.10 331.30)">LC_0</text>
<text x="479.90" y="331.30" font-size="8.0" text-anchor="end" transform="rotate(-45 479.90 331.30)">LC_control</text>
<rect x="140.20" y="392.30" width="13.58" height="12.00" fill="#747474" stroke="#2a2a2a" stroke-width="0.7"/>
<rect x="153.78" y="392.30" width="13.58" height="12.00" fill="#747474" stroke="#2a2a2a" stroke-width="0.7"/>
<rect x="167.36" y="392.30" width="13.58" height="12.00" fill="#747474" stroke="#2a2a2a" stroke-width="0.7"/>
<rect x="180.94" y="392.30" width="13.58" height="12.00" fill="#f37a5a" stroke="#2a2a2a" stroke-width="0.7"/>
<rect x="194.52" y="392.30" width="13.58" height="12.00" fill="#fbbfa8" stroke="#2a2a2a" stroke-width="0.7"/>
<rect x="208.10" y="392.30" width="13.58" height="12.00" fill="#f47e5c" stroke="#2a2a2a" stroke-width="0.7"/>
<rect x="140.20" y="404.30" width="13.58" height="12.00" fill="#747474" stroke="#2a2a2a" stroke-width="0.7"/>
<rect x="153.78" y="404.30" width="13.58" height="12.00" fill="#fde8e0" stroke="#2a2a2a" stroke-width="0.7"/>
<rect x="167.36" y="404.30" width="13.58" height="12.00" fill="#fbc8b5" stroke="#2a2a2a" stroke-width="0.7"/>
<rect x="180.94" y="404.30" width="13.58" height="12.00" fill="#f4876a" stroke="#2a2a2a" stroke-width="0.7"/>
<rect x="194.52" y="404.30" width="13.58" height="12.00" fill="#fbc2ad" stroke="#2a2a2a" stroke-width="0.7"/>
<rect x="208.10" y="404.30" width="13.58" height="12.00" fill="#e8321e" stroke="#2a2a2a" stroke-width="0.7"/>
<rect x="140.20" y="416.30" width="13.58" height="12.00" fill="#747474" stroke="#2a2a2a" stroke-width="0.7"/>
<rect x="153.78" y="416.30" width="13.58" height="12.00" fill="#fdeee8" stroke="#2a2a2a" stroke-width="0.7"/>
<rect x="167.36" y="416.30" width="13.58" height="12.00" fill="#fde3d9" stroke="#2a2a2a" stroke-width="0.7"/>
<rect x="180.94" y="416.30" width="13.58" height="12.00" fill="#fbc1ad" stroke="#2a2a2a" stroke-width="0.7"/>
<rect x="194.52" y="416.30" width="13.58" height="12.00" fill="#fde8e0" stroke="#2a2a2a" stroke-width="0.7"/>
<rect x="208.10" y="416.30" width="13.58" height="12.00" fill="#f58a6c" stroke="#2a2a2a" stroke-width="0.7"/>
<rect x="140.20" y="428.30" width="13.58" height="12.00" fill="#747474" stroke="#2a2a2a" stroke-width="0.7"/>
<rect x="153.78" y="428.30" width="13.58" height="12.00" fill="#747474" stroke="#2a2a2a" stroke-width="0.7"/>
<rect x="167.36" y="428.30" width="13.58" height="12.00" fill="#fde9e1" stroke="#2a2a2a" stroke-width="0.7"/>
<rect x="180.94" y="428.30" width="13.58" height="12.00" fill="#f9a68c" stroke="#2a2a2a" stroke-width="0.7"/>
<rect x="194.52" y="428.30" width="13.58" height="12.00" fill="#fbc8b6" stroke="#2a2a2a" stroke-width="0.7"/>
<rect x="208.10" y="428.30" width="13.58" height="12.00" fill="#f06a4a" stroke="#2a2a2a" stroke-width="0.7"/>
<rect x="140.20" y="440.30" width="13.58" height="12.00" fill="#747474" stroke="#2a2a2a" stroke-width="0.7"/>
<rect x="153.78" y="440.30" width="13.58" height="12.00" fill="#747474" stroke="#2a2a2a" stroke-width="0.7"/>
<rect x="167.36" y="440.30" width="13.58" height="12.00" fill="#747474" stroke="#2a2a2a" stroke-width="0.7"/>
<rect x="180.94" y="440.30" width="13.58" height="12.00" fill="#ee4a30" stroke="#2a2a2a" stroke-width="0.7"/>
<rect x="194.52" y="440.30" width="13.58" height="12.00" fill="#f48a6c" stroke="#2a2a2a" stroke-width="0.7"/>
<rect x="208.10" y="440.30" width="13.58" height="12.00" fill="#f47e5e" stroke="#2a2a2a" stroke-width="0.7"/>
<rect x="140.20" y="452.30" width="13.58" height="12.00" fill="#747474" stroke="#2a2a2a" stroke-width="0.7"/>
<rect x="153.78" y="452.30" width="13.58" height="12.00" fill="#747474" stroke="#2a2a2a" stroke-width="0.7"/>
<rect x="167.36" y="452.30" width="13.58" height="12.00" fill="#747474" stroke="#2a2a2a" stroke-width="0.7"/>
<rect x="180.94" y="452.30" width="13.58" height="12.00" fill="#fcd2c2" stroke="#2a2a2a" stroke-width="0.7"/>
<rect x="194.52" y="452.30" width="13.58" height="12.00" fill="#fdebe2" stroke="#2a2a2a" stroke-width="0.7"/>
<rect x="208.10" y="452.30" width="13.58" height="12.00" fill="#f9a286" stroke="#2a2a2a" stroke-width="0.7"/>
<rect x="140.20" y="464.30" width="13.58" height="12.00" fill="#747474" stroke="#2a2a2a" stroke-width="0.7"/>
<rect x="153.78" y="464.30" width="13.58" height="12.00" fill="#747474" stroke="#2a2a2a" stroke-width="0.7"/>
<rect x="167.36" y="464.30" width="13.58" height="12.00" fill="#fdd9cb" stroke="#2a2a2a" stroke-width="0.7"/>
<rect x="180.94" y="464.30" width="13.58" height="12.00" fill="#f47d60" stroke="#2a2a2a" stroke-width="0.7"/>
<rect x="194.52" y="464.30" width="13.58" height="12.00" fill="#fccab9" stroke="#2a2a2a" stroke-width="0.7"/>
<rect x="208.10" y="464.30" width="13.58" height="12.00" fill="#ef5237" stroke="#2a2a2a" stroke-width="0.7"/>
<rect x="140.20" y="476.30" width="13.58" height="12.00" fill="#747474" stroke="#2a2a2a" stroke-width="0.7"/>
<rect x="153.78" y="476.30" width="13.58" height="12.00" fill="#747474" stroke="#2a2a2a" stroke-width="0.7"/>
<rect x="167.36" y="476.30" width="13.58" height="12.00" fill="#747474" stroke="#2a2a2a" stroke-width="0.7"/>
<rect x="180.94" y="476.30" width="13.58" height="12.00" fill="#fcc8b5" stroke="#2a2a2a" stroke-width="0.7"/>
<rect x="194.52" y="476.30" width="13.58" height="12.00" fill="#fbc2ae" stroke="#2a2a2a" stroke-width="0.7"/>
<rect x="208.10" y="476.30" width="13.58" height="12.00" fill="#f8987a" stroke="#2a2a2a" stroke-width="0.7"/>
<rect x="140.20" y="488.30" width="13.58" height="12.00" fill="#747474" stroke="#2a2a2a" stroke-width="0.7"/>
<rect x="153.78" y="488.30" width="13.58" height="12.00" fill="#747474" stroke="#2a2a2a" stroke-width="0.7"/>
<rect x="167.36" y="488.30" width="13.58" height="12.00" fill="#747474" stroke="#2a2a2a" stroke-width="0.7"/>
<rect x="180.94" y="488.30" width="13.58" height="12.00" fill="#ec3a28" stroke="#2a2a2a" stroke-width="0.7"/>
<rect x="194.52" y="488.30" width="13.58" height="12.00" fill="#f58a6e" stroke="#2a2a2a" stroke-width="0.7"/>
<rect x="208.10" y="488.30" width="13.58" height="12.00" fill="#e8221e" stroke="#2a2a2a" stroke-width="0.7"/>
<rect x="140.20" y="500.30" width="13.58" height="12.00" fill="#747474" stroke="#2a2a2a" stroke-width="0.7"/>
<rect x="153.78" y="500.30" width="13.58" height="12.00" fill="#747474" stroke="#2a2a2a" stroke-width="0.7"/>
<rect x="167.36" y="500.30" width="13.58" height="12.00" fill="#747474" stroke="#2a2a2a" stroke-width="0.7"/>
<rect x="180.94" y="500.30" width="13.58" height="12.00" fill="#f9ae94" stroke="#2a2a2a" stroke-width="0.7"/>
<rect x="194.52" y="500.30" width="13.58" height="12.00" fill="#f9a385" stroke="#2a2a2a" stroke-width="0.7"/>
<rect x="208.10" y="500.30" width="13.58" height="12.00" fill="#f7977a" stroke="#2a2a2a" stroke-width="0.7"/>
<line x1="137.80" y1="388.90" x2="137.80" y2="514.80" stroke="#000" stroke-width="1.1"/>
<line x1="137.30" y1="514.30" x2="223.00" y2="514.30" stroke="#000" stroke-width="1.1"/>
<line x1="134.60" y1="396.60" x2="137.80" y2="396.60" stroke="#000" stroke-width="0.9"/>
<text x="132.00" y="398.40" font-size="8.1" text-anchor="end" textLength="61.6" lengthAdjust="spacingAndGlyphs">Signalling to RAS</text>
<line x1="134.60" y1="408.92" x2="137.80" y2="408.92" stroke="#000" stroke-width="0.9"/>
<text x="132.00" y="410.72" font-size="8.1" text-anchor="end" textLength="93.9" lengthAdjust="spacingAndGlyphs">Signalling by RAS mutants</text>
<line x1="134.60" y1="421.24" x2="137.80" y2="421.24" stroke="#000" stroke-width="0.9"/>
<text x="132.00" y="423.04" font-size="8.1" text-anchor="end" textLength="127.6" lengthAdjust="spacingAndGlyphs">Signalling by BRAF and RAF fusions</text>
<line x1="134.60" y1="433.56" x2="137.80" y2="433.56" stroke="#000" stroke-width="0.9"/>
<text x="132.00" y="435.36" font-size="8.1" text-anchor="end" textLength="95.2" lengthAdjust="spacingAndGlyphs">Regulation of RAS by gaps</text>
<line x1="134.60" y1="445.88" x2="137.80" y2="445.88" stroke="#000" stroke-width="0.9"/>
<text x="132.00" y="447.68" font-size="8.1" text-anchor="end" textLength="110.1" lengthAdjust="spacingAndGlyphs">Ras protein signal transduction</text>
<line x1="134.60" y1="458.20" x2="137.80" y2="458.20" stroke="#000" stroke-width="0.9"/>
<text x="132.00" y="460.00" font-size="8.1" text-anchor="end" textLength="51.6" lengthAdjust="spacingAndGlyphs">RAF activation</text>
<line x1="134.60" y1="470.52" x2="137.80" y2="470.52" stroke="#000" stroke-width="0.9"/>
<text x="132.00" y="472.32" font-size="8.1" text-anchor="end" textLength="99.6" lengthAdjust="spacingAndGlyphs">Oncogenic MAPK signalling</text>
<line x1="134.60" y1="482.84" x2="137.80" y2="482.84" stroke="#000" stroke-width="0.9"/>
<text x="132.00" y="484.64" font-size="8.1" text-anchor="end" textLength="87.2" lengthAdjust="spacingAndGlyphs">Mapk6 mapk4 signalling</text>
<line x1="134.60" y1="495.16" x2="137.80" y2="495.16" stroke="#000" stroke-width="0.9"/>
<text x="132.00" y="496.96" font-size="8.1" text-anchor="end" textLength="90.7" lengthAdjust="spacingAndGlyphs">MAPK signalling pathway</text>
<line x1="134.60" y1="507.48" x2="137.80" y2="507.48" stroke="#000" stroke-width="0.9"/>
<text x="132.00" y="509.28" font-size="8.1" text-anchor="end" textLength="115.7" lengthAdjust="spacingAndGlyphs">MAPK family signalling cascades</text>
<line x1="145.80" y1="514.30" x2="145.80" y2="517.80" stroke="#000" stroke-width="0.9"/>
<text x="148.80" y="526.60" font-size="7.35" text-anchor="end" transform="rotate(-45 148.80 526.60)">LC_0 vs LC_2</text>
<line x1="159.54" y1="514.30" x2="159.54" y2="517.80" stroke="#000" stroke-width="0.9"/>
<text x="162.54" y="526.60" font-size="7.35" text-anchor="end" transform="rotate(-45 162.54 526.60)">LC_control vs LC_2</text>
<line x1="173.28" y1="514.30" x2="173.28" y2="517.80" stroke="#000" stroke-width="0.9"/>
<text x="176.28" y="526.60" font-size="7.35" text-anchor="end" transform="rotate(-45 176.28 526.60)">LC_control vs LC_0</text>
<line x1="187.02" y1="514.30" x2="187.02" y2="517.80" stroke="#000" stroke-width="0.9"/>
<text x="190.02" y="526.60" font-size="7.35" text-anchor="end" transform="rotate(-45 190.02 526.60)">LC_2 vs LC_1</text>
<line x1="200.76" y1="514.30" x2="200.76" y2="517.80" stroke="#000" stroke-width="0.9"/>
<text x="203.76" y="526.60" font-size="7.35" text-anchor="end" transform="rotate(-45 203.76 526.60)">LC_0 vs LC_1</text>
<line x1="214.50" y1="514.30" x2="214.50" y2="517.80" stroke="#000" stroke-width="0.9"/>
<text x="217.50" y="526.60" font-size="7.35" text-anchor="end" transform="rotate(-45 217.50 526.60)">LC_control vs LC_1</text>
<text x="231.60" y="421.00" font-size="7.6" text-anchor="start" font-style="italic">P</text>
<text x="238.40" y="421.00" font-size="7.3" text-anchor="start">value</text>
<rect x="230.60" y="424.80" width="10.50" height="4.70" fill="#868686"/>
<text x="244.10" y="428.60" font-size="7.2" text-anchor="start">ns</text>
<defs><linearGradient id="gE" x1="0" y1="0" x2="0" y2="1"><stop offset="0" stop-color="#fff2ee"/><stop offset="0.5" stop-color="#f8a08a"/><stop offset="1" stop-color="#e41a1c"/></linearGradient></defs>
<rect x="230.60" y="432.00" width="10.50" height="54.50" fill="url(#gE)"/>
<line x1="230.60" y1="485.40" x2="232.60" y2="485.40" stroke="#fff" stroke-width="0.8"/>
<line x1="239.10" y1="485.40" x2="241.10" y2="485.40" stroke="#fff" stroke-width="0.8"/>
<line x1="230.60" y1="433.00" x2="232.60" y2="433.00" stroke="#fff" stroke-width="0.8"/>
<line x1="239.10" y1="433.00" x2="241.10" y2="433.00" stroke="#fff" stroke-width="0.8"/>
<text x="244.10" y="436.90" font-size="7.2" text-anchor="start" textLength="14.6" lengthAdjust="spacingAndGlyphs">0.05</text>
<text x="244.10" y="487.20" font-size="7.2" text-anchor="start">0</text>
<rect x="282.90" y="384.20" width="181.81" height="136.72" fill="#c8c8c8"/>
<rect x="283.90" y="385.20" width="19.09" height="14.08" fill="#d73027"/>
<text x="293.44" y="394.54" font-size="7.4" text-anchor="middle">1.00</text>
<rect x="303.99" y="385.20" width="19.09" height="14.08" fill="#f7834d"/>
<text x="313.53" y="394.54" font-size="7.4" text-anchor="middle">0.92</text>
<rect x="324.08" y="385.20" width="19.09" height="14.08" fill="#fdae61"/>
<text x="333.62" y="394.54" font-size="7.4" text-anchor="middle">0.88</text>
<rect x="344.17" y="385.20" width="19.09" height="14.08" fill="#fdbf71"/>
<text x="353.71" y="394.54" font-size="7.4" text-anchor="middle">0.86</text>
<rect x="364.26" y="385.20" width="19.09" height="14.08" fill="#ceeaf3"/>
<text x="373.80" y="394.54" font-size="7.4" text-anchor="middle">0.68</text>
<rect x="384.35" y="385.20" width="19.09" height="14.08" fill="#6ca4cc"/>
<text x="393.89" y="394.54" font-size="7.4" text-anchor="middle">0.57</text>
<rect x="404.44" y="385.20" width="19.09" height="14.08" fill="#5588be"/>
<text x="413.99" y="394.54" font-size="7.4" text-anchor="middle">0.54</text>
<rect x="424.53" y="385.20" width="19.09" height="14.08" fill="#5588be"/>
<text x="434.07" y="394.54" font-size="7.4" text-anchor="middle">0.54</text>
<rect x="444.62" y="385.20" width="19.09" height="14.08" fill="#74add1"/>
<text x="454.16" y="394.54" font-size="7.4" text-anchor="middle">0.58</text>
<rect x="283.90" y="400.28" width="19.09" height="14.08" fill="#f7834d"/>
<text x="293.44" y="409.62" font-size="7.4" text-anchor="middle">0.92</text>
<rect x="303.99" y="400.28" width="19.09" height="14.08" fill="#d73027"/>
<text x="313.53" y="409.62" font-size="7.4" text-anchor="middle">1.00</text>
<rect x="324.08" y="400.28" width="19.09" height="14.08" fill="#f67848"/>
<text x="333.62" y="409.62" font-size="7.4" text-anchor="middle">0.93</text>
<rect x="344.17" y="400.28" width="19.09" height="14.08" fill="#fdae61"/>
<text x="353.71" y="409.62" font-size="7.4" text-anchor="middle">0.88</text>
<rect x="364.26" y="400.28" width="19.09" height="14.08" fill="#e0f3f8"/>
<text x="373.80" y="409.62" font-size="7.4" text-anchor="middle">0.70</text>
<rect x="384.35" y="400.28" width="19.09" height="14.08" fill="#74add1"/>
<text x="393.89" y="409.62" font-size="7.4" text-anchor="middle">0.58</text>
<rect x="404.44" y="400.28" width="19.09" height="14.08" fill="#74add1"/>
<text x="413.99" y="409.62" font-size="7.4" text-anchor="middle">0.58</text>
<rect x="424.53" y="400.28" width="19.09" height="14.08" fill="#649ac7"/>
<text x="434.07" y="409.62" font-size="7.4" text-anchor="middle">0.56</text>
<rect x="444.62" y="400.28" width="19.09" height="14.08" fill="#99cae1"/>
<text x="454.16" y="409.62" font-size="7.4" text-anchor="middle">0.62</text>
<rect x="283.90" y="415.36" width="19.09" height="14.08" fill="#fdae61"/>
<text x="293.44" y="424.70" font-size="7.4" text-anchor="middle">0.88</text>
<rect x="303.99" y="415.36" width="19.09" height="14.08" fill="#f67848"/>
<text x="313.53" y="424.70" font-size="7.4" text-anchor="middle">0.93</text>
<rect x="324.08" y="415.36" width="19.09" height="14.08" fill="#d73027"/>
<text x="333.62" y="424.70" font-size="7.4" text-anchor="middle">1.00</text>
<rect x="344.17" y="415.36" width="19.09" height="14.08" fill="#fdae61"/>
<text x="353.71" y="424.70" font-size="7.4" text-anchor="middle">0.88</text>
<rect x="364.26" y="415.36" width="19.09" height="14.08" fill="#ceeaf3"/>
<text x="373.80" y="424.70" font-size="7.4" text-anchor="middle">0.68</text>
<rect x="384.35" y="415.36" width="19.09" height="14.08" fill="#649ac7"/>
<text x="393.89" y="424.70" font-size="7.4" text-anchor="middle">0.56</text>
<rect x="404.44" y="415.36" width="19.09" height="14.08" fill="#649ac7"/>
<text x="413.99" y="424.70" font-size="7.4" text-anchor="middle">0.56</text>
<rect x="424.53" y="415.36" width="19.09" height="14.08" fill="#5588be"/>
<text x="434.07" y="424.70" font-size="7.4" text-anchor="middle">0.54</text>
<rect x="444.62" y="415.36" width="19.09" height="14.08" fill="#74add1"/>
<text x="454.16" y="424.70" font-size="7.4" text-anchor="middle">0.58</text>
<rect x="283.90" y="430.44" width="19.09" height="14.08" fill="#fdbf71"/>
<text x="293.44" y="439.78" font-size="7.4" text-anchor="middle">0.86</text>
<rect x="303.99" y="430.44" width="19.09" height="14.08" fill="#fdae61"/>
<text x="313.53" y="439.78" font-size="7.4" text-anchor="middle">0.88</text>
<rect x="324.08" y="430.44" width="19.09" height="14.08" fill="#fdae61"/>
<text x="333.62" y="439.78" font-size="7.4" text-anchor="middle">0.88</text>
<rect x="344.17" y="430.44" width="19.09" height="14.08" fill="#d73027"/>
<text x="353.71" y="439.78" font-size="7.4" text-anchor="middle">1.00</text>
<rect x="364.26" y="430.44" width="19.09" height="14.08" fill="#b4ddec"/>
<text x="373.80" y="439.78" font-size="7.4" text-anchor="middle">0.65</text>
<rect x="384.35" y="430.44" width="19.09" height="14.08" fill="#649ac7"/>
<text x="393.89" y="439.78" font-size="7.4" text-anchor="middle">0.56</text>
<rect x="404.44" y="430.44" width="19.09" height="14.08" fill="#4575b4"/>
<text x="413.99" y="439.78" font-size="7.4" text-anchor="middle">0.52</text>
<rect x="424.53" y="430.44" width="19.09" height="14.08" fill="#4575b4"/>
<text x="434.07" y="439.78" font-size="7.4" text-anchor="middle">0.52</text>
<rect x="444.62" y="430.44" width="19.09" height="14.08" fill="#649ac7"/>
<text x="454.16" y="439.78" font-size="7.4" text-anchor="middle">0.56</text>
<rect x="283.90" y="445.52" width="19.09" height="14.08" fill="#ceeaf3"/>
<text x="293.44" y="454.86" font-size="7.4" text-anchor="middle">0.68</text>
<rect x="303.99" y="445.52" width="19.09" height="14.08" fill="#e0f3f8"/>
<text x="313.53" y="454.86" font-size="7.4" text-anchor="middle">0.70</text>
<rect x="324.08" y="445.52" width="19.09" height="14.08" fill="#ceeaf3"/>
<text x="333.62" y="454.86" font-size="7.4" text-anchor="middle">0.68</text>
<rect x="344.17" y="445.52" width="19.09" height="14.08" fill="#b4ddec"/>
<text x="353.71" y="454.86" font-size="7.4" text-anchor="middle">0.65</text>
<rect x="364.26" y="445.52" width="19.09" height="14.08" fill="#d73027"/>
<text x="373.80" y="454.86" font-size="7.4" text-anchor="middle">1.00</text>
<rect x="384.35" y="445.52" width="19.09" height="14.08" fill="#f5fbd2"/>
<text x="393.89" y="454.86" font-size="7.4" text-anchor="middle">0.74</text>
<rect x="404.44" y="445.52" width="19.09" height="14.08" fill="#fec779"/>
<text x="413.99" y="454.86" font-size="7.4" text-anchor="middle">0.85</text>
<rect x="424.53" y="445.52" width="19.09" height="14.08" fill="#fff5af"/>
<text x="434.07" y="454.86" font-size="7.4" text-anchor="middle">0.78</text>
<rect x="444.62" y="445.52" width="19.09" height="14.08" fill="#fed888"/>
<text x="454.16" y="454.86" font-size="7.4" text-anchor="middle">0.83</text>
<rect x="283.90" y="460.60" width="19.09" height="14.08" fill="#6ca4cc"/>
<text x="293.44" y="469.94" font-size="7.4" text-anchor="middle">0.57</text>
<rect x="303.99" y="460.60" width="19.09" height="14.08" fill="#74add1"/>
<text x="313.53" y="469.94" font-size="7.4" text-anchor="middle">0.58</text>
<rect x="324.08" y="460.60" width="19.09" height="14.08" fill="#649ac7"/>
<text x="333.62" y="469.94" font-size="7.4" text-anchor="middle">0.56</text>
<rect x="344.17" y="460.60" width="19.09" height="14.08" fill="#649ac7"/>
<text x="353.71" y="469.94" font-size="7.4" text-anchor="middle">0.56</text>
<rect x="364.26" y="460.60" width="19.09" height="14.08" fill="#f5fbd2"/>
<text x="373.80" y="469.94" font-size="7.4" text-anchor="middle">0.74</text>
<rect x="384.35" y="460.60" width="19.09" height="14.08" fill="#d73027"/>
<text x="393.89" y="469.94" font-size="7.4" text-anchor="middle">1.00</text>
<rect x="404.44" y="460.60" width="19.09" height="14.08" fill="#bde2ee"/>
<text x="413.99" y="469.94" font-size="7.4" text-anchor="middle">0.66</text>
<rect x="424.53" y="460.60" width="19.09" height="14.08" fill="#7db4d5"/>
<text x="434.07" y="469.94" font-size="7.4" text-anchor="middle">0.59</text>
<rect x="444.62" y="460.60" width="19.09" height="14.08" fill="#fee090"/>
<text x="454.16" y="469.94" font-size="7.4" text-anchor="middle">0.82</text>
<rect x="283.90" y="475.68" width="19.09" height="14.08" fill="#5588be"/>
<text x="293.44" y="485.02" font-size="7.4" text-anchor="middle">0.54</text>
<rect x="303.99" y="475.68" width="19.09" height="14.08" fill="#74add1"/>
<text x="313.53" y="485.02" font-size="7.4" text-anchor="middle">0.58</text>
<rect x="324.08" y="475.68" width="19.09" height="14.08" fill="#649ac7"/>
<text x="333.62" y="485.02" font-size="7.4" text-anchor="middle">0.56</text>
<rect x="344.17" y="475.68" width="19.09" height="14.08" fill="#4575b4"/>
<text x="353.71" y="485.02" font-size="7.4" text-anchor="middle">0.52</text>
<rect x="364.26" y="475.68" width="19.09" height="14.08" fill="#fec779"/>
<text x="373.80" y="485.02" font-size="7.4" text-anchor="middle">0.85</text>
<rect x="384.35" y="475.68" width="19.09" height="14.08" fill="#bde2ee"/>
<text x="393.89" y="485.02" font-size="7.4" text-anchor="middle">0.66</text>
<rect x="404.44" y="475.68" width="19.09" height="14.08" fill="#d73027"/>
<text x="413.99" y="485.02" font-size="7.4" text-anchor="middle">1.00</text>
<rect x="424.53" y="475.68" width="19.09" height="14.08" fill="#fec779"/>
<text x="434.07" y="485.02" font-size="7.4" text-anchor="middle">0.85</text>
<rect x="444.62" y="475.68" width="19.09" height="14.08" fill="#fdb669"/>
<text x="454.16" y="485.02" font-size="7.4" text-anchor="middle">0.87</text>
<rect x="283.90" y="490.76" width="19.09" height="14.08" fill="#5588be"/>
<text x="293.44" y="500.10" font-size="7.4" text-anchor="middle">0.54</text>
<rect x="303.99" y="490.76" width="19.09" height="14.08" fill="#649ac7"/>
<text x="313.53" y="500.10" font-size="7.4" text-anchor="middle">0.56</text>
<rect x="324.08" y="490.76" width="19.09" height="14.08" fill="#5588be"/>
<text x="333.62" y="500.10" font-size="7.4" text-anchor="middle">0.54</text>
<rect x="344.17" y="490.76" width="19.09" height="14.08" fill="#4575b4"/>
<text x="353.71" y="500.10" font-size="7.4" text-anchor="middle">0.52</text>
<rect x="364.26" y="490.76" width="19.09" height="14.08" fill="#fff5af"/>
<text x="373.80" y="500.10" font-size="7.4" text-anchor="middle">0.78</text>
<rect x="384.35" y="490.76" width="19.09" height="14.08" fill="#7db4d5"/>
<text x="393.89" y="500.10" font-size="7.4" text-anchor="middle">0.59</text>
<rect x="404.44" y="490.76" width="19.09" height="14.08" fill="#fec779"/>
<text x="413.99" y="500.10" font-size="7.4" text-anchor="middle">0.85</text>
<rect x="424.53" y="490.76" width="19.09" height="14.08" fill="#d73027"/>
<text x="434.07" y="500.10" font-size="7.4" text-anchor="middle">1.00</text>
<rect x="444.62" y="490.76" width="19.09" height="14.08" fill="#fff5af"/>
<text x="454.16" y="500.10" font-size="7.4" text-anchor="middle">0.78</text>
<rect x="283.90" y="505.84" width="19.09" height="14.08" fill="#74add1"/>
<text x="293.44" y="515.18" font-size="7.4" text-anchor="middle">0.58</text>
<rect x="303.99" y="505.84" width="19.09" height="14.08" fill="#99cae1"/>
<text x="313.53" y="515.18" font-size="7.4" text-anchor="middle">0.62</text>
<rect x="324.08" y="505.84" width="19.09" height="14.08" fill="#74add1"/>
<text x="333.62" y="515.18" font-size="7.4" text-anchor="middle">0.58</text>
<rect x="344.17" y="505.84" width="19.09" height="14.08" fill="#649ac7"/>
<text x="353.71" y="515.18" font-size="7.4" text-anchor="middle">0.56</text>
<rect x="364.26" y="505.84" width="19.09" height="14.08" fill="#fed888"/>
<text x="373.80" y="515.18" font-size="7.4" text-anchor="middle">0.83</text>
<rect x="384.35" y="505.84" width="19.09" height="14.08" fill="#fee090"/>
<text x="393.89" y="515.18" font-size="7.4" text-anchor="middle">0.82</text>
<rect x="404.44" y="505.84" width="19.09" height="14.08" fill="#fdb669"/>
<text x="413.99" y="515.18" font-size="7.4" text-anchor="middle">0.87</text>
<rect x="424.53" y="505.84" width="19.09" height="14.08" fill="#fff5af"/>
<text x="434.07" y="515.18" font-size="7.4" text-anchor="middle">0.78</text>
<rect x="444.62" y="505.84" width="19.09" height="14.08" fill="#d73027"/>
<text x="454.16" y="515.18" font-size="7.4" text-anchor="middle">1.00</text>
<text x="467.30" y="394.24" font-size="8.1" text-anchor="start">LC_0</text>
<text x="467.30" y="409.32" font-size="8.1" text-anchor="start">LC_1</text>
<text x="467.30" y="424.40" font-size="8.1" text-anchor="start">LC_2</text>
<text x="467.30" y="439.48" font-size="8.1" text-anchor="start">LC_Prolif.</text>
<text x="467.30" y="454.56" font-size="8.1" text-anchor="start">cDC2/DC3</text>
<text x="467.30" y="469.64" font-size="8.1" text-anchor="start">pDC</text>
<text x="467.3" y="484.72" font-size="8.1">CD14<tspan font-size="5.6" dy="-3.2">+</tspan><tspan dy="3.2"> Mo</tspan></text>
<text x="467.3" y="499.80" font-size="8.1">CD16<tspan font-size="5.6" dy="-3.2">++</tspan><tspan dy="3.2" dx="0.8"> Mo</tspan></text>
<text x="467.30" y="514.88" font-size="8.1" text-anchor="start">iMo</text>
<text x="297.25" y="526.80" font-size="8.1" text-anchor="end" transform="rotate(-45 297.25 526.80)">LC_0</text>
<text x="317.33" y="526.80" font-size="8.1" text-anchor="end" transform="rotate(-45 317.33 526.80)">LC_1</text>
<text x="337.43" y="526.80" font-size="8.1" text-anchor="end" transform="rotate(-45 337.43 526.80)">LC_2</text>
<text x="357.51" y="526.80" font-size="8.1" text-anchor="end" transform="rotate(-45 357.51 526.80)">LC_Prolif.</text>
<text x="377.60" y="526.80" font-size="8.1" text-anchor="end" transform="rotate(-45 377.60 526.80)">cDC2/DC3</text>
<text x="397.69" y="526.80" font-size="8.1" text-anchor="end" transform="rotate(-45 397.69 526.80)">pDC</text>
<text x="417.79" y="526.8" font-size="8.1" text-anchor="end" transform="rotate(-45 417.79 526.8)">CD14<tspan font-size="5.6" dy="-3.2">+</tspan><tspan dy="3.2"> Mo</tspan></text>
<text x="437.88" y="526.8" font-size="8.1" text-anchor="end" transform="rotate(-45 437.88 526.8)">CD16<tspan font-size="5.6" dy="-3.2">++</tspan><tspan dy="3.2"> Mo</tspan></text>
<text x="457.96" y="526.80" font-size="8.1" text-anchor="end" transform="rotate(-45 457.96 526.80)">iMo</text>
<text x="293.50" y="566.20" font-size="7.4" text-anchor="start">Spearman correlation</text>
<defs><linearGradient id="gF" x1="0" y1="0" x2="1" y2="0"><stop offset="0.000" stop-color="#4575b4"/><stop offset="0.050" stop-color="#588bc0"/><stop offset="0.100" stop-color="#6ba2cb"/><stop offset="0.150" stop-color="#7fb6d6"/><stop offset="0.200" stop-color="#95c7df"/><stop offset="0.250" stop-color="#abd9e9"/><stop offset="0.300" stop-color="#c0e3ef"/><stop offset="0.350" stop-color="#d5eef5"/><stop offset="0.400" stop-color="#e6f5ed"/><stop offset="0.450" stop-color="#f3fad6"/><stop offset="0.500" stop-color="#ffffbf"/><stop offset="0.550" stop-color="#fff3ac"/><stop offset="0.600" stop-color="#fee699"/><stop offset="0.650" stop-color="#fed687"/><stop offset="0.700" stop-color="#fdc274"/><stop offset="0.750" stop-color="#fdae61"/><stop offset="0.800" stop-color="#f99455"/><stop offset="0.850" stop-color="#f67a49"/><stop offset="0.900" stop-color="#ee613d"/><stop offset="0.950" stop-color="#e34832"/><stop offset="1.000" stop-color="#d73027"/></linearGradient></defs>
<rect x="369.90" y="561.20" width="97.20" height="6.10" fill="url(#gF)"/>
<text x="386.10" y="575.60" font-size="6.8" text-anchor="middle" textLength="10.3" lengthAdjust="spacingAndGlyphs">0.6</text>
<text x="406.35" y="575.60" font-size="6.8" text-anchor="middle" textLength="10.3" lengthAdjust="spacingAndGlyphs">0.7</text>
<text x="426.60" y="575.60" font-size="6.8" text-anchor="middle" textLength="10.3" lengthAdjust="spacingAndGlyphs">0.8</text>
<text x="446.85" y="575.60" font-size="6.8" text-anchor="middle" textLength="10.3" lengthAdjust="spacingAndGlyphs">0.9</text>
<text x="467.10" y="575.60" font-size="6.8" text-anchor="middle">1</text></svg>
</body></html>
